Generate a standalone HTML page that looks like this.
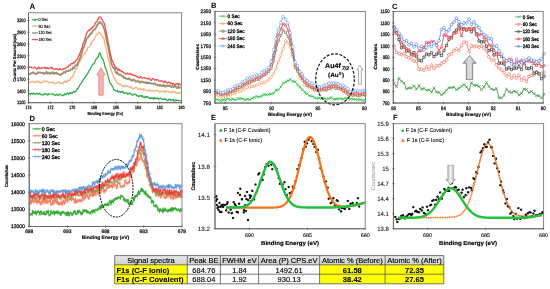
<!DOCTYPE html><html><head><meta charset="utf-8"><style>html,body{margin:0;padding:0;background:#fff;width:550px;height:289px;overflow:hidden}svg{display:block}text{font-family:"Liberation Sans", sans-serif;text-rendering:geometricPrecision}.wc{will-change:transform}</style></head><body><div style="position:relative;width:550px;height:289px;filter:blur(0.3px)"><svg class="wc" width="550" height="289" viewBox="0 0 550 289" style="position:absolute;left:0;top:0">
<defs><linearGradient id="ga" x1="0" x2="1"><stop offset="0" stop-color="#9a9a9a"/><stop offset="0.5" stop-color="#f4f4f4"/><stop offset="1" stop-color="#9a9a9a"/></linearGradient><linearGradient id="gc" x1="0" x2="1"><stop offset="0" stop-color="#b4b4b4"/><stop offset="0.5" stop-color="#dedede"/><stop offset="1" stop-color="#b0b0b0"/></linearGradient></defs>
<text x="29.4" y="8.7" font-size="7.90" text-anchor="start" font-weight="bold" fill="#000" >A</text>
<path d="M29.0 81.9 L29.7 82.1 L30.4 82.9 L31.1 82.1 L31.8 82.0 L32.5 82.2 L33.2 81.4 L33.9 81.9 L34.6 82.2 L35.3 82.6 L36.0 81.3 L36.7 81.5 L37.4 81.1 L38.1 82.4 L38.8 82.5 L39.5 81.2 L40.2 82.8 L40.9 83.1 L41.6 82.5 L42.3 82.3 L43.0 81.4 L43.7 80.9 L44.4 81.8 L45.1 81.1 L45.8 81.2 L46.5 81.4 L47.2 81.1 L47.9 81.9 L48.6 82.0 L49.3 82.9 L50.0 82.5 L50.7 82.6 L51.4 82.4 L52.1 82.8 L52.8 82.4 L53.5 82.1 L54.2 83.4 L54.9 83.8 L55.6 83.5 L56.3 83.3 L57.0 82.5 L57.7 82.2 L58.4 82.2 L59.1 81.9 L59.8 83.2 L60.5 82.8 L61.2 83.6 L61.9 82.9 L62.6 83.7 L63.3 83.4 L64.0 81.4 L64.7 81.2 L65.4 82.4 L66.1 81.5 L66.8 82.2 L67.5 80.9 L68.2 79.8 L68.9 80.5 L69.6 80.7 L70.3 79.2 L71.0 77.6 L71.7 77.0 L72.4 77.3 L73.1 76.1 L73.8 73.8 L74.5 72.8 L75.2 70.9 L75.9 69.2 L76.6 69.0 L77.3 66.5 L78.0 65.5 L78.7 63.8 L79.4 61.7 L80.1 61.2 L80.8 59.0 L81.5 58.7 L82.2 56.7 L82.9 56.0 L83.6 54.5 L84.3 53.4 L85.0 53.7 L85.7 52.5 L86.4 50.4 L87.1 50.2 L87.8 48.0 L88.5 47.1 L89.2 47.0 L89.9 45.7 L90.6 43.5 L91.3 44.0 L92.0 41.7 L92.7 40.6 L93.4 40.6 L94.1 38.9 L94.8 37.7 L95.5 36.2 L96.2 35.2 L96.9 35.2 L97.6 33.7 L98.3 33.3 L99.0 32.0 L99.7 32.3 L100.4 34.3 L101.1 34.6 L101.8 35.7 L102.5 37.3 L103.2 37.1 L103.9 38.2 L104.6 42.8 L105.3 46.0 L106.0 48.1 L106.7 50.9 L107.4 55.1 L108.1 58.8 L108.8 60.3 L109.5 64.1 L110.2 66.9 L110.9 69.0 L111.6 71.1 L112.3 73.0 L113.0 74.9 L113.7 77.8 L114.4 77.9 L115.1 79.7 L115.8 80.1 L116.5 82.2 L117.2 83.0 L117.9 83.5 L118.6 83.5 L119.3 84.8 L120.0 83.9 L120.7 84.3 L121.4 85.2 L122.1 86.2 L122.8 86.1 L123.5 85.6 L124.2 87.0 L124.9 86.0 L125.6 85.5 L126.3 86.0 L127.0 86.6 L127.7 86.0 L128.4 86.2 L129.1 86.8 L129.8 87.4 L130.5 86.7 L131.2 87.1 L131.9 88.3 L132.6 88.9 L133.3 88.4 L134.0 88.5 L134.7 88.4 L135.4 87.6 L136.1 87.3 L136.8 87.3 L137.5 89.2 L138.2 89.2 L138.9 89.8 L139.6 88.2 L140.3 89.2 L141.0 89.1 L141.7 89.6 L142.4 89.0 L143.1 90.3 L143.8 88.7 L144.5 89.4 L145.2 90.0 L145.9 90.5 L146.6 90.3 L147.3 90.3 L148.0 90.5 L148.7 90.8 L149.4 89.8 L150.1 90.4 L150.8 91.0 L151.5 91.1 L152.2 90.2 L152.9 90.9 L153.6 91.2 L154.3 90.7 L155.0 90.8 L155.7 90.4 L156.4 90.8 L157.1 91.0 L157.8 90.0 L158.5 91.0 L159.2 91.9 L159.9 92.0 L160.6 91.7 L161.3 91.0 L162.0 91.6 L162.7 91.5 L163.4 91.3 L164.1 92.1 L164.8 90.8 L165.5 91.9 L166.2 90.7 L166.9 91.7 L167.6 91.7 L168.3 91.2 L169.0 92.1 L169.7 92.0 L170.4 92.2 L171.1 92.9 L171.8 91.8 L172.5 91.2 L173.2 91.7 L173.9 92.6 L174.6 91.8 L175.3 91.7 L176.0 93.2 L176.7 93.0 L177.4 92.6 L178.1 93.5 L178.8 92.6 L179.5 93.2 L180.2 92.4 L180.9 92.7" fill="none" stroke="#f9b27a" stroke-width="1.30" stroke-linejoin="round"/>
<path d="M29.0 73.6 L29.7 74.0 L30.4 74.0 L31.1 73.0 L31.8 73.2 L32.5 72.7 L33.2 72.2 L33.9 72.8 L34.6 73.6 L35.3 73.8 L36.0 73.6 L36.7 74.0 L37.4 72.8 L38.1 72.3 L38.8 72.8 L39.5 72.5 L40.2 72.3 L40.9 72.7 L41.6 73.2 L42.3 73.0 L43.0 72.6 L43.7 73.6 L44.4 74.1 L45.1 73.1 L45.8 72.2 L46.5 72.0 L47.2 73.7 L47.9 72.4 L48.6 73.5 L49.3 73.4 L50.0 73.0 L50.7 73.8 L51.4 72.5 L52.1 72.5 L52.8 73.2 L53.5 72.5 L54.2 74.0 L54.9 73.1 L55.6 72.8 L56.3 72.6 L57.0 73.8 L57.7 73.6 L58.4 74.0 L59.1 74.2 L59.8 74.6 L60.5 75.0 L61.2 74.5 L61.9 73.5 L62.6 73.6 L63.3 72.7 L64.0 71.9 L64.7 72.4 L65.4 72.7 L66.1 71.4 L66.8 71.0 L67.5 70.8 L68.2 71.2 L68.9 70.7 L69.6 70.4 L70.3 70.4 L71.0 69.2 L71.7 69.4 L72.4 69.3 L73.1 67.3 L73.8 68.2 L74.5 67.6 L75.2 65.6 L75.9 65.3 L76.6 65.0 L77.3 64.9 L78.0 62.9 L78.7 61.1 L79.4 59.8 L80.1 57.8 L80.8 56.2 L81.5 53.3 L82.2 51.6 L82.9 48.7 L83.6 47.7 L84.3 46.1 L85.0 43.8 L85.7 42.0 L86.4 39.0 L87.1 38.3 L87.8 37.6 L88.5 36.9 L89.2 35.3 L89.9 34.9 L90.6 33.3 L91.3 33.6 L92.0 33.0 L92.7 31.3 L93.4 29.8 L94.1 29.6 L94.8 29.3 L95.5 28.7 L96.2 27.2 L96.9 25.1 L97.6 25.3 L98.3 23.0 L99.0 23.1 L99.7 21.6 L100.4 22.2 L101.1 23.7 L101.8 23.7 L102.5 24.7 L103.2 26.5 L103.9 28.3 L104.6 29.8 L105.3 33.1 L106.0 37.1 L106.7 39.8 L107.4 44.1 L108.1 46.1 L108.8 49.6 L109.5 53.8 L110.2 57.0 L110.9 61.3 L111.6 64.5 L112.3 65.5 L113.0 67.4 L113.7 68.2 L114.4 68.8 L115.1 70.1 L115.8 72.3 L116.5 73.3 L117.2 72.4 L117.9 73.9 L118.6 74.8 L119.3 74.5 L120.0 74.9 L120.7 74.6 L121.4 75.6 L122.1 76.1 L122.8 76.7 L123.5 76.1 L124.2 78.2 L124.9 78.1 L125.6 78.0 L126.3 78.9 L127.0 78.8 L127.7 78.8 L128.4 79.3 L129.1 78.3 L129.8 79.2 L130.5 79.3 L131.2 80.5 L131.9 80.9 L132.6 79.8 L133.3 80.1 L134.0 79.6 L134.7 80.3 L135.4 81.3 L136.1 81.9 L136.8 81.3 L137.5 81.0 L138.2 80.8 L138.9 81.8 L139.6 82.8 L140.3 81.5 L141.0 82.6 L141.7 81.4 L142.4 81.6 L143.1 81.8 L143.8 82.8 L144.5 82.4 L145.2 82.4 L145.9 83.1 L146.6 82.2 L147.3 83.4 L148.0 82.5 L148.7 83.2 L149.4 82.9 L150.1 82.8 L150.8 83.5 L151.5 83.6 L152.2 83.6 L152.9 83.7 L153.6 84.1 L154.3 83.5 L155.0 83.5 L155.7 84.5 L156.4 84.8 L157.1 84.7 L157.8 85.4 L158.5 85.1 L159.2 85.7 L159.9 84.6 L160.6 85.5 L161.3 85.9 L162.0 86.2 L162.7 85.1 L163.4 85.0 L164.1 86.3 L164.8 85.2 L165.5 86.6 L166.2 86.7 L166.9 85.3 L167.6 85.3 L168.3 86.3 L169.0 85.7 L169.7 85.3 L170.4 86.7 L171.1 86.3 L171.8 87.0 L172.5 85.9 L173.2 86.3 L173.9 87.0 L174.6 85.8 L175.3 86.0 L176.0 87.1 L176.7 87.9 L177.4 88.2 L178.1 86.6 L178.8 87.1 L179.5 87.8 L180.2 87.5 L180.9 87.9" fill="none" stroke="#a09070" stroke-width="1.80" stroke-linejoin="round"/>
<path d="M29.0 67.4 L29.7 67.0 L30.4 67.0 L31.1 66.9 L31.8 67.9 L32.5 68.0 L33.2 68.1 L33.9 67.3 L34.6 67.2 L35.3 67.3 L36.0 68.5 L36.7 69.1 L37.4 69.1 L38.1 67.4 L38.8 67.0 L39.5 68.7 L40.2 68.1 L40.9 68.5 L41.6 67.8 L42.3 67.9 L43.0 68.0 L43.7 67.9 L44.4 68.2 L45.1 67.1 L45.8 68.3 L46.5 68.8 L47.2 67.6 L47.9 68.0 L48.6 68.7 L49.3 68.2 L50.0 67.7 L50.7 67.5 L51.4 68.2 L52.1 67.4 L52.8 69.0 L53.5 69.2 L54.2 69.1 L54.9 69.4 L55.6 69.0 L56.3 68.6 L57.0 68.9 L57.7 68.8 L58.4 69.8 L59.1 69.6 L59.8 68.5 L60.5 69.7 L61.2 69.6 L61.9 69.7 L62.6 69.5 L63.3 68.4 L64.0 68.9 L64.7 68.7 L65.4 68.1 L66.1 67.9 L66.8 67.6 L67.5 66.5 L68.2 66.7 L68.9 65.2 L69.6 65.2 L70.3 65.1 L71.0 63.7 L71.7 63.7 L72.4 63.8 L73.1 63.4 L73.8 62.1 L74.5 62.8 L75.2 61.7 L75.9 60.2 L76.6 60.0 L77.3 59.1 L78.0 58.0 L78.7 55.7 L79.4 55.0 L80.1 52.6 L80.8 50.7 L81.5 48.9 L82.2 47.5 L82.9 43.8 L83.6 42.7 L84.3 41.2 L85.0 38.4 L85.7 36.6 L86.4 34.0 L87.1 32.2 L87.8 31.5 L88.5 30.3 L89.2 29.7 L89.9 30.3 L90.6 29.1 L91.3 28.1 L92.0 28.3 L92.7 26.9 L93.4 26.8 L94.1 25.5 L94.8 24.9 L95.5 22.5 L96.2 22.1 L96.9 21.5 L97.6 19.1 L98.3 19.4 L99.0 17.1 L99.7 17.0 L100.4 16.9 L101.1 18.0 L101.8 19.5 L102.5 19.6 L103.2 22.3 L103.9 22.7 L104.6 23.9 L105.3 27.7 L106.0 30.9 L106.7 34.3 L107.4 38.7 L108.1 42.3 L108.8 45.4 L109.5 49.9 L110.2 52.8 L110.9 55.8 L111.6 59.5 L112.3 60.4 L113.0 61.8 L113.7 64.2 L114.4 65.0 L115.1 67.2 L115.8 68.3 L116.5 67.5 L117.2 69.5 L117.9 70.1 L118.6 68.8 L119.3 70.5 L120.0 70.2 L120.7 70.6 L121.4 71.9 L122.1 71.1 L122.8 71.8 L123.5 73.0 L124.2 73.2 L124.9 73.0 L125.6 74.1 L126.3 74.2 L127.0 73.9 L127.7 73.0 L128.4 74.0 L129.1 74.0 L129.8 73.7 L130.5 73.4 L131.2 74.5 L131.9 74.1 L132.6 74.8 L133.3 75.5 L134.0 75.4 L134.7 75.1 L135.4 75.8 L136.1 75.8 L136.8 76.7 L137.5 76.5 L138.2 77.5 L138.9 77.8 L139.6 77.6 L140.3 76.7 L141.0 76.4 L141.7 78.0 L142.4 78.2 L143.1 78.0 L143.8 77.6 L144.5 77.4 L145.2 78.3 L145.9 78.4 L146.6 78.5 L147.3 78.8 L148.0 79.2 L148.7 78.2 L149.4 78.3 L150.1 79.9 L150.8 80.2 L151.5 80.3 L152.2 78.7 L152.9 78.6 L153.6 79.1 L154.3 79.6 L155.0 80.2 L155.7 79.4 L156.4 80.2 L157.1 79.6 L157.8 79.6 L158.5 80.9 L159.2 81.0 L159.9 81.3 L160.6 80.9 L161.3 81.2 L162.0 80.8 L162.7 81.1 L163.4 82.1 L164.1 82.5 L164.8 81.2 L165.5 81.1 L166.2 82.6 L166.9 82.6 L167.6 83.1 L168.3 82.1 L169.0 82.5 L169.7 82.3 L170.4 83.5 L171.1 83.0 L171.8 83.5 L172.5 84.4 L173.2 83.4 L173.9 83.7 L174.6 84.3 L175.3 84.9 L176.0 84.1 L176.7 83.9 L177.4 83.5 L178.1 85.0 L178.8 83.9 L179.5 83.7 L180.2 84.8 L180.9 84.9" fill="none" stroke="#f04a4a" stroke-width="1.25" stroke-linejoin="round"/>
<path d="M29.0 94.4 L29.7 93.7 L30.4 94.5 L31.1 93.2 L31.8 93.3 L32.5 94.2 L33.2 93.2 L33.9 93.4 L34.6 94.3 L35.3 94.5 L36.0 93.7 L36.7 93.2 L37.4 93.6 L38.1 94.4 L38.8 93.8 L39.5 93.2 L40.2 94.3 L40.9 94.2 L41.6 94.9 L42.3 95.1 L43.0 95.0 L43.7 94.1 L44.4 94.6 L45.1 93.7 L45.8 93.6 L46.5 93.8 L47.2 94.9 L47.9 95.1 L48.6 93.9 L49.3 93.9 L50.0 94.0 L50.7 94.0 L51.4 94.1 L52.1 94.1 L52.8 93.8 L53.5 94.5 L54.2 95.1 L54.9 94.8 L55.6 95.3 L56.3 94.9 L57.0 94.1 L57.7 95.1 L58.4 95.6 L59.1 94.6 L59.8 93.9 L60.5 94.7 L61.2 95.0 L61.9 95.1 L62.6 95.8 L63.3 95.2 L64.0 95.3 L64.7 93.7 L65.4 94.3 L66.1 94.7 L66.8 93.3 L67.5 92.9 L68.2 94.0 L68.9 94.5 L69.6 92.8 L70.3 93.5 L71.0 92.5 L71.7 93.4 L72.4 93.2 L73.1 92.0 L73.8 91.5 L74.5 92.2 L75.2 91.5 L75.9 91.6 L76.6 90.0 L77.3 88.6 L78.0 88.7 L78.7 87.2 L79.4 85.7 L80.1 84.6 L80.8 83.8 L81.5 82.7 L82.2 82.0 L82.9 80.0 L83.6 79.5 L84.3 78.2 L85.0 77.5 L85.7 76.3 L86.4 75.3 L87.1 74.3 L87.8 73.4 L88.5 71.7 L89.2 70.3 L89.9 69.5 L90.6 68.6 L91.3 66.8 L92.0 65.7 L92.7 64.1 L93.4 64.2 L94.1 63.9 L94.8 61.9 L95.5 60.2 L96.2 59.2 L96.9 58.6 L97.6 57.1 L98.3 56.9 L99.0 53.9 L99.7 52.7 L100.4 53.8 L101.1 56.3 L101.8 58.3 L102.5 58.7 L103.2 59.7 L103.9 62.1 L104.6 64.9 L105.3 68.0 L106.0 68.8 L106.7 71.1 L107.4 73.6 L108.1 76.1 L108.8 78.6 L109.5 81.8 L110.2 83.1 L110.9 83.6 L111.6 84.7 L112.3 86.2 L113.0 87.3 L113.7 89.8 L114.4 89.8 L115.1 90.3 L115.8 91.1 L116.5 90.7 L117.2 90.3 L117.9 91.7 L118.6 92.1 L119.3 91.2 L120.0 91.6 L120.7 92.6 L121.4 92.0 L122.1 91.5 L122.8 91.2 L123.5 93.1 L124.2 93.3 L124.9 92.6 L125.6 92.9 L126.3 93.1 L127.0 92.8 L127.7 94.3 L128.4 94.1 L129.1 93.3 L129.8 92.9 L130.5 93.8 L131.2 93.9 L131.9 94.9 L132.6 95.1 L133.3 95.0 L134.0 94.2 L134.7 94.1 L135.4 94.6 L136.1 94.6 L136.8 96.0 L137.5 95.7 L138.2 95.9 L138.9 96.8 L139.6 95.7 L140.3 96.1 L141.0 95.5 L141.7 96.7 L142.4 95.6 L143.1 97.1 L143.8 97.5 L144.5 97.7 L145.2 96.4 L145.9 96.5 L146.6 97.5 L147.3 96.6 L148.0 97.2 L148.7 97.4 L149.4 98.5 L150.1 98.0 L150.8 98.6 L151.5 97.6 L152.2 98.5 L152.9 98.0 L153.6 99.0 L154.3 97.6 L155.0 98.9 L155.7 97.9 L156.4 98.5 L157.1 98.7 L157.8 98.0 L158.5 99.3 L159.2 98.6 L159.9 98.6 L160.6 98.1 L161.3 98.5 L162.0 99.0 L162.7 99.7 L163.4 99.1 L164.1 99.7 L164.8 98.7 L165.5 99.2 L166.2 99.4 L166.9 100.6 L167.6 100.6 L168.3 100.3 L169.0 99.0 L169.7 99.5 L170.4 100.3 L171.1 99.6 L171.8 100.2 L172.5 100.1 L173.2 99.3 L173.9 101.1 L174.6 101.1 L175.3 100.0 L176.0 100.7 L176.7 100.2 L177.4 100.3 L178.1 100.7 L178.8 100.4 L179.5 100.5 L180.2 100.6 L180.9 101.3" fill="none" stroke="#22aa44" stroke-width="1.20" stroke-linejoin="round"/>
<path d="M101 67.8 L105.2 75 L103.2 75 L103.2 95.2 L98.8 95.2 L98.8 75 L96.8 75 Z" fill="#f8b4b4" stroke="#e47070" stroke-width="0.7"/>
<rect x="28.5" y="12.8" width="153.1" height="89.9" fill="none" stroke="#7a7a7a" stroke-width="0.90"/>
<path d="M28.5 12.8 V102.7 H181.6" fill="none" stroke="#666" stroke-width="0.90"/>
<path d="M27.2 20.5 h2.6" stroke="#555" stroke-width="0.6"/>
<text x="25.6" y="22.3" font-size="4.90" text-anchor="end" font-weight="normal" fill="#1a1a1a" stroke="#1a1a1a" stroke-width="0.30" textLength="8.6" lengthAdjust="spacingAndGlyphs" >3200</text>
<path d="M27.2 32.2 h2.6" stroke="#555" stroke-width="0.6"/>
<text x="25.6" y="34.0" font-size="4.90" text-anchor="end" font-weight="normal" fill="#1a1a1a" stroke="#1a1a1a" stroke-width="0.30" textLength="8.6" lengthAdjust="spacingAndGlyphs" >2900</text>
<path d="M27.2 44.0 h2.6" stroke="#555" stroke-width="0.6"/>
<text x="25.6" y="45.7" font-size="4.90" text-anchor="end" font-weight="normal" fill="#1a1a1a" stroke="#1a1a1a" stroke-width="0.30" textLength="8.6" lengthAdjust="spacingAndGlyphs" >2600</text>
<path d="M27.2 55.7 h2.6" stroke="#555" stroke-width="0.6"/>
<text x="25.6" y="57.5" font-size="4.90" text-anchor="end" font-weight="normal" fill="#1a1a1a" stroke="#1a1a1a" stroke-width="0.30" textLength="8.6" lengthAdjust="spacingAndGlyphs" >2300</text>
<path d="M27.2 67.4 h2.6" stroke="#555" stroke-width="0.6"/>
<text x="25.6" y="69.2" font-size="4.90" text-anchor="end" font-weight="normal" fill="#1a1a1a" stroke="#1a1a1a" stroke-width="0.30" textLength="8.6" lengthAdjust="spacingAndGlyphs" >2000</text>
<path d="M27.2 79.2 h2.6" stroke="#555" stroke-width="0.6"/>
<text x="25.6" y="80.9" font-size="4.90" text-anchor="end" font-weight="normal" fill="#1a1a1a" stroke="#1a1a1a" stroke-width="0.30" textLength="8.6" lengthAdjust="spacingAndGlyphs" >1700</text>
<path d="M27.2 90.9 h2.6" stroke="#555" stroke-width="0.6"/>
<text x="25.6" y="92.6" font-size="4.90" text-anchor="end" font-weight="normal" fill="#1a1a1a" stroke="#1a1a1a" stroke-width="0.30" textLength="8.6" lengthAdjust="spacingAndGlyphs" >1400</text>
<path d="M27.2 102.6 h2.6" stroke="#555" stroke-width="0.6"/>
<text x="25.6" y="104.4" font-size="4.90" text-anchor="end" font-weight="normal" fill="#1a1a1a" stroke="#1a1a1a" stroke-width="0.30" textLength="8.6" lengthAdjust="spacingAndGlyphs" >1100</text>
<path d="M28.5 101.4 v2.6" stroke="#555" stroke-width="0.6"/>
<text x="28.5" y="109.4" font-size="4.70" text-anchor="middle" font-weight="normal" fill="#1a1a1a" stroke="#1a1a1a" stroke-width="0.30" textLength="6.0" lengthAdjust="spacingAndGlyphs" >174</text>
<path d="M50.4 101.4 v2.6" stroke="#555" stroke-width="0.6"/>
<text x="50.4" y="109.4" font-size="4.70" text-anchor="middle" font-weight="normal" fill="#1a1a1a" stroke="#1a1a1a" stroke-width="0.30" textLength="6.0" lengthAdjust="spacingAndGlyphs" >172</text>
<path d="M72.2 101.4 v2.6" stroke="#555" stroke-width="0.6"/>
<text x="72.2" y="109.4" font-size="4.70" text-anchor="middle" font-weight="normal" fill="#1a1a1a" stroke="#1a1a1a" stroke-width="0.30" textLength="6.0" lengthAdjust="spacingAndGlyphs" >170</text>
<path d="M94.1 101.4 v2.6" stroke="#555" stroke-width="0.6"/>
<text x="94.1" y="109.4" font-size="4.70" text-anchor="middle" font-weight="normal" fill="#1a1a1a" stroke="#1a1a1a" stroke-width="0.30" textLength="6.0" lengthAdjust="spacingAndGlyphs" >168</text>
<path d="M116.0 101.4 v2.6" stroke="#555" stroke-width="0.6"/>
<text x="116.0" y="109.4" font-size="4.70" text-anchor="middle" font-weight="normal" fill="#1a1a1a" stroke="#1a1a1a" stroke-width="0.30" textLength="6.0" lengthAdjust="spacingAndGlyphs" >166</text>
<path d="M137.9 101.4 v2.6" stroke="#555" stroke-width="0.6"/>
<text x="137.9" y="109.4" font-size="4.70" text-anchor="middle" font-weight="normal" fill="#1a1a1a" stroke="#1a1a1a" stroke-width="0.30" textLength="6.0" lengthAdjust="spacingAndGlyphs" >164</text>
<path d="M159.7 101.4 v2.6" stroke="#555" stroke-width="0.6"/>
<text x="159.7" y="109.4" font-size="4.70" text-anchor="middle" font-weight="normal" fill="#1a1a1a" stroke="#1a1a1a" stroke-width="0.30" textLength="6.0" lengthAdjust="spacingAndGlyphs" >162</text>
<path d="M181.6 101.4 v2.6" stroke="#555" stroke-width="0.6"/>
<text x="181.6" y="109.4" font-size="4.70" text-anchor="middle" font-weight="normal" fill="#1a1a1a" stroke="#1a1a1a" stroke-width="0.30" textLength="6.0" lengthAdjust="spacingAndGlyphs" >160</text>
<text x="105.2" y="115.0" font-size="4.30" text-anchor="middle" font-weight="bold" fill="#000" stroke="#000" stroke-width="0.15" textLength="35.5" lengthAdjust="spacingAndGlyphs" >Binding Energy (Ev)</text>
<text x="0" y="0" font-size="4.20" font-weight="bold" fill="#000" stroke="#000" stroke-width="0.18" textLength="48.0" lengthAdjust="spacingAndGlyphs" text-anchor="middle" transform="translate(15.6 57.8) rotate(-90)">Counts Per Second (cps)</text>
<path d="M32 19.7 h6" stroke="#22aa44" stroke-width="1.1"/>
<path d="M34.3 19.0h1.44v1.44h-1.44z" fill="none" stroke="#22aa44" stroke-width="0.60"/>
<text x="38.4" y="21.2" font-size="4.40" text-anchor="start" font-weight="normal" fill="#000" stroke="#000" stroke-width="0.15" textLength="9.5" lengthAdjust="spacingAndGlyphs" >0 Sec</text>
<path d="M32 26.1 h6" stroke="#f9b27a" stroke-width="1.1"/>
<path d="M35.0 25.2l0.90 0.90l-0.90 0.90l-0.90 -0.90z" fill="none" stroke="#f9b27a" stroke-width="0.60"/>
<text x="38.4" y="27.6" font-size="4.40" text-anchor="start" font-weight="normal" fill="#000" stroke="#000" stroke-width="0.15" textLength="12.0" lengthAdjust="spacingAndGlyphs" >60 Sec</text>
<path d="M32 32.9 h6" stroke="#a09070" stroke-width="1.1"/>
<path d="M35.0 32.0l0.90 0.90l-0.90 0.90l-0.90 -0.90z" fill="none" stroke="#a09070" stroke-width="0.60"/>
<text x="38.4" y="34.4" font-size="4.40" text-anchor="start" font-weight="normal" fill="#000" stroke="#000" stroke-width="0.15" textLength="13.5" lengthAdjust="spacingAndGlyphs" >120 Sec</text>
<path d="M32 39.6 h6" stroke="#f04a4a" stroke-width="1.1"/>
<path d="M34.1 38.7l1.80 1.80M34.1 40.5l1.80 -1.80" fill="none" stroke="#f04a4a" stroke-width="0.60"/>
<text x="38.4" y="41.1" font-size="4.40" text-anchor="start" font-weight="normal" fill="#000" stroke="#000" stroke-width="0.15" textLength="13.5" lengthAdjust="spacingAndGlyphs" >180 Sec</text>
<text x="211.0" y="8.0" font-size="7.60" text-anchor="start" font-weight="bold" fill="#000" >B</text>
<path d="M216.0 99.4 L217.2 99.2 L218.4 100.1 L219.6 99.5 L220.8 100.5 L222.0 100.0 L223.2 100.2 L224.4 99.5 L225.6 100.2 L226.8 99.0 L228.0 98.8 L229.2 98.7 L230.4 99.7 L231.6 99.9 L232.8 99.0 L234.0 99.2 L235.2 100.0 L236.4 99.7 L237.6 98.7 L238.8 98.7 L240.0 98.6 L241.2 98.5 L242.4 98.9 L243.6 98.4 L244.8 99.8 L246.0 99.2 L247.2 99.2 L248.4 99.4 L249.6 99.6 L250.8 99.5 L252.0 98.4 L253.2 97.7 L254.4 97.4 L255.6 96.3 L256.8 96.4 L258.0 96.7 L259.2 96.9 L260.4 96.4 L261.6 96.0 L262.8 95.7 L264.0 94.5 L265.2 94.8 L266.4 94.7 L267.6 95.2 L268.8 94.2 L270.0 94.4 L271.2 93.9 L272.4 93.7 L273.6 93.0 L274.8 91.9 L276.0 90.2 L277.2 90.3 L278.4 89.9 L279.6 88.5 L280.8 86.7 L282.0 85.3 L283.2 83.1 L284.4 82.4 L285.6 82.1 L286.8 80.9 L288.0 80.7 L289.2 80.5 L290.4 79.3 L291.6 81.1 L292.8 81.5 L294.0 81.4 L295.2 81.7 L296.4 83.1 L297.6 84.8 L298.8 86.3 L300.0 86.8 L301.2 89.1 L302.4 89.7 L303.6 91.2 L304.8 92.0 L306.0 94.2 L307.2 93.6 L308.4 95.4 L309.6 95.7 L310.8 96.1 L312.0 96.4 L313.2 96.2 L314.4 97.6 L315.6 98.3 L316.8 98.4 L318.0 98.4 L319.2 97.8 L320.4 99.1 L321.6 98.3 L322.8 99.3 L324.0 98.3 L325.2 98.7 L326.4 99.2 L327.6 98.2 L328.8 98.6 L330.0 97.8 L331.2 97.6 L332.4 97.8 L333.6 99.3 L334.8 99.5 L336.0 99.1 L337.2 98.3 L338.4 98.9 L339.6 99.1 L340.8 98.5 L342.0 98.8 L343.2 99.3 L344.4 98.1 L345.6 98.2 L346.8 98.8 L348.0 98.3 L349.2 98.7 L350.4 99.2 L351.6 98.6 L352.8 99.2 L354.0 98.9 L355.2 99.4 L356.4 99.2 L357.6 99.7 L358.8 98.8 L360.0 99.8 L361.2 99.1 L362.4 100.5 L363.6 100.1 L364.8 99.9" fill="none" stroke="#2ec040" stroke-width="0.9"/>
<path d="M214.6 98.0l2.90 2.90M214.6 100.9l2.90 -2.90M217.0 98.7l2.90 2.90M217.0 101.6l2.90 -2.90M219.4 99.1l2.90 2.90M219.4 102.0l2.90 -2.90M221.8 98.7l2.90 2.90M221.8 101.6l2.90 -2.90M224.2 98.8l2.90 2.90M224.2 101.7l2.90 -2.90M226.6 97.4l2.90 2.90M226.6 100.3l2.90 -2.90M229.0 98.2l2.90 2.90M229.0 101.1l2.90 -2.90M231.4 97.5l2.90 2.90M231.4 100.4l2.90 -2.90M233.8 98.5l2.90 2.90M233.8 101.4l2.90 -2.90M236.2 97.3l2.90 2.90M236.2 100.2l2.90 -2.90M238.6 97.1l2.90 2.90M238.6 100.0l2.90 -2.90M241.0 97.5l2.90 2.90M241.0 100.4l2.90 -2.90M243.4 98.4l2.90 2.90M243.4 101.3l2.90 -2.90M245.8 97.7l2.90 2.90M245.8 100.6l2.90 -2.90M248.2 98.2l2.90 2.90M248.2 101.1l2.90 -2.90M250.6 96.9l2.90 2.90M250.6 99.8l2.90 -2.90M253.0 95.9l2.90 2.90M253.0 98.8l2.90 -2.90M255.4 95.0l2.90 2.90M255.4 97.9l2.90 -2.90M257.8 95.4l2.90 2.90M257.8 98.3l2.90 -2.90M260.2 94.5l2.90 2.90M260.2 97.4l2.90 -2.90M262.6 93.1l2.90 2.90M262.6 96.0l2.90 -2.90M264.9 93.3l2.90 2.90M264.9 96.2l2.90 -2.90M267.4 92.8l2.90 2.90M267.4 95.7l2.90 -2.90M269.8 92.5l2.90 2.90M269.8 95.4l2.90 -2.90M272.2 91.6l2.90 2.90M272.2 94.5l2.90 -2.90M274.6 88.7l2.90 2.90M274.6 91.6l2.90 -2.90M276.9 88.4l2.90 2.90M276.9 91.3l2.90 -2.90M279.4 85.3l2.90 2.90M279.4 88.2l2.90 -2.90M281.8 81.7l2.90 2.90M281.8 84.6l2.90 -2.90M284.2 80.6l2.90 2.90M284.2 83.5l2.90 -2.90M286.6 79.2l2.90 2.90M286.6 82.1l2.90 -2.90M288.9 77.9l2.90 2.90M288.9 80.8l2.90 -2.90M291.4 80.0l2.90 2.90M291.4 82.9l2.90 -2.90M293.8 80.3l2.90 2.90M293.8 83.2l2.90 -2.90M296.2 83.4l2.90 2.90M296.2 86.3l2.90 -2.90M298.6 85.3l2.90 2.90M298.6 88.2l2.90 -2.90M300.9 88.3l2.90 2.90M300.9 91.2l2.90 -2.90M303.4 90.5l2.90 2.90M303.4 93.4l2.90 -2.90M305.8 92.2l2.90 2.90M305.8 95.1l2.90 -2.90M308.2 94.2l2.90 2.90M308.2 97.1l2.90 -2.90M310.6 95.0l2.90 2.90M310.6 97.9l2.90 -2.90M312.9 96.2l2.90 2.90M312.9 99.1l2.90 -2.90M315.4 97.0l2.90 2.90M315.4 99.9l2.90 -2.90M317.8 96.3l2.90 2.90M317.8 99.2l2.90 -2.90M320.2 96.9l2.90 2.90M320.2 99.8l2.90 -2.90M322.6 96.8l2.90 2.90M322.6 99.7l2.90 -2.90M324.9 97.8l2.90 2.90M324.9 100.7l2.90 -2.90M327.4 97.1l2.90 2.90M327.4 100.0l2.90 -2.90M329.8 96.2l2.90 2.90M329.8 99.1l2.90 -2.90M332.2 97.9l2.90 2.90M332.2 100.8l2.90 -2.90M334.6 97.6l2.90 2.90M334.6 100.5l2.90 -2.90M336.9 97.4l2.90 2.90M336.9 100.3l2.90 -2.90M339.4 97.1l2.90 2.90M339.4 100.0l2.90 -2.90M341.8 97.9l2.90 2.90M341.8 100.8l2.90 -2.90M344.2 96.7l2.90 2.90M344.2 99.6l2.90 -2.90M346.6 96.9l2.90 2.90M346.6 99.8l2.90 -2.90M348.9 97.7l2.90 2.90M348.9 100.6l2.90 -2.90M351.3 97.7l2.90 2.90M351.3 100.6l2.90 -2.90M353.8 98.0l2.90 2.90M353.8 100.9l2.90 -2.90M356.2 98.3l2.90 2.90M356.2 101.2l2.90 -2.90M358.6 98.3l2.90 2.90M358.6 101.2l2.90 -2.90M360.9 99.0l2.90 2.90M360.9 101.9l2.90 -2.90M363.3 98.4l2.90 2.90M363.3 101.3l2.90 -2.90" fill="none" stroke="#2ec040" stroke-width="0.60"/>
<path d="M216.0 94.9 L217.2 95.5 L218.4 95.9 L219.6 96.3 L220.8 96.6 L222.0 96.4 L223.2 97.4 L224.4 97.3 L225.6 96.9 L226.8 95.7 L228.0 95.1 L229.2 94.9 L230.4 95.1 L231.6 94.1 L232.8 93.6 L234.0 93.0 L235.2 93.3 L236.4 92.0 L237.6 90.9 L238.8 91.6 L240.0 91.7 L241.2 91.0 L242.4 90.3 L243.6 90.1 L244.8 88.9 L246.0 88.8 L247.2 87.5 L248.4 87.1 L249.6 87.2 L250.8 87.1 L252.0 86.6 L253.2 85.6 L254.4 86.2 L255.6 85.7 L256.8 84.8 L258.0 84.5 L259.2 84.3 L260.4 83.5 L261.6 82.5 L262.8 83.3 L264.0 83.0 L265.2 81.8 L266.4 81.4 L267.6 80.0 L268.8 79.8 L270.0 78.2 L271.2 77.1 L272.4 75.1 L273.6 73.9 L274.8 70.7 L276.0 68.7 L277.2 64.5 L278.4 61.8 L279.6 59.5 L280.8 54.8 L282.0 51.9 L283.2 48.9 L284.4 45.1 L285.6 40.9 L286.8 40.9 L288.0 43.2 L289.2 44.5 L290.4 47.3 L291.6 52.5 L292.8 56.4 L294.0 61.0 L295.2 65.5 L296.4 67.8 L297.6 70.9 L298.8 74.8 L300.0 78.0 L301.2 79.0 L302.4 80.1 L303.6 81.9 L304.8 84.9 L306.0 86.1 L307.2 85.9 L308.4 87.8 L309.6 88.0 L310.8 88.5 L312.0 88.2 L313.2 89.5 L314.4 90.2 L315.6 89.0 L316.8 89.7 L318.0 89.2 L319.2 90.5 L320.4 89.3 L321.6 89.2 L322.8 90.2 L324.0 89.7 L325.2 90.6 L326.4 90.4 L327.6 89.8 L328.8 88.3 L330.0 88.7 L331.2 89.1 L332.4 88.1 L333.6 87.0 L334.8 86.9 L336.0 87.3 L337.2 88.4 L338.4 88.0 L339.6 88.2 L340.8 88.9 L342.0 90.4 L343.2 91.5 L344.4 91.5 L345.6 92.6 L346.8 93.8 L348.0 94.1 L349.2 94.1 L350.4 94.6 L351.6 95.7 L352.8 95.5 L354.0 94.8 L355.2 95.4 L356.4 94.5 L357.6 96.0 L358.8 95.3 L360.0 95.4 L361.2 95.4 L362.4 94.6 L363.6 95.5 L364.8 95.1" fill="none" stroke="#ff8a3d" stroke-width="0.9"/>
<path d="M216.0 93.3l1.55 1.55l-1.55 1.55l-1.55 -1.55zM218.4 94.3l1.55 1.55l-1.55 1.55l-1.55 -1.55zM220.8 95.0l1.55 1.55l-1.55 1.55l-1.55 -1.55zM223.2 95.9l1.55 1.55l-1.55 1.55l-1.55 -1.55zM225.6 95.4l1.55 1.55l-1.55 1.55l-1.55 -1.55zM228.0 93.6l1.55 1.55l-1.55 1.55l-1.55 -1.55zM230.4 93.6l1.55 1.55l-1.55 1.55l-1.55 -1.55zM232.8 92.0l1.55 1.55l-1.55 1.55l-1.55 -1.55zM235.2 91.8l1.55 1.55l-1.55 1.55l-1.55 -1.55zM237.6 89.4l1.55 1.55l-1.55 1.55l-1.55 -1.55zM240.0 90.1l1.55 1.55l-1.55 1.55l-1.55 -1.55zM242.4 88.8l1.55 1.55l-1.55 1.55l-1.55 -1.55zM244.8 87.4l1.55 1.55l-1.55 1.55l-1.55 -1.55zM247.2 86.0l1.55 1.55l-1.55 1.55l-1.55 -1.55zM249.6 85.7l1.55 1.55l-1.55 1.55l-1.55 -1.55zM252.0 85.0l1.55 1.55l-1.55 1.55l-1.55 -1.55zM254.4 84.7l1.55 1.55l-1.55 1.55l-1.55 -1.55zM256.8 83.3l1.55 1.55l-1.55 1.55l-1.55 -1.55zM259.2 82.7l1.55 1.55l-1.55 1.55l-1.55 -1.55zM261.6 81.0l1.55 1.55l-1.55 1.55l-1.55 -1.55zM264.0 81.4l1.55 1.55l-1.55 1.55l-1.55 -1.55zM266.4 79.9l1.55 1.55l-1.55 1.55l-1.55 -1.55zM268.8 78.3l1.55 1.55l-1.55 1.55l-1.55 -1.55zM271.2 75.6l1.55 1.55l-1.55 1.55l-1.55 -1.55zM273.6 72.3l1.55 1.55l-1.55 1.55l-1.55 -1.55zM276.0 67.2l1.55 1.55l-1.55 1.55l-1.55 -1.55zM278.4 60.3l1.55 1.55l-1.55 1.55l-1.55 -1.55zM280.8 53.3l1.55 1.55l-1.55 1.55l-1.55 -1.55zM283.2 47.3l1.55 1.55l-1.55 1.55l-1.55 -1.55zM285.6 39.3l1.55 1.55l-1.55 1.55l-1.55 -1.55zM288.0 41.6l1.55 1.55l-1.55 1.55l-1.55 -1.55zM290.4 45.8l1.55 1.55l-1.55 1.55l-1.55 -1.55zM292.8 54.9l1.55 1.55l-1.55 1.55l-1.55 -1.55zM295.2 64.0l1.55 1.55l-1.55 1.55l-1.55 -1.55zM297.6 69.4l1.55 1.55l-1.55 1.55l-1.55 -1.55zM300.0 76.5l1.55 1.55l-1.55 1.55l-1.55 -1.55zM302.4 78.6l1.55 1.55l-1.55 1.55l-1.55 -1.55zM304.8 83.3l1.55 1.55l-1.55 1.55l-1.55 -1.55zM307.2 84.3l1.55 1.55l-1.55 1.55l-1.55 -1.55zM309.6 86.5l1.55 1.55l-1.55 1.55l-1.55 -1.55zM312.0 86.6l1.55 1.55l-1.55 1.55l-1.55 -1.55zM314.4 88.6l1.55 1.55l-1.55 1.55l-1.55 -1.55zM316.8 88.1l1.55 1.55l-1.55 1.55l-1.55 -1.55zM319.2 88.9l1.55 1.55l-1.55 1.55l-1.55 -1.55zM321.6 87.6l1.55 1.55l-1.55 1.55l-1.55 -1.55zM324.0 88.2l1.55 1.55l-1.55 1.55l-1.55 -1.55zM326.4 88.8l1.55 1.55l-1.55 1.55l-1.55 -1.55zM328.8 86.8l1.55 1.55l-1.55 1.55l-1.55 -1.55zM331.2 87.5l1.55 1.55l-1.55 1.55l-1.55 -1.55zM333.6 85.5l1.55 1.55l-1.55 1.55l-1.55 -1.55zM336.0 85.8l1.55 1.55l-1.55 1.55l-1.55 -1.55zM338.4 86.5l1.55 1.55l-1.55 1.55l-1.55 -1.55zM340.8 87.3l1.55 1.55l-1.55 1.55l-1.55 -1.55zM343.2 89.9l1.55 1.55l-1.55 1.55l-1.55 -1.55zM345.6 91.1l1.55 1.55l-1.55 1.55l-1.55 -1.55zM348.0 92.6l1.55 1.55l-1.55 1.55l-1.55 -1.55zM350.4 93.0l1.55 1.55l-1.55 1.55l-1.55 -1.55zM352.8 94.0l1.55 1.55l-1.55 1.55l-1.55 -1.55zM355.2 93.8l1.55 1.55l-1.55 1.55l-1.55 -1.55zM357.6 94.4l1.55 1.55l-1.55 1.55l-1.55 -1.55zM360.0 93.8l1.55 1.55l-1.55 1.55l-1.55 -1.55zM362.4 93.1l1.55 1.55l-1.55 1.55l-1.55 -1.55zM364.8 93.6l1.55 1.55l-1.55 1.55l-1.55 -1.55z" fill="#fff" stroke="#ff8a3d" stroke-width="0.60"/>
<path d="M216.0 92.8 L217.2 93.9 L218.4 93.1 L219.6 93.5 L220.8 94.6 L222.0 94.2 L223.2 94.3 L224.4 94.8 L225.6 93.7 L226.8 94.4 L228.0 94.3 L229.2 92.1 L230.4 92.1 L231.6 92.2 L232.8 91.1 L234.0 91.5 L235.2 90.3 L236.4 89.1 L237.6 89.2 L238.8 88.8 L240.0 87.6 L241.2 87.3 L242.4 86.9 L243.6 85.8 L244.8 85.0 L246.0 84.8 L247.2 83.9 L248.4 83.0 L249.6 83.2 L250.8 81.5 L252.0 81.9 L253.2 80.5 L254.4 80.7 L255.6 79.7 L256.8 79.5 L258.0 79.7 L259.2 79.4 L260.4 78.9 L261.6 77.1 L262.8 76.5 L264.0 75.2 L265.2 75.0 L266.4 74.1 L267.6 72.4 L268.8 71.8 L270.0 70.4 L271.2 68.4 L272.4 66.3 L273.6 60.8 L274.8 55.9 L276.0 50.1 L277.2 45.4 L278.4 41.0 L279.6 38.3 L280.8 35.3 L282.0 33.6 L283.2 29.8 L284.4 31.4 L285.6 32.8 L286.8 34.4 L288.0 36.6 L289.2 39.6 L290.4 43.3 L291.6 48.7 L292.8 54.5 L294.0 61.2 L295.2 67.5 L296.4 69.6 L297.6 71.3 L298.8 73.9 L300.0 75.3 L301.2 78.1 L302.4 78.9 L303.6 80.5 L304.8 82.0 L306.0 84.0 L307.2 85.4 L308.4 86.4 L309.6 86.0 L310.8 87.1 L312.0 87.7 L313.2 88.0 L314.4 89.9 L315.6 88.9 L316.8 89.7 L318.0 90.5 L319.2 91.3 L320.4 90.0 L321.6 90.2 L322.8 90.6 L324.0 89.4 L325.2 89.3 L326.4 90.2 L327.6 88.7 L328.8 88.6 L330.0 88.1 L331.2 88.0 L332.4 87.1 L333.6 86.6 L334.8 88.4 L336.0 88.6 L337.2 88.8 L338.4 88.2 L339.6 88.4 L340.8 89.4 L342.0 89.5 L343.2 90.4 L344.4 91.9 L345.6 91.8 L346.8 92.4 L348.0 94.4 L349.2 94.8 L350.4 94.2 L351.6 94.7 L352.8 95.2 L354.0 94.2 L355.2 94.6 L356.4 95.3 L357.6 95.7 L358.8 95.3 L360.0 95.8 L361.2 95.1 L362.4 94.8 L363.6 95.6 L364.8 94.9" fill="none" stroke="#7d6b4b" stroke-width="0.9"/>
<path d="M215.0 91.8h1.92v1.92h-1.92zM217.4 92.1h1.92v1.92h-1.92zM219.8 93.7h1.92v1.92h-1.92zM222.2 93.4h1.92v1.92h-1.92zM224.6 92.8h1.92v1.92h-1.92zM227.0 93.3h1.92v1.92h-1.92zM229.4 91.1h1.92v1.92h-1.92zM231.8 90.1h1.92v1.92h-1.92zM234.2 89.4h1.92v1.92h-1.92zM236.6 88.2h1.92v1.92h-1.92zM239.0 86.6h1.92v1.92h-1.92zM241.4 86.0h1.92v1.92h-1.92zM243.8 84.0h1.92v1.92h-1.92zM246.2 83.0h1.92v1.92h-1.92zM248.6 82.3h1.92v1.92h-1.92zM251.0 81.0h1.92v1.92h-1.92zM253.4 79.7h1.92v1.92h-1.92zM255.8 78.5h1.92v1.92h-1.92zM258.2 78.4h1.92v1.92h-1.92zM260.6 76.1h1.92v1.92h-1.92zM263.0 74.3h1.92v1.92h-1.92zM265.4 73.1h1.92v1.92h-1.92zM267.8 70.8h1.92v1.92h-1.92zM270.2 67.4h1.92v1.92h-1.92zM272.6 59.8h1.92v1.92h-1.92zM275.0 49.2h1.92v1.92h-1.92zM277.4 40.0h1.92v1.92h-1.92zM279.8 34.4h1.92v1.92h-1.92zM282.2 28.8h1.92v1.92h-1.92zM284.6 31.8h1.92v1.92h-1.92zM287.0 35.6h1.92v1.92h-1.92zM289.4 42.3h1.92v1.92h-1.92zM291.8 53.6h1.92v1.92h-1.92zM294.2 66.5h1.92v1.92h-1.92zM296.6 70.3h1.92v1.92h-1.92zM299.0 74.3h1.92v1.92h-1.92zM301.4 77.9h1.92v1.92h-1.92zM303.8 81.0h1.92v1.92h-1.92zM306.2 84.4h1.92v1.92h-1.92zM308.6 85.1h1.92v1.92h-1.92zM311.0 86.7h1.92v1.92h-1.92zM313.4 89.0h1.92v1.92h-1.92zM315.8 88.7h1.92v1.92h-1.92zM318.2 90.3h1.92v1.92h-1.92zM320.6 89.2h1.92v1.92h-1.92zM323.0 88.4h1.92v1.92h-1.92zM325.4 89.2h1.92v1.92h-1.92zM327.8 87.6h1.92v1.92h-1.92zM330.2 87.0h1.92v1.92h-1.92zM332.6 85.6h1.92v1.92h-1.92zM335.0 87.7h1.92v1.92h-1.92zM337.4 87.3h1.92v1.92h-1.92zM339.8 88.4h1.92v1.92h-1.92zM342.2 89.5h1.92v1.92h-1.92zM344.6 90.9h1.92v1.92h-1.92zM347.0 93.4h1.92v1.92h-1.92zM349.4 93.3h1.92v1.92h-1.92zM351.8 94.2h1.92v1.92h-1.92zM354.2 93.6h1.92v1.92h-1.92zM356.6 94.7h1.92v1.92h-1.92zM359.0 94.8h1.92v1.92h-1.92zM361.4 93.9h1.92v1.92h-1.92zM363.8 93.9h1.92v1.92h-1.92z" fill="#fff" stroke="#7d6b4b" stroke-width="0.60"/>
<path d="M216.0 92.7 L217.2 92.1 L218.4 92.4 L219.6 92.4 L220.8 93.2 L222.0 92.9 L223.2 93.2 L224.4 93.2 L225.6 93.1 L226.8 92.3 L228.0 92.0 L229.2 92.4 L230.4 91.5 L231.6 91.2 L232.8 89.5 L234.0 89.1 L235.2 88.0 L236.4 88.4 L237.6 87.5 L238.8 86.6 L240.0 85.3 L241.2 84.8 L242.4 84.2 L243.6 83.8 L244.8 84.1 L246.0 83.1 L247.2 81.6 L248.4 80.9 L249.6 80.1 L250.8 80.9 L252.0 79.6 L253.2 79.7 L254.4 79.3 L255.6 79.1 L256.8 77.1 L258.0 76.9 L259.2 76.5 L260.4 75.4 L261.6 75.9 L262.8 74.4 L264.0 74.2 L265.2 73.0 L266.4 71.3 L267.6 70.9 L268.8 69.1 L270.0 66.6 L271.2 64.6 L272.4 62.0 L273.6 55.2 L274.8 49.9 L276.0 44.8 L277.2 39.6 L278.4 34.4 L279.6 32.4 L280.8 28.8 L282.0 26.6 L283.2 23.7 L284.4 23.2 L285.6 25.2 L286.8 27.4 L288.0 30.3 L289.2 34.3 L290.4 38.6 L291.6 45.1 L292.8 51.2 L294.0 58.2 L295.2 64.5 L296.4 66.4 L297.6 68.2 L298.8 70.3 L300.0 73.5 L301.2 75.4 L302.4 77.7 L303.6 79.9 L304.8 80.5 L306.0 82.1 L307.2 83.6 L308.4 83.4 L309.6 85.0 L310.8 85.8 L312.0 86.9 L313.2 87.4 L314.4 86.9 L315.6 87.9 L316.8 87.3 L318.0 88.1 L319.2 88.5 L320.4 88.1 L321.6 88.3 L322.8 88.1 L324.0 88.1 L325.2 87.5 L326.4 86.7 L327.6 86.6 L328.8 86.4 L330.0 85.4 L331.2 85.9 L332.4 85.0 L333.6 84.3 L334.8 84.8 L336.0 85.4 L337.2 85.4 L338.4 86.5 L339.6 87.2 L340.8 87.6 L342.0 88.6 L343.2 88.1 L344.4 89.3 L345.6 90.1 L346.8 90.4 L348.0 91.8 L349.2 92.1 L350.4 93.3 L351.6 93.6 L352.8 93.5 L354.0 93.2 L355.2 93.0 L356.4 92.5 L357.6 93.0 L358.8 94.1 L360.0 93.7 L361.2 93.0 L362.4 93.5 L363.6 92.6 L364.8 92.9" fill="none" stroke="#ee3a3a" stroke-width="0.9"/>
<path d="M216.0 91.4l1.30 2.21h-2.60zM218.4 91.1l1.30 2.21h-2.60zM220.8 91.9l1.30 2.21h-2.60zM223.2 91.9l1.30 2.21h-2.60zM225.6 91.8l1.30 2.21h-2.60zM228.0 90.7l1.30 2.21h-2.60zM230.4 90.2l1.30 2.21h-2.60zM232.8 88.2l1.30 2.21h-2.60zM235.2 86.7l1.30 2.21h-2.60zM237.6 86.2l1.30 2.21h-2.60zM240.0 84.0l1.30 2.21h-2.60zM242.4 82.9l1.30 2.21h-2.60zM244.8 82.8l1.30 2.21h-2.60zM247.2 80.3l1.30 2.21h-2.60zM249.6 78.8l1.30 2.21h-2.60zM252.0 78.3l1.30 2.21h-2.60zM254.4 78.0l1.30 2.21h-2.60zM256.8 75.8l1.30 2.21h-2.60zM259.2 75.2l1.30 2.21h-2.60zM261.6 74.6l1.30 2.21h-2.60zM264.0 72.9l1.30 2.21h-2.60zM266.4 70.0l1.30 2.21h-2.60zM268.8 67.8l1.30 2.21h-2.60zM271.2 63.3l1.30 2.21h-2.60zM273.6 53.9l1.30 2.21h-2.60zM276.0 43.5l1.30 2.21h-2.60zM278.4 33.1l1.30 2.21h-2.60zM280.8 27.5l1.30 2.21h-2.60zM283.2 22.4l1.30 2.21h-2.60zM285.6 23.9l1.30 2.21h-2.60zM288.0 29.0l1.30 2.21h-2.60zM290.4 37.3l1.30 2.21h-2.60zM292.8 49.9l1.30 2.21h-2.60zM295.2 63.2l1.30 2.21h-2.60zM297.6 66.9l1.30 2.21h-2.60zM300.0 72.2l1.30 2.21h-2.60zM302.4 76.4l1.30 2.21h-2.60zM304.8 79.2l1.30 2.21h-2.60zM307.2 82.3l1.30 2.21h-2.60zM309.6 83.7l1.30 2.21h-2.60zM312.0 85.6l1.30 2.21h-2.60zM314.4 85.6l1.30 2.21h-2.60zM316.8 86.0l1.30 2.21h-2.60zM319.2 87.2l1.30 2.21h-2.60zM321.6 87.0l1.30 2.21h-2.60zM324.0 86.8l1.30 2.21h-2.60zM326.4 85.4l1.30 2.21h-2.60zM328.8 85.1l1.30 2.21h-2.60zM331.2 84.6l1.30 2.21h-2.60zM333.6 83.0l1.30 2.21h-2.60zM336.0 84.1l1.30 2.21h-2.60zM338.4 85.2l1.30 2.21h-2.60zM340.8 86.3l1.30 2.21h-2.60zM343.2 86.8l1.30 2.21h-2.60zM345.6 88.8l1.30 2.21h-2.60zM348.0 90.5l1.30 2.21h-2.60zM350.4 92.0l1.30 2.21h-2.60zM352.8 92.2l1.30 2.21h-2.60zM355.2 91.7l1.30 2.21h-2.60zM357.6 91.7l1.30 2.21h-2.60zM360.0 92.4l1.30 2.21h-2.60zM362.4 92.2l1.30 2.21h-2.60zM364.8 91.6l1.30 2.21h-2.60z" fill="#fff" stroke="#ee3a3a" stroke-width="0.60"/>
<path d="M216.0 90.5 L217.2 91.4 L218.4 90.8 L219.6 91.3 L220.8 92.3 L222.0 92.4 L223.2 92.5 L224.4 92.4 L225.6 91.4 L226.8 90.7 L228.0 89.8 L229.2 90.2 L230.4 89.8 L231.6 88.4 L232.8 88.6 L234.0 86.5 L235.2 85.8 L236.4 85.9 L237.6 85.0 L238.8 84.3 L240.0 84.7 L241.2 82.6 L242.4 81.6 L243.6 80.9 L244.8 80.9 L246.0 79.5 L247.2 78.1 L248.4 78.3 L249.6 77.7 L250.8 77.0 L252.0 76.9 L253.2 76.8 L254.4 76.2 L255.6 75.8 L256.8 75.2 L258.0 75.2 L259.2 75.1 L260.4 73.4 L261.6 72.3 L262.8 72.4 L264.0 70.7 L265.2 70.4 L266.4 69.6 L267.6 68.7 L268.8 67.4 L270.0 65.0 L271.2 61.5 L272.4 57.8 L273.6 49.6 L274.8 44.3 L276.0 38.7 L277.2 33.1 L278.4 29.4 L279.6 26.2 L280.8 22.6 L282.0 19.5 L283.2 16.7 L284.4 16.9 L285.6 19.6 L286.8 21.2 L288.0 23.1 L289.2 27.8 L290.4 32.7 L291.6 40.0 L292.8 46.8 L294.0 54.8 L295.2 62.2 L296.4 64.1 L297.6 65.8 L298.8 69.2 L300.0 71.8 L301.2 72.2 L302.4 74.1 L303.6 76.4 L304.8 78.8 L306.0 79.3 L307.2 80.6 L308.4 80.8 L309.6 82.4 L310.8 82.6 L312.0 83.2 L313.2 84.6 L314.4 85.6 L315.6 86.1 L316.8 86.0 L318.0 86.0 L319.2 86.7 L320.4 86.8 L321.6 86.8 L322.8 86.5 L324.0 84.9 L325.2 84.8 L326.4 84.9 L327.6 83.8 L328.8 83.1 L330.0 82.3 L331.2 82.9 L332.4 83.3 L333.6 83.1 L334.8 81.8 L336.0 83.0 L337.2 83.1 L338.4 83.9 L339.6 84.0 L340.8 85.5 L342.0 86.5 L343.2 85.5 L344.4 87.0 L345.6 86.9 L346.8 87.6 L348.0 88.9 L349.2 90.7 L350.4 91.9 L351.6 90.5 L352.8 90.6 L354.0 90.1 L355.2 90.9 L356.4 90.9 L357.6 90.8 L358.8 90.6 L360.0 91.5 L361.2 91.6 L362.4 90.5 L363.6 90.3 L364.8 90.6" fill="none" stroke="#5b9be0" stroke-width="0.9"/>
<path d="M216.0 89.1a1.35 1.35 0 1 0 0.01 0zM218.4 89.4a1.35 1.35 0 1 0 0.01 0zM220.8 91.0a1.35 1.35 0 1 0 0.01 0zM223.2 91.1a1.35 1.35 0 1 0 0.01 0zM225.6 90.0a1.35 1.35 0 1 0 0.01 0zM228.0 88.5a1.35 1.35 0 1 0 0.01 0zM230.4 88.5a1.35 1.35 0 1 0 0.01 0zM232.8 87.2a1.35 1.35 0 1 0 0.01 0zM235.2 84.5a1.35 1.35 0 1 0 0.01 0zM237.6 83.7a1.35 1.35 0 1 0 0.01 0zM240.0 83.3a1.35 1.35 0 1 0 0.01 0zM242.4 80.3a1.35 1.35 0 1 0 0.01 0zM244.8 79.6a1.35 1.35 0 1 0 0.01 0zM247.2 76.8a1.35 1.35 0 1 0 0.01 0zM249.6 76.4a1.35 1.35 0 1 0 0.01 0zM252.0 75.5a1.35 1.35 0 1 0 0.01 0zM254.4 74.8a1.35 1.35 0 1 0 0.01 0zM256.8 73.9a1.35 1.35 0 1 0 0.01 0zM259.2 73.7a1.35 1.35 0 1 0 0.01 0zM261.6 71.0a1.35 1.35 0 1 0 0.01 0zM264.0 69.3a1.35 1.35 0 1 0 0.01 0zM266.4 68.2a1.35 1.35 0 1 0 0.01 0zM268.8 66.1a1.35 1.35 0 1 0 0.01 0zM271.2 60.2a1.35 1.35 0 1 0 0.01 0zM273.6 48.2a1.35 1.35 0 1 0 0.01 0zM276.0 37.3a1.35 1.35 0 1 0 0.01 0zM278.4 28.0a1.35 1.35 0 1 0 0.01 0zM280.8 21.3a1.35 1.35 0 1 0 0.01 0zM283.2 15.3a1.35 1.35 0 1 0 0.01 0zM285.6 18.2a1.35 1.35 0 1 0 0.01 0zM288.0 21.7a1.35 1.35 0 1 0 0.01 0zM290.4 31.3a1.35 1.35 0 1 0 0.01 0zM292.8 45.4a1.35 1.35 0 1 0 0.01 0zM295.2 60.9a1.35 1.35 0 1 0 0.01 0zM297.6 64.4a1.35 1.35 0 1 0 0.01 0zM300.0 70.4a1.35 1.35 0 1 0 0.01 0zM302.4 72.7a1.35 1.35 0 1 0 0.01 0zM304.8 77.5a1.35 1.35 0 1 0 0.01 0zM307.2 79.3a1.35 1.35 0 1 0 0.01 0zM309.6 81.1a1.35 1.35 0 1 0 0.01 0zM312.0 81.8a1.35 1.35 0 1 0 0.01 0zM314.4 84.2a1.35 1.35 0 1 0 0.01 0zM316.8 84.6a1.35 1.35 0 1 0 0.01 0zM319.2 85.4a1.35 1.35 0 1 0 0.01 0zM321.6 85.5a1.35 1.35 0 1 0 0.01 0zM324.0 83.6a1.35 1.35 0 1 0 0.01 0zM326.4 83.6a1.35 1.35 0 1 0 0.01 0zM328.8 81.8a1.35 1.35 0 1 0 0.01 0zM331.2 81.5a1.35 1.35 0 1 0 0.01 0zM333.6 81.8a1.35 1.35 0 1 0 0.01 0zM336.0 81.7a1.35 1.35 0 1 0 0.01 0zM338.4 82.6a1.35 1.35 0 1 0 0.01 0zM340.8 84.1a1.35 1.35 0 1 0 0.01 0zM343.2 84.1a1.35 1.35 0 1 0 0.01 0zM345.6 85.6a1.35 1.35 0 1 0 0.01 0zM348.0 87.5a1.35 1.35 0 1 0 0.01 0zM350.4 90.6a1.35 1.35 0 1 0 0.01 0zM352.8 89.2a1.35 1.35 0 1 0 0.01 0zM355.2 89.5a1.35 1.35 0 1 0 0.01 0zM357.6 89.4a1.35 1.35 0 1 0 0.01 0zM360.0 90.1a1.35 1.35 0 1 0 0.01 0zM362.4 89.1a1.35 1.35 0 1 0 0.01 0zM364.8 89.2a1.35 1.35 0 1 0 0.01 0z" fill="#fff" stroke="#5b9be0" stroke-width="0.60"/>
<ellipse cx="335" cy="79.3" rx="19.3" ry="25.5" fill="none" stroke="#111" stroke-width="1.2" stroke-dasharray="2.8 1.6"/>
<text x="325" y="68.2" font-size="6.9" font-weight="bold" stroke="#000" stroke-width="0.15" textLength="15.8" lengthAdjust="spacingAndGlyphs">Au4f</text>
<text x="342" y="70.2" font-size="5.3" font-weight="bold" font-style="italic" stroke="#000" stroke-width="0.15" textLength="7" lengthAdjust="spacingAndGlyphs">7/2</text>
<text x="328" y="77.0" font-size="6.2" font-weight="bold" stroke="#000" stroke-width="0.12" textLength="10.8" lengthAdjust="spacingAndGlyphs">(Au</text>
<text x="339.1" y="74.6" font-size="4.4" font-weight="bold" stroke="#000" stroke-width="0.08">0</text>
<text x="342" y="77.0" font-size="6.2" font-weight="bold" stroke="#000" stroke-width="0.12">)</text>
<path d="M359.9 65.2 L362.9 69.6 L361.3 69.6 L361.3 84.3 L358.5 84.3 L358.5 69.6 L356.9 69.6 Z" fill="#fff" stroke="#777" stroke-width="0.6"/>
<rect x="215.0" y="11.4" width="150.4" height="91.6" fill="none" stroke="#7a7a7a" stroke-width="0.90"/>
<path d="M215.0 11.4 V103.0 H365.4" fill="none" stroke="#666" stroke-width="0.90"/>
<path d="M213.7 11.3 h2.6" stroke="#555" stroke-width="0.6"/>
<text x="211.0" y="13.1" font-size="5.00" text-anchor="end" font-weight="normal" fill="#1a1a1a" stroke="#1a1a1a" stroke-width="0.30" textLength="10.4" lengthAdjust="spacingAndGlyphs" >2350</text>
<path d="M213.7 22.8 h2.6" stroke="#555" stroke-width="0.6"/>
<text x="211.0" y="24.6" font-size="5.00" text-anchor="end" font-weight="normal" fill="#1a1a1a" stroke="#1a1a1a" stroke-width="0.30" textLength="10.4" lengthAdjust="spacingAndGlyphs" >2150</text>
<path d="M213.7 34.2 h2.6" stroke="#555" stroke-width="0.6"/>
<text x="211.0" y="36.0" font-size="5.00" text-anchor="end" font-weight="normal" fill="#1a1a1a" stroke="#1a1a1a" stroke-width="0.30" textLength="10.4" lengthAdjust="spacingAndGlyphs" >1950</text>
<path d="M213.7 45.7 h2.6" stroke="#555" stroke-width="0.6"/>
<text x="211.0" y="47.5" font-size="5.00" text-anchor="end" font-weight="normal" fill="#1a1a1a" stroke="#1a1a1a" stroke-width="0.30" textLength="10.4" lengthAdjust="spacingAndGlyphs" >1750</text>
<path d="M213.7 57.1 h2.6" stroke="#555" stroke-width="0.6"/>
<text x="211.0" y="58.9" font-size="5.00" text-anchor="end" font-weight="normal" fill="#1a1a1a" stroke="#1a1a1a" stroke-width="0.30" textLength="10.4" lengthAdjust="spacingAndGlyphs" >1550</text>
<path d="M213.7 68.6 h2.6" stroke="#555" stroke-width="0.6"/>
<text x="211.0" y="70.4" font-size="5.00" text-anchor="end" font-weight="normal" fill="#1a1a1a" stroke="#1a1a1a" stroke-width="0.30" textLength="10.4" lengthAdjust="spacingAndGlyphs" >1350</text>
<path d="M213.7 80.1 h2.6" stroke="#555" stroke-width="0.6"/>
<text x="211.0" y="81.9" font-size="5.00" text-anchor="end" font-weight="normal" fill="#1a1a1a" stroke="#1a1a1a" stroke-width="0.30" textLength="10.4" lengthAdjust="spacingAndGlyphs" >1150</text>
<path d="M213.7 91.5 h2.6" stroke="#555" stroke-width="0.6"/>
<text x="211.0" y="93.3" font-size="5.00" text-anchor="end" font-weight="normal" fill="#1a1a1a" stroke="#1a1a1a" stroke-width="0.30" textLength="7.8" lengthAdjust="spacingAndGlyphs" >950</text>
<path d="M213.7 103.0 h2.6" stroke="#555" stroke-width="0.6"/>
<text x="211.0" y="104.8" font-size="5.00" text-anchor="end" font-weight="normal" fill="#1a1a1a" stroke="#1a1a1a" stroke-width="0.30" textLength="7.8" lengthAdjust="spacingAndGlyphs" >750</text>
<path d="M225.2 101.7 v2.6" stroke="#555" stroke-width="0.6"/>
<text x="225.2" y="110.4" font-size="5.00" text-anchor="middle" font-weight="normal" fill="#1a1a1a" stroke="#1a1a1a" stroke-width="0.30" textLength="4.8" lengthAdjust="spacingAndGlyphs" >95</text>
<path d="M271.6 101.7 v2.6" stroke="#555" stroke-width="0.6"/>
<text x="271.6" y="110.4" font-size="5.00" text-anchor="middle" font-weight="normal" fill="#1a1a1a" stroke="#1a1a1a" stroke-width="0.30" textLength="4.8" lengthAdjust="spacingAndGlyphs" >90</text>
<path d="M318.0 101.7 v2.6" stroke="#555" stroke-width="0.6"/>
<text x="318.0" y="110.4" font-size="5.00" text-anchor="middle" font-weight="normal" fill="#1a1a1a" stroke="#1a1a1a" stroke-width="0.30" textLength="4.8" lengthAdjust="spacingAndGlyphs" >85</text>
<path d="M364.4 101.7 v2.6" stroke="#555" stroke-width="0.6"/>
<text x="364.4" y="110.4" font-size="5.00" text-anchor="middle" font-weight="normal" fill="#1a1a1a" stroke="#1a1a1a" stroke-width="0.30" textLength="4.8" lengthAdjust="spacingAndGlyphs" >80</text>
<text x="290.0" y="116.1" font-size="4.60" text-anchor="middle" font-weight="bold" fill="#000" stroke="#000" stroke-width="0.15" textLength="44.0" lengthAdjust="spacingAndGlyphs" >Binding Energy (eV)</text>
<text x="0" y="0" font-size="4.60" font-weight="bold" fill="#000" stroke="#000" stroke-width="0.18" textLength="25.9" lengthAdjust="spacingAndGlyphs" text-anchor="middle" transform="translate(199.0 56.9) rotate(-90)">Counts/sec</text>
<path d="M218.9 16.2 h8.3" stroke="#2ec040" stroke-width="0.7"/>
<path d="M221.7 14.9l2.60 2.60M221.7 17.5l2.60 -2.60" fill="none" stroke="#2ec040" stroke-width="0.60"/>
<text x="227.5" y="17.9" font-size="5.00" text-anchor="start" font-weight="normal" fill="#000" stroke="#000" stroke-width="0.30" textLength="12.2" lengthAdjust="spacingAndGlyphs" >0 Sec</text>
<path d="M218.9 23.6 h8.3" stroke="#ff8a3d" stroke-width="0.7"/>
<path d="M223.0 22.3l1.30 1.30l-1.30 1.30l-1.30 -1.30z" fill="none" stroke="#ff8a3d" stroke-width="0.60"/>
<text x="227.5" y="25.4" font-size="5.00" text-anchor="start" font-weight="normal" fill="#000" stroke="#000" stroke-width="0.30" textLength="15.0" lengthAdjust="spacingAndGlyphs" >60 Sec</text>
<path d="M218.9 31.1 h8.3" stroke="#7d6b4b" stroke-width="0.7"/>
<path d="M222.0 30.1h2.08v2.08h-2.08z" fill="none" stroke="#7d6b4b" stroke-width="0.60"/>
<text x="227.5" y="32.9" font-size="5.00" text-anchor="start" font-weight="normal" fill="#000" stroke="#000" stroke-width="0.30" textLength="17.0" lengthAdjust="spacingAndGlyphs" >120 Sec</text>
<path d="M218.9 38.5 h8.3" stroke="#ee3a3a" stroke-width="0.7"/>
<path d="M223.0 37.2l1.30 2.21h-2.60z" fill="none" stroke="#ee3a3a" stroke-width="0.60"/>
<text x="227.5" y="40.3" font-size="5.00" text-anchor="start" font-weight="normal" fill="#000" stroke="#000" stroke-width="0.30" textLength="17.0" lengthAdjust="spacingAndGlyphs" >180 Sec</text>
<path d="M218.9 46.0 h8.3" stroke="#5b9be0" stroke-width="0.7"/>
<path d="M223.0 44.7l1.30 1.30l-1.30 1.30l-1.30 -1.30z" fill="none" stroke="#5b9be0" stroke-width="0.60"/>
<text x="227.5" y="47.8" font-size="5.00" text-anchor="start" font-weight="normal" fill="#000" stroke="#000" stroke-width="0.30" textLength="17.0" lengthAdjust="spacingAndGlyphs" >240 Sec</text>
<text x="392.1" y="8.5" font-size="7.60" text-anchor="start" font-weight="bold" fill="#000" >C</text>
<path d="M394.0 83.2 L396.5 86.7 L399.0 78.4 L401.5 81.3 L404.0 83.0 L406.5 88.8 L409.0 88.0 L411.5 88.1 L414.0 85.8 L416.5 89.2 L419.0 85.6 L421.5 89.4 L424.0 88.4 L426.5 90.3 L429.0 89.8 L431.5 92.2 L434.0 88.0 L436.5 92.0 L439.0 92.4 L441.5 94.8 L444.0 93.2 L446.5 90.1 L449.0 87.7 L451.5 87.7 L454.0 87.2 L456.5 89.6 L459.0 88.2 L461.5 86.3 L464.0 84.6 L466.5 87.0 L469.0 90.2 L471.5 82.6 L474.0 85.3 L476.5 85.3 L479.0 86.5 L481.5 89.8 L484.0 87.1 L486.5 82.5 L489.0 86.5 L491.5 89.2 L494.0 89.8 L496.5 88.4 L499.0 97.7 L501.5 98.0 L504.0 95.4 L506.5 89.0 L509.0 91.8 L511.5 92.7 L514.0 91.2 L516.5 91.9 L519.0 95.1 L521.5 93.4 L524.0 89.0 L526.5 89.5 L529.0 92.8 L531.5 91.4 L534.0 93.6 L536.5 95.7 L539.0 95.8 L541.5 98.0 L544.0 94.3" fill="none" stroke="#6a6a6a" stroke-width="0.75"/>
<path d="M392.6 81.8l2.80 2.80M392.6 84.6l2.80 -2.80M395.1 85.3l2.80 2.80M395.1 88.1l2.80 -2.80M397.6 77.0l2.80 2.80M397.6 79.8l2.80 -2.80M400.1 79.9l2.80 2.80M400.1 82.7l2.80 -2.80M402.6 81.6l2.80 2.80M402.6 84.4l2.80 -2.80M405.1 87.4l2.80 2.80M405.1 90.2l2.80 -2.80M407.6 86.6l2.80 2.80M407.6 89.4l2.80 -2.80M410.1 86.7l2.80 2.80M410.1 89.5l2.80 -2.80M412.6 84.4l2.80 2.80M412.6 87.2l2.80 -2.80M415.1 87.8l2.80 2.80M415.1 90.6l2.80 -2.80M417.6 84.2l2.80 2.80M417.6 87.0l2.80 -2.80M420.1 88.0l2.80 2.80M420.1 90.8l2.80 -2.80M422.6 87.0l2.80 2.80M422.6 89.8l2.80 -2.80M425.1 88.9l2.80 2.80M425.1 91.7l2.80 -2.80M427.6 88.4l2.80 2.80M427.6 91.2l2.80 -2.80M430.1 90.8l2.80 2.80M430.1 93.6l2.80 -2.80M432.6 86.6l2.80 2.80M432.6 89.4l2.80 -2.80M435.1 90.6l2.80 2.80M435.1 93.4l2.80 -2.80M437.6 91.0l2.80 2.80M437.6 93.8l2.80 -2.80M440.1 93.4l2.80 2.80M440.1 96.2l2.80 -2.80M442.6 91.8l2.80 2.80M442.6 94.6l2.80 -2.80M445.1 88.7l2.80 2.80M445.1 91.5l2.80 -2.80M447.6 86.3l2.80 2.80M447.6 89.1l2.80 -2.80M450.1 86.3l2.80 2.80M450.1 89.1l2.80 -2.80M452.6 85.8l2.80 2.80M452.6 88.6l2.80 -2.80M455.1 88.2l2.80 2.80M455.1 91.0l2.80 -2.80M457.6 86.8l2.80 2.80M457.6 89.6l2.80 -2.80M460.1 84.9l2.80 2.80M460.1 87.7l2.80 -2.80M462.6 83.2l2.80 2.80M462.6 86.0l2.80 -2.80M465.1 85.6l2.80 2.80M465.1 88.4l2.80 -2.80M467.6 88.8l2.80 2.80M467.6 91.6l2.80 -2.80M470.1 81.2l2.80 2.80M470.1 84.0l2.80 -2.80M472.6 83.9l2.80 2.80M472.6 86.7l2.80 -2.80M475.1 83.9l2.80 2.80M475.1 86.7l2.80 -2.80M477.6 85.1l2.80 2.80M477.6 87.9l2.80 -2.80M480.1 88.4l2.80 2.80M480.1 91.2l2.80 -2.80M482.6 85.7l2.80 2.80M482.6 88.5l2.80 -2.80M485.1 81.1l2.80 2.80M485.1 83.9l2.80 -2.80M487.6 85.1l2.80 2.80M487.6 87.9l2.80 -2.80M490.1 87.8l2.80 2.80M490.1 90.6l2.80 -2.80M492.6 88.4l2.80 2.80M492.6 91.2l2.80 -2.80M495.1 87.0l2.80 2.80M495.1 89.8l2.80 -2.80M497.6 96.3l2.80 2.80M497.6 99.1l2.80 -2.80M500.1 96.6l2.80 2.80M500.1 99.4l2.80 -2.80M502.6 94.0l2.80 2.80M502.6 96.8l2.80 -2.80M505.1 87.6l2.80 2.80M505.1 90.4l2.80 -2.80M507.6 90.4l2.80 2.80M507.6 93.2l2.80 -2.80M510.1 91.3l2.80 2.80M510.1 94.1l2.80 -2.80M512.6 89.8l2.80 2.80M512.6 92.6l2.80 -2.80M515.1 90.5l2.80 2.80M515.1 93.3l2.80 -2.80M517.6 93.7l2.80 2.80M517.6 96.5l2.80 -2.80M520.1 92.0l2.80 2.80M520.1 94.8l2.80 -2.80M522.6 87.6l2.80 2.80M522.6 90.4l2.80 -2.80M525.1 88.1l2.80 2.80M525.1 90.9l2.80 -2.80M527.6 91.4l2.80 2.80M527.6 94.2l2.80 -2.80M530.1 90.0l2.80 2.80M530.1 92.8l2.80 -2.80M532.6 92.2l2.80 2.80M532.6 95.0l2.80 -2.80M535.1 94.3l2.80 2.80M535.1 97.1l2.80 -2.80M537.6 94.4l2.80 2.80M537.6 97.2l2.80 -2.80M540.1 96.6l2.80 2.80M540.1 99.4l2.80 -2.80M542.6 92.9l2.80 2.80M542.6 95.7l2.80 -2.80" fill="none" stroke="#33aa33" stroke-width="0.70"/>
<path d="M394.0 46.4 L396.5 52.4 L399.0 53.6 L401.5 54.6 L404.0 53.7 L406.5 56.7 L409.0 57.8 L411.5 58.9 L414.0 61.3 L416.5 61.2 L419.0 69.4 L421.5 69.2 L424.0 70.2 L426.5 66.6 L429.0 69.4 L431.5 65.2 L434.0 68.5 L436.5 65.8 L439.0 65.8 L441.5 63.5 L444.0 62.0 L446.5 59.9 L449.0 54.9 L451.5 53.7 L454.0 50.7 L456.5 49.0 L459.0 50.6 L461.5 45.4 L464.0 42.1 L466.5 42.6 L469.0 51.8 L471.5 45.7 L474.0 46.7 L476.5 46.0 L479.0 47.1 L481.5 46.0 L484.0 48.1 L486.5 51.1 L489.0 56.9 L491.5 60.2 L494.0 59.5 L496.5 64.9 L499.0 68.0 L501.5 70.0 L504.0 72.6 L506.5 76.3 L509.0 74.0 L511.5 78.3 L514.0 75.7 L516.5 78.2 L519.0 75.1 L521.5 80.2 L524.0 78.0 L526.5 81.6 L529.0 76.3 L531.5 75.3 L534.0 74.9 L536.5 72.0 L539.0 73.5 L541.5 73.5 L544.0 72.3" fill="none" stroke="#f26a5a" stroke-width="0.75"/>
<path d="M394.0 45.0a1.40 1.40 0 1 0 0.01 0zM396.5 51.0a1.40 1.40 0 1 0 0.01 0zM399.0 52.2a1.40 1.40 0 1 0 0.01 0zM401.5 53.2a1.40 1.40 0 1 0 0.01 0zM404.0 52.3a1.40 1.40 0 1 0 0.01 0zM406.5 55.3a1.40 1.40 0 1 0 0.01 0zM409.0 56.4a1.40 1.40 0 1 0 0.01 0zM411.5 57.5a1.40 1.40 0 1 0 0.01 0zM414.0 59.9a1.40 1.40 0 1 0 0.01 0zM416.5 59.8a1.40 1.40 0 1 0 0.01 0zM419.0 68.0a1.40 1.40 0 1 0 0.01 0zM421.5 67.8a1.40 1.40 0 1 0 0.01 0zM424.0 68.8a1.40 1.40 0 1 0 0.01 0zM426.5 65.2a1.40 1.40 0 1 0 0.01 0zM429.0 68.0a1.40 1.40 0 1 0 0.01 0zM431.5 63.8a1.40 1.40 0 1 0 0.01 0zM434.0 67.1a1.40 1.40 0 1 0 0.01 0zM436.5 64.4a1.40 1.40 0 1 0 0.01 0zM439.0 64.4a1.40 1.40 0 1 0 0.01 0zM441.5 62.1a1.40 1.40 0 1 0 0.01 0zM444.0 60.6a1.40 1.40 0 1 0 0.01 0zM446.5 58.5a1.40 1.40 0 1 0 0.01 0zM449.0 53.5a1.40 1.40 0 1 0 0.01 0zM451.5 52.3a1.40 1.40 0 1 0 0.01 0zM454.0 49.3a1.40 1.40 0 1 0 0.01 0zM456.5 47.6a1.40 1.40 0 1 0 0.01 0zM459.0 49.2a1.40 1.40 0 1 0 0.01 0zM461.5 44.0a1.40 1.40 0 1 0 0.01 0zM464.0 40.7a1.40 1.40 0 1 0 0.01 0zM466.5 41.2a1.40 1.40 0 1 0 0.01 0zM469.0 50.4a1.40 1.40 0 1 0 0.01 0zM471.5 44.3a1.40 1.40 0 1 0 0.01 0zM474.0 45.3a1.40 1.40 0 1 0 0.01 0zM476.5 44.6a1.40 1.40 0 1 0 0.01 0zM479.0 45.7a1.40 1.40 0 1 0 0.01 0zM481.5 44.6a1.40 1.40 0 1 0 0.01 0zM484.0 46.7a1.40 1.40 0 1 0 0.01 0zM486.5 49.7a1.40 1.40 0 1 0 0.01 0zM489.0 55.5a1.40 1.40 0 1 0 0.01 0zM491.5 58.8a1.40 1.40 0 1 0 0.01 0zM494.0 58.1a1.40 1.40 0 1 0 0.01 0zM496.5 63.5a1.40 1.40 0 1 0 0.01 0zM499.0 66.6a1.40 1.40 0 1 0 0.01 0zM501.5 68.6a1.40 1.40 0 1 0 0.01 0zM504.0 71.2a1.40 1.40 0 1 0 0.01 0zM506.5 74.9a1.40 1.40 0 1 0 0.01 0zM509.0 72.6a1.40 1.40 0 1 0 0.01 0zM511.5 76.9a1.40 1.40 0 1 0 0.01 0zM514.0 74.3a1.40 1.40 0 1 0 0.01 0zM516.5 76.8a1.40 1.40 0 1 0 0.01 0zM519.0 73.7a1.40 1.40 0 1 0 0.01 0zM521.5 78.8a1.40 1.40 0 1 0 0.01 0zM524.0 76.6a1.40 1.40 0 1 0 0.01 0zM526.5 80.2a1.40 1.40 0 1 0 0.01 0zM529.0 74.9a1.40 1.40 0 1 0 0.01 0zM531.5 73.9a1.40 1.40 0 1 0 0.01 0zM534.0 73.5a1.40 1.40 0 1 0 0.01 0zM536.5 70.6a1.40 1.40 0 1 0 0.01 0zM539.0 72.1a1.40 1.40 0 1 0 0.01 0zM541.5 72.1a1.40 1.40 0 1 0 0.01 0zM544.0 70.9a1.40 1.40 0 1 0 0.01 0z" fill="#fff" stroke="#f26a5a" stroke-width="0.70"/>
<path d="M394.0 27.0 L396.5 32.8 L399.0 39.6 L401.5 47.8 L404.0 46.0 L406.5 51.0 L409.0 51.0 L411.5 54.3 L414.0 52.6 L416.5 56.7 L419.0 60.2 L421.5 60.8 L424.0 57.1 L426.5 54.1 L429.0 54.9 L431.5 52.8 L434.0 56.7 L436.5 54.1 L439.0 53.0 L441.5 55.5 L444.0 50.4 L446.5 45.5 L449.0 39.2 L451.5 37.2 L454.0 32.9 L456.5 29.9 L459.0 25.0 L461.5 29.0 L464.0 28.6 L466.5 30.1 L469.0 28.8 L471.5 31.8 L474.0 28.5 L476.5 33.7 L479.0 40.9 L481.5 41.9 L484.0 41.1 L486.5 46.4 L489.0 50.7 L491.5 49.3 L494.0 55.1 L496.5 53.4 L499.0 63.3 L501.5 63.0 L504.0 63.9 L506.5 69.1 L509.0 67.8 L511.5 69.5 L514.0 68.2 L516.5 68.1 L519.0 66.7 L521.5 69.5 L524.0 62.2 L526.5 68.2 L529.0 68.7 L531.5 67.4 L534.0 73.3 L536.5 72.3 L539.0 73.9 L541.5 78.7 L544.0 76.2" fill="none" stroke="#444" stroke-width="0.75"/>
<path d="M392.9 25.9h2.24v2.24h-2.24zM395.4 31.7h2.24v2.24h-2.24zM397.9 38.5h2.24v2.24h-2.24zM400.4 46.7h2.24v2.24h-2.24zM402.9 44.9h2.24v2.24h-2.24zM405.4 49.9h2.24v2.24h-2.24zM407.9 49.9h2.24v2.24h-2.24zM410.4 53.1h2.24v2.24h-2.24zM412.9 51.5h2.24v2.24h-2.24zM415.4 55.6h2.24v2.24h-2.24zM417.9 59.0h2.24v2.24h-2.24zM420.4 59.7h2.24v2.24h-2.24zM422.9 56.0h2.24v2.24h-2.24zM425.4 52.9h2.24v2.24h-2.24zM427.9 53.7h2.24v2.24h-2.24zM430.4 51.7h2.24v2.24h-2.24zM432.9 55.5h2.24v2.24h-2.24zM435.4 53.0h2.24v2.24h-2.24zM437.9 51.9h2.24v2.24h-2.24zM440.4 54.4h2.24v2.24h-2.24zM442.9 49.3h2.24v2.24h-2.24zM445.4 44.4h2.24v2.24h-2.24zM447.9 38.1h2.24v2.24h-2.24zM450.4 36.1h2.24v2.24h-2.24zM452.9 31.7h2.24v2.24h-2.24zM455.4 28.8h2.24v2.24h-2.24zM457.9 23.9h2.24v2.24h-2.24zM460.4 27.9h2.24v2.24h-2.24zM462.9 27.5h2.24v2.24h-2.24zM465.4 29.0h2.24v2.24h-2.24zM467.9 27.6h2.24v2.24h-2.24zM470.4 30.6h2.24v2.24h-2.24zM472.9 27.4h2.24v2.24h-2.24zM475.4 32.6h2.24v2.24h-2.24zM477.9 39.8h2.24v2.24h-2.24zM480.4 40.8h2.24v2.24h-2.24zM482.9 40.0h2.24v2.24h-2.24zM485.4 45.2h2.24v2.24h-2.24zM487.9 49.6h2.24v2.24h-2.24zM490.4 48.2h2.24v2.24h-2.24zM492.9 53.9h2.24v2.24h-2.24zM495.4 52.3h2.24v2.24h-2.24zM497.9 62.1h2.24v2.24h-2.24zM500.4 61.9h2.24v2.24h-2.24zM502.9 62.8h2.24v2.24h-2.24zM505.4 68.0h2.24v2.24h-2.24zM507.9 66.7h2.24v2.24h-2.24zM510.4 68.4h2.24v2.24h-2.24zM512.9 67.1h2.24v2.24h-2.24zM515.4 67.0h2.24v2.24h-2.24zM517.9 65.6h2.24v2.24h-2.24zM520.4 68.4h2.24v2.24h-2.24zM522.9 61.0h2.24v2.24h-2.24zM525.4 67.1h2.24v2.24h-2.24zM527.9 67.6h2.24v2.24h-2.24zM530.4 66.3h2.24v2.24h-2.24zM532.9 72.1h2.24v2.24h-2.24zM535.4 71.2h2.24v2.24h-2.24zM537.9 72.8h2.24v2.24h-2.24zM540.4 77.6h2.24v2.24h-2.24zM542.9 75.1h2.24v2.24h-2.24z" fill="#fff" stroke="#333" stroke-width="0.70"/>
<path d="M394.0 31.4 L396.5 32.7 L399.0 34.2 L401.5 42.5 L404.0 47.4 L406.5 48.4 L409.0 49.7 L411.5 54.7 L414.0 55.5 L416.5 54.8 L419.0 50.8 L421.5 50.5 L424.0 47.2 L426.5 42.2 L429.0 42.7 L431.5 41.2 L434.0 41.6 L436.5 44.8 L439.0 50.7 L441.5 46.9 L444.0 34.6 L446.5 35.4 L449.0 37.1 L451.5 38.2 L454.0 33.2 L456.5 32.5 L459.0 28.5 L461.5 35.7 L464.0 28.9 L466.5 29.0 L469.0 29.1 L471.5 28.4 L474.0 28.9 L476.5 34.8 L479.0 34.8 L481.5 33.7 L484.0 37.4 L486.5 39.7 L489.0 44.9 L491.5 45.4 L494.0 50.1 L496.5 54.0 L499.0 54.5 L501.5 56.5 L504.0 61.6 L506.5 61.0 L509.0 59.1 L511.5 59.3 L514.0 64.9 L516.5 63.0 L519.0 61.7 L521.5 60.0 L524.0 63.8 L526.5 60.5 L529.0 61.1 L531.5 61.3 L534.0 63.5 L536.5 65.2 L539.0 63.5 L541.5 66.6 L544.0 65.3" fill="none" stroke="#ee3333" stroke-width="0.75"/>
<path d="M394.0 30.0l1.40 2.38h-2.80zM396.5 31.3l1.40 2.38h-2.80zM399.0 32.8l1.40 2.38h-2.80zM401.5 41.1l1.40 2.38h-2.80zM404.0 46.0l1.40 2.38h-2.80zM406.5 47.0l1.40 2.38h-2.80zM409.0 48.3l1.40 2.38h-2.80zM411.5 53.3l1.40 2.38h-2.80zM414.0 54.1l1.40 2.38h-2.80zM416.5 53.4l1.40 2.38h-2.80zM419.0 49.4l1.40 2.38h-2.80zM421.5 49.1l1.40 2.38h-2.80zM424.0 45.8l1.40 2.38h-2.80zM426.5 40.8l1.40 2.38h-2.80zM429.0 41.3l1.40 2.38h-2.80zM431.5 39.8l1.40 2.38h-2.80zM434.0 40.2l1.40 2.38h-2.80zM436.5 43.4l1.40 2.38h-2.80zM439.0 49.3l1.40 2.38h-2.80zM441.5 45.5l1.40 2.38h-2.80zM444.0 33.2l1.40 2.38h-2.80zM446.5 34.0l1.40 2.38h-2.80zM449.0 35.7l1.40 2.38h-2.80zM451.5 36.8l1.40 2.38h-2.80zM454.0 31.8l1.40 2.38h-2.80zM456.5 31.1l1.40 2.38h-2.80zM459.0 27.1l1.40 2.38h-2.80zM461.5 34.3l1.40 2.38h-2.80zM464.0 27.5l1.40 2.38h-2.80zM466.5 27.6l1.40 2.38h-2.80zM469.0 27.7l1.40 2.38h-2.80zM471.5 27.0l1.40 2.38h-2.80zM474.0 27.5l1.40 2.38h-2.80zM476.5 33.4l1.40 2.38h-2.80zM479.0 33.4l1.40 2.38h-2.80zM481.5 32.3l1.40 2.38h-2.80zM484.0 36.0l1.40 2.38h-2.80zM486.5 38.3l1.40 2.38h-2.80zM489.0 43.5l1.40 2.38h-2.80zM491.5 44.0l1.40 2.38h-2.80zM494.0 48.7l1.40 2.38h-2.80zM496.5 52.6l1.40 2.38h-2.80zM499.0 53.1l1.40 2.38h-2.80zM501.5 55.1l1.40 2.38h-2.80zM504.0 60.2l1.40 2.38h-2.80zM506.5 59.6l1.40 2.38h-2.80zM509.0 57.7l1.40 2.38h-2.80zM511.5 57.9l1.40 2.38h-2.80zM514.0 63.5l1.40 2.38h-2.80zM516.5 61.6l1.40 2.38h-2.80zM519.0 60.3l1.40 2.38h-2.80zM521.5 58.6l1.40 2.38h-2.80zM524.0 62.4l1.40 2.38h-2.80zM526.5 59.1l1.40 2.38h-2.80zM529.0 59.7l1.40 2.38h-2.80zM531.5 59.9l1.40 2.38h-2.80zM534.0 62.1l1.40 2.38h-2.80zM536.5 63.8l1.40 2.38h-2.80zM539.0 62.1l1.40 2.38h-2.80zM541.5 65.2l1.40 2.38h-2.80zM544.0 63.9l1.40 2.38h-2.80z" fill="#fff" stroke="#ee3333" stroke-width="0.70"/>
<path d="M394.0 27.4 L396.5 29.8 L399.0 33.3 L401.5 36.5 L404.0 41.6 L406.5 40.7 L409.0 44.9 L411.5 43.4 L414.0 46.8 L416.5 44.4 L419.0 48.2 L421.5 46.2 L424.0 49.9 L426.5 47.3 L429.0 44.6 L431.5 46.4 L434.0 42.7 L436.5 45.4 L439.0 40.7 L441.5 29.4 L444.0 27.6 L446.5 32.1 L449.0 29.9 L451.5 24.6 L454.0 22.0 L456.5 18.1 L459.0 21.8 L461.5 24.9 L464.0 23.0 L466.5 22.8 L469.0 19.2 L471.5 24.4 L474.0 21.9 L476.5 25.6 L479.0 27.5 L481.5 32.4 L484.0 34.9 L486.5 36.0 L489.0 38.5 L491.5 38.9 L494.0 47.0 L496.5 45.8 L499.0 50.9 L501.5 54.1 L504.0 58.9 L506.5 60.7 L509.0 60.2 L511.5 63.9 L514.0 64.6 L516.5 59.3 L519.0 63.3 L521.5 62.7 L524.0 60.8 L526.5 59.8 L529.0 58.0 L531.5 60.4 L534.0 60.3 L536.5 61.9 L539.0 60.8 L541.5 58.9 L544.0 53.8" fill="none" stroke="#4a7fdc" stroke-width="0.75"/>
<path d="M394.0 26.0a1.40 1.40 0 1 0 0.01 0zM396.5 28.4a1.40 1.40 0 1 0 0.01 0zM399.0 31.9a1.40 1.40 0 1 0 0.01 0zM401.5 35.1a1.40 1.40 0 1 0 0.01 0zM404.0 40.2a1.40 1.40 0 1 0 0.01 0zM406.5 39.3a1.40 1.40 0 1 0 0.01 0zM409.0 43.5a1.40 1.40 0 1 0 0.01 0zM411.5 42.0a1.40 1.40 0 1 0 0.01 0zM414.0 45.4a1.40 1.40 0 1 0 0.01 0zM416.5 43.0a1.40 1.40 0 1 0 0.01 0zM419.0 46.8a1.40 1.40 0 1 0 0.01 0zM421.5 44.8a1.40 1.40 0 1 0 0.01 0zM424.0 48.5a1.40 1.40 0 1 0 0.01 0zM426.5 45.9a1.40 1.40 0 1 0 0.01 0zM429.0 43.2a1.40 1.40 0 1 0 0.01 0zM431.5 45.0a1.40 1.40 0 1 0 0.01 0zM434.0 41.3a1.40 1.40 0 1 0 0.01 0zM436.5 44.0a1.40 1.40 0 1 0 0.01 0zM439.0 39.3a1.40 1.40 0 1 0 0.01 0zM441.5 28.0a1.40 1.40 0 1 0 0.01 0zM444.0 26.2a1.40 1.40 0 1 0 0.01 0zM446.5 30.7a1.40 1.40 0 1 0 0.01 0zM449.0 28.5a1.40 1.40 0 1 0 0.01 0zM451.5 23.2a1.40 1.40 0 1 0 0.01 0zM454.0 20.6a1.40 1.40 0 1 0 0.01 0zM456.5 16.7a1.40 1.40 0 1 0 0.01 0zM459.0 20.4a1.40 1.40 0 1 0 0.01 0zM461.5 23.5a1.40 1.40 0 1 0 0.01 0zM464.0 21.6a1.40 1.40 0 1 0 0.01 0zM466.5 21.4a1.40 1.40 0 1 0 0.01 0zM469.0 17.8a1.40 1.40 0 1 0 0.01 0zM471.5 23.0a1.40 1.40 0 1 0 0.01 0zM474.0 20.5a1.40 1.40 0 1 0 0.01 0zM476.5 24.2a1.40 1.40 0 1 0 0.01 0zM479.0 26.1a1.40 1.40 0 1 0 0.01 0zM481.5 31.0a1.40 1.40 0 1 0 0.01 0zM484.0 33.5a1.40 1.40 0 1 0 0.01 0zM486.5 34.6a1.40 1.40 0 1 0 0.01 0zM489.0 37.1a1.40 1.40 0 1 0 0.01 0zM491.5 37.5a1.40 1.40 0 1 0 0.01 0zM494.0 45.6a1.40 1.40 0 1 0 0.01 0zM496.5 44.4a1.40 1.40 0 1 0 0.01 0zM499.0 49.5a1.40 1.40 0 1 0 0.01 0zM501.5 52.7a1.40 1.40 0 1 0 0.01 0zM504.0 57.5a1.40 1.40 0 1 0 0.01 0zM506.5 59.3a1.40 1.40 0 1 0 0.01 0zM509.0 58.8a1.40 1.40 0 1 0 0.01 0zM511.5 62.5a1.40 1.40 0 1 0 0.01 0zM514.0 63.2a1.40 1.40 0 1 0 0.01 0zM516.5 57.9a1.40 1.40 0 1 0 0.01 0zM519.0 61.9a1.40 1.40 0 1 0 0.01 0zM521.5 61.3a1.40 1.40 0 1 0 0.01 0zM524.0 59.4a1.40 1.40 0 1 0 0.01 0zM526.5 58.4a1.40 1.40 0 1 0 0.01 0zM529.0 56.6a1.40 1.40 0 1 0 0.01 0zM531.5 59.0a1.40 1.40 0 1 0 0.01 0zM534.0 58.9a1.40 1.40 0 1 0 0.01 0zM536.5 60.5a1.40 1.40 0 1 0 0.01 0zM539.0 59.4a1.40 1.40 0 1 0 0.01 0zM541.5 57.5a1.40 1.40 0 1 0 0.01 0zM544.0 52.4a1.40 1.40 0 1 0 0.01 0z" fill="#fff" stroke="#4a7fdc" stroke-width="0.70"/>
<path d="M469.6 55.5 L476.1 63.2 L472.7 63.2 L472.7 79.7 L466.3 79.7 L466.3 63.2 L463.1 63.2 Z" fill="url(#gc)" stroke="#6a6a6a" stroke-width="0.75"/>
<rect x="393.3" y="11.5" width="149.9" height="91.5" fill="none" stroke="#7a7a7a" stroke-width="0.90"/>
<path d="M393.3 11.5 V103.0 H543.2" fill="none" stroke="#666" stroke-width="0.90"/>
<path d="M392.0 11.5 h2.6" stroke="#555" stroke-width="0.6"/>
<text x="389.6" y="13.3" font-size="5.00" text-anchor="end" font-weight="normal" fill="#1a1a1a" stroke="#1a1a1a" stroke-width="0.30" textLength="9.2" lengthAdjust="spacingAndGlyphs" >1150</text>
<path d="M392.0 22.9 h2.6" stroke="#555" stroke-width="0.6"/>
<text x="389.6" y="24.7" font-size="5.00" text-anchor="end" font-weight="normal" fill="#1a1a1a" stroke="#1a1a1a" stroke-width="0.30" textLength="9.2" lengthAdjust="spacingAndGlyphs" >1100</text>
<path d="M392.0 34.4 h2.6" stroke="#555" stroke-width="0.6"/>
<text x="389.6" y="36.2" font-size="5.00" text-anchor="end" font-weight="normal" fill="#1a1a1a" stroke="#1a1a1a" stroke-width="0.30" textLength="9.2" lengthAdjust="spacingAndGlyphs" >1050</text>
<path d="M392.0 45.8 h2.6" stroke="#555" stroke-width="0.6"/>
<text x="389.6" y="47.6" font-size="5.00" text-anchor="end" font-weight="normal" fill="#1a1a1a" stroke="#1a1a1a" stroke-width="0.30" textLength="9.2" lengthAdjust="spacingAndGlyphs" >1000</text>
<path d="M392.0 57.3 h2.6" stroke="#555" stroke-width="0.6"/>
<text x="389.6" y="59.1" font-size="5.00" text-anchor="end" font-weight="normal" fill="#1a1a1a" stroke="#1a1a1a" stroke-width="0.30" textLength="6.9" lengthAdjust="spacingAndGlyphs" >950</text>
<path d="M392.0 68.7 h2.6" stroke="#555" stroke-width="0.6"/>
<text x="389.6" y="70.5" font-size="5.00" text-anchor="end" font-weight="normal" fill="#1a1a1a" stroke="#1a1a1a" stroke-width="0.30" textLength="6.9" lengthAdjust="spacingAndGlyphs" >900</text>
<path d="M392.0 80.1 h2.6" stroke="#555" stroke-width="0.6"/>
<text x="389.6" y="81.9" font-size="5.00" text-anchor="end" font-weight="normal" fill="#1a1a1a" stroke="#1a1a1a" stroke-width="0.30" textLength="6.9" lengthAdjust="spacingAndGlyphs" >850</text>
<path d="M392.0 91.6 h2.6" stroke="#555" stroke-width="0.6"/>
<text x="389.6" y="93.4" font-size="5.00" text-anchor="end" font-weight="normal" fill="#1a1a1a" stroke="#1a1a1a" stroke-width="0.30" textLength="6.9" lengthAdjust="spacingAndGlyphs" >800</text>
<path d="M392.0 103.0 h2.6" stroke="#555" stroke-width="0.6"/>
<text x="389.6" y="104.8" font-size="5.00" text-anchor="end" font-weight="normal" fill="#1a1a1a" stroke="#1a1a1a" stroke-width="0.30" textLength="6.9" lengthAdjust="spacingAndGlyphs" >750</text>
<path d="M393.6 101.7 v2.6" stroke="#555" stroke-width="0.6"/>
<text x="393.6" y="110.4" font-size="5.00" text-anchor="middle" font-weight="normal" fill="#1a1a1a" stroke="#1a1a1a" stroke-width="0.30" textLength="4.8" lengthAdjust="spacingAndGlyphs" >86</text>
<path d="M418.5 101.7 v2.6" stroke="#555" stroke-width="0.6"/>
<text x="418.5" y="110.4" font-size="5.00" text-anchor="middle" font-weight="normal" fill="#1a1a1a" stroke="#1a1a1a" stroke-width="0.30" textLength="4.8" lengthAdjust="spacingAndGlyphs" >85</text>
<path d="M443.5 101.7 v2.6" stroke="#555" stroke-width="0.6"/>
<text x="443.5" y="110.4" font-size="5.00" text-anchor="middle" font-weight="normal" fill="#1a1a1a" stroke="#1a1a1a" stroke-width="0.30" textLength="4.8" lengthAdjust="spacingAndGlyphs" >84</text>
<path d="M468.4 101.7 v2.6" stroke="#555" stroke-width="0.6"/>
<text x="468.4" y="110.4" font-size="5.00" text-anchor="middle" font-weight="normal" fill="#1a1a1a" stroke="#1a1a1a" stroke-width="0.30" textLength="4.8" lengthAdjust="spacingAndGlyphs" >83</text>
<path d="M493.3 101.7 v2.6" stroke="#555" stroke-width="0.6"/>
<text x="493.3" y="110.4" font-size="5.00" text-anchor="middle" font-weight="normal" fill="#1a1a1a" stroke="#1a1a1a" stroke-width="0.30" textLength="4.8" lengthAdjust="spacingAndGlyphs" >82</text>
<path d="M518.2 101.7 v2.6" stroke="#555" stroke-width="0.6"/>
<text x="518.2" y="110.4" font-size="5.00" text-anchor="middle" font-weight="normal" fill="#1a1a1a" stroke="#1a1a1a" stroke-width="0.30" textLength="4.8" lengthAdjust="spacingAndGlyphs" >81</text>
<path d="M543.2 101.7 v2.6" stroke="#555" stroke-width="0.6"/>
<text x="543.2" y="110.4" font-size="5.00" text-anchor="middle" font-weight="normal" fill="#1a1a1a" stroke="#1a1a1a" stroke-width="0.30" textLength="4.8" lengthAdjust="spacingAndGlyphs" >80</text>
<text x="468.5" y="116.2" font-size="4.60" text-anchor="middle" font-weight="bold" fill="#000" stroke="#000" stroke-width="0.15" textLength="45.0" lengthAdjust="spacingAndGlyphs" >Binding Energy (eV)</text>
<text x="0" y="0" font-size="4.60" font-weight="bold" fill="#000" stroke="#000" stroke-width="0.18" textLength="25.9" lengthAdjust="spacingAndGlyphs" text-anchor="middle" transform="translate(377.0 56.5) rotate(-90)">Counts/sec</text>
<path d="M514.7 16.9 h7.6" stroke="#33aa33" stroke-width="0.7"/>
<path d="M517.3 15.7l2.40 2.40M517.3 18.1l2.40 -2.40" fill="none" stroke="#33aa33" stroke-width="0.60"/>
<text x="522.7" y="18.6" font-size="5.00" text-anchor="start" font-weight="normal" fill="#000" stroke="#000" stroke-width="0.30" textLength="11.6" lengthAdjust="spacingAndGlyphs" >0 Sec</text>
<path d="M514.7 24.2 h7.6" stroke="#f26a5a" stroke-width="0.7"/>
<path d="M518.5 23.1a1.20 1.20 0 1 0 0.01 0z" fill="none" stroke="#f26a5a" stroke-width="0.60"/>
<text x="522.7" y="26.0" font-size="5.00" text-anchor="start" font-weight="normal" fill="#000" stroke="#000" stroke-width="0.30" textLength="14.2" lengthAdjust="spacingAndGlyphs" >60 Sec</text>
<path d="M514.7 31.6 h7.6" stroke="#333" stroke-width="0.7"/>
<path d="M518.5 30.4a1.20 1.20 0 1 0 0.01 0z" fill="none" stroke="#333" stroke-width="0.60"/>
<text x="522.7" y="33.3" font-size="5.00" text-anchor="start" font-weight="normal" fill="#000" stroke="#000" stroke-width="0.30" textLength="16.2" lengthAdjust="spacingAndGlyphs" >120 Sec</text>
<path d="M514.7 38.9 h7.6" stroke="#ee3333" stroke-width="0.7"/>
<path d="M518.5 37.7l1.20 2.04h-2.40z" fill="none" stroke="#ee3333" stroke-width="0.60"/>
<text x="522.7" y="40.7" font-size="5.00" text-anchor="start" font-weight="normal" fill="#000" stroke="#000" stroke-width="0.30" textLength="16.2" lengthAdjust="spacingAndGlyphs" >180 Sec</text>
<path d="M514.7 46.3 h7.6" stroke="#4a7fdc" stroke-width="0.7"/>
<path d="M518.5 45.1a1.20 1.20 0 1 0 0.01 0z" fill="none" stroke="#4a7fdc" stroke-width="0.60"/>
<text x="522.7" y="48.0" font-size="5.00" text-anchor="start" font-weight="normal" fill="#000" stroke="#000" stroke-width="0.30" textLength="16.2" lengthAdjust="spacingAndGlyphs" >240 Sec</text>
<text x="29.6" y="120.8" font-size="7.60" text-anchor="start" font-weight="bold" fill="#000" >D</text>
<path d="M30.0 214.5 L30.7 213.7 L31.4 213.9 L32.1 215.2 L32.8 211.1 L33.5 212.9 L34.2 212.6 L34.9 213.7 L35.6 211.8 L36.3 215.2 L37.0 211.8 L37.7 212.5 L38.4 211.5 L39.1 212.6 L39.8 214.2 L40.5 211.3 L41.2 211.6 L41.9 213.8 L42.6 213.7 L43.3 214.2 L44.0 212.1 L44.7 214.5 L45.4 214.2 L46.1 214.4 L46.8 211.5 L47.5 213.0 L48.2 211.1 L48.9 214.8 L49.6 215.2 L50.3 214.9 L51.0 211.1 L51.7 212.6 L52.4 213.4 L53.1 213.4 L53.8 211.5 L54.5 214.5 L55.2 212.4 L55.9 213.3 L56.6 211.6 L57.3 213.6 L58.0 211.7 L58.7 211.5 L59.4 213.3 L60.1 212.4 L60.8 214.5 L61.5 212.1 L62.2 212.9 L62.9 211.3 L63.6 212.0 L64.3 213.0 L65.0 213.4 L65.7 213.0 L66.4 214.7 L67.1 211.4 L67.8 214.6 L68.5 211.6 L69.2 215.1 L69.9 213.2 L70.6 212.6 L71.3 213.5 L72.0 214.6 L72.7 215.0 L73.4 212.6 L74.1 210.8 L74.8 211.4 L75.5 214.3 L76.2 213.9 L76.9 213.8 L77.6 211.3 L78.3 213.0 L79.0 210.8 L79.7 211.1 L80.4 211.9 L81.1 214.7 L81.8 213.2 L82.5 214.0 L83.2 210.4 L83.9 211.9 L84.6 210.3 L85.3 211.0 L86.0 210.3 L86.7 213.7 L87.4 211.1 L88.1 211.7 L88.8 212.3 L89.5 213.2 L90.2 213.4 L90.9 211.6 L91.6 211.3 L92.3 212.9 L93.0 210.6 L93.7 210.1 L94.4 211.9 L95.1 209.7 L95.8 209.9 L96.5 209.8 L97.2 209.7 L97.9 208.8 L98.6 208.8 L99.3 208.6 L100.0 206.5 L100.7 209.6 L101.4 205.8 L102.1 207.5 L102.8 207.2 L103.5 206.1 L104.2 205.0 L104.9 204.0 L105.6 204.9 L106.3 204.2 L107.0 204.6 L107.7 203.1 L108.4 205.0 L109.1 203.4 L109.8 200.9 L110.5 202.2 L111.2 204.2 L111.9 199.5 L112.6 201.6 L113.3 202.7 L114.0 199.6 L114.7 200.1 L115.4 198.6 L116.1 197.8 L116.8 198.6 L117.5 198.4 L118.2 197.1 L118.9 197.8 L119.6 197.9 L120.3 198.8 L121.0 195.7 L121.7 195.8 L122.4 196.5 L123.1 196.6 L123.8 199.5 L124.5 198.5 L125.2 201.1 L125.9 199.7 L126.6 199.8 L127.3 202.2 L128.0 200.2 L128.7 204.3 L129.4 203.8 L130.1 201.8 L130.8 201.9 L131.5 204.3 L132.2 203.9 L132.9 202.1 L133.6 198.4 L134.3 200.3 L135.0 196.0 L135.7 197.4 L136.4 195.9 L137.1 196.4 L137.8 193.9 L138.5 190.4 L139.2 193.8 L139.9 192.4 L140.6 191.0 L141.3 187.8 L142.0 190.4 L142.7 189.0 L143.4 190.9 L144.1 193.0 L144.8 193.4 L145.5 190.5 L146.2 194.4 L146.9 193.6 L147.6 196.0 L148.3 195.4 L149.0 196.8 L149.7 197.8 L150.4 197.4 L151.1 199.4 L151.8 202.2 L152.5 200.4 L153.2 201.6 L153.9 205.8 L154.6 206.1 L155.3 206.5 L156.0 205.2 L156.7 205.9 L157.4 207.3 L158.1 210.8 L158.8 209.7 L159.5 211.9 L160.2 209.2 L160.9 210.1 L161.6 210.6 L162.3 211.9 L163.0 208.7 L163.7 212.0 L164.4 210.2 L165.1 208.2 L165.8 209.9 L166.5 209.7 L167.2 210.9 L167.9 212.0 L168.6 210.1 L169.3 210.9 L170.0 209.6 L170.7 211.2 L171.4 208.2 L172.1 211.0 L172.8 208.5 L173.5 210.3 L174.2 208.5 L174.9 209.1 L175.6 208.3 L176.3 209.1 L177.0 210.1 L177.7 209.8 L178.4 209.2 L179.1 210.0 L179.8 211.1 L180.5 208.9 L181.2 209.9 L181.9 209.4" fill="none" stroke="#33a833" stroke-width="1.04"/>
<path d="M30.0 213.4l1.10 1.87h-2.20zM31.4 212.8l1.10 1.87h-2.20zM32.8 210.0l1.10 1.87h-2.20zM34.2 211.5l1.10 1.87h-2.20zM35.6 210.7l1.10 1.87h-2.20zM37.0 210.7l1.10 1.87h-2.20zM38.4 210.4l1.10 1.87h-2.20zM39.8 213.1l1.10 1.87h-2.20zM41.2 210.5l1.10 1.87h-2.20zM42.6 212.6l1.10 1.87h-2.20zM44.0 211.0l1.10 1.87h-2.20zM45.4 213.1l1.10 1.87h-2.20zM46.8 210.4l1.10 1.87h-2.20zM48.2 210.0l1.10 1.87h-2.20zM49.6 214.1l1.10 1.87h-2.20zM51.0 210.0l1.10 1.87h-2.20zM52.4 212.3l1.10 1.87h-2.20zM53.8 210.4l1.10 1.87h-2.20zM55.2 211.3l1.10 1.87h-2.20zM56.6 210.5l1.10 1.87h-2.20zM58.0 210.6l1.10 1.87h-2.20zM59.4 212.2l1.10 1.87h-2.20zM60.8 213.4l1.10 1.87h-2.20zM62.2 211.8l1.10 1.87h-2.20zM63.6 210.9l1.10 1.87h-2.20zM65.0 212.3l1.10 1.87h-2.20zM66.4 213.6l1.10 1.87h-2.20zM67.8 213.5l1.10 1.87h-2.20zM69.2 214.0l1.10 1.87h-2.20zM70.6 211.5l1.10 1.87h-2.20zM72.0 213.5l1.10 1.87h-2.20zM73.4 211.5l1.10 1.87h-2.20zM74.8 210.3l1.10 1.87h-2.20zM76.2 212.8l1.10 1.87h-2.20zM77.6 210.2l1.10 1.87h-2.20zM79.0 209.7l1.10 1.87h-2.20zM80.4 210.8l1.10 1.87h-2.20zM81.8 212.1l1.10 1.87h-2.20zM83.2 209.3l1.10 1.87h-2.20zM84.6 209.2l1.10 1.87h-2.20zM86.0 209.2l1.10 1.87h-2.20zM87.4 210.0l1.10 1.87h-2.20zM88.8 211.2l1.10 1.87h-2.20zM90.2 212.3l1.10 1.87h-2.20zM91.6 210.2l1.10 1.87h-2.20zM93.0 209.5l1.10 1.87h-2.20zM94.4 210.8l1.10 1.87h-2.20zM95.8 208.8l1.10 1.87h-2.20zM97.2 208.6l1.10 1.87h-2.20zM98.6 207.7l1.10 1.87h-2.20zM100.0 205.4l1.10 1.87h-2.20zM101.4 204.7l1.10 1.87h-2.20zM102.8 206.1l1.10 1.87h-2.20zM104.2 203.9l1.10 1.87h-2.20zM105.6 203.8l1.10 1.87h-2.20zM107.0 203.5l1.10 1.87h-2.20zM108.4 203.9l1.10 1.87h-2.20zM109.8 199.8l1.10 1.87h-2.20zM111.2 203.1l1.10 1.87h-2.20zM112.6 200.5l1.10 1.87h-2.20zM114.0 198.5l1.10 1.87h-2.20zM115.4 197.5l1.10 1.87h-2.20zM116.8 197.5l1.10 1.87h-2.20zM118.2 196.0l1.10 1.87h-2.20zM119.6 196.8l1.10 1.87h-2.20zM121.0 194.6l1.10 1.87h-2.20zM122.4 195.4l1.10 1.87h-2.20zM123.8 198.4l1.10 1.87h-2.20zM125.2 200.0l1.10 1.87h-2.20zM126.6 198.7l1.10 1.87h-2.20zM128.0 199.1l1.10 1.87h-2.20zM129.4 202.7l1.10 1.87h-2.20zM130.8 200.8l1.10 1.87h-2.20zM132.2 202.8l1.10 1.87h-2.20zM133.6 197.3l1.10 1.87h-2.20zM135.0 194.9l1.10 1.87h-2.20zM136.4 194.8l1.10 1.87h-2.20zM137.8 192.8l1.10 1.87h-2.20zM139.2 192.7l1.10 1.87h-2.20zM140.6 189.9l1.10 1.87h-2.20zM142.0 189.3l1.10 1.87h-2.20zM143.4 189.8l1.10 1.87h-2.20zM144.8 192.3l1.10 1.87h-2.20zM146.2 193.3l1.10 1.87h-2.20zM147.6 194.9l1.10 1.87h-2.20zM149.0 195.7l1.10 1.87h-2.20zM150.4 196.3l1.10 1.87h-2.20zM151.8 201.1l1.10 1.87h-2.20zM153.2 200.5l1.10 1.87h-2.20zM154.6 205.0l1.10 1.87h-2.20zM156.0 204.1l1.10 1.87h-2.20zM157.4 206.2l1.10 1.87h-2.20zM158.8 208.6l1.10 1.87h-2.20zM160.2 208.1l1.10 1.87h-2.20zM161.6 209.5l1.10 1.87h-2.20zM163.0 207.6l1.10 1.87h-2.20zM164.4 209.1l1.10 1.87h-2.20zM165.8 208.8l1.10 1.87h-2.20zM167.2 209.8l1.10 1.87h-2.20zM168.6 209.0l1.10 1.87h-2.20zM170.0 208.5l1.10 1.87h-2.20zM171.4 207.1l1.10 1.87h-2.20zM172.8 207.4l1.10 1.87h-2.20zM174.2 207.4l1.10 1.87h-2.20zM175.6 207.2l1.10 1.87h-2.20zM177.0 209.0l1.10 1.87h-2.20zM178.4 208.1l1.10 1.87h-2.20zM179.8 210.0l1.10 1.87h-2.20zM181.2 208.8l1.10 1.87h-2.20z" fill="none" stroke="#33a833" stroke-width="0.60"/>
<path d="M30.0 204.1 L30.7 199.9 L31.4 202.3 L32.1 199.4 L32.8 199.6 L33.5 202.6 L34.2 201.6 L34.9 199.6 L35.6 198.4 L36.3 203.3 L37.0 200.5 L37.7 202.7 L38.4 200.9 L39.1 202.1 L39.8 201.7 L40.5 204.4 L41.2 204.0 L41.9 201.1 L42.6 201.3 L43.3 199.7 L44.0 203.1 L44.7 199.0 L45.4 200.3 L46.1 203.8 L46.8 198.6 L47.5 202.9 L48.2 202.0 L48.9 202.0 L49.6 200.6 L50.3 199.5 L51.0 204.6 L51.7 203.4 L52.4 203.7 L53.1 199.2 L53.8 203.6 L54.5 200.0 L55.2 199.9 L55.9 202.1 L56.6 202.6 L57.3 199.5 L58.0 203.6 L58.7 202.5 L59.4 204.5 L60.1 204.7 L60.8 203.1 L61.5 200.9 L62.2 204.6 L62.9 203.0 L63.6 200.2 L64.3 203.8 L65.0 202.8 L65.7 199.8 L66.4 199.6 L67.1 198.0 L67.8 201.3 L68.5 199.4 L69.2 199.5 L69.9 199.2 L70.6 198.3 L71.3 200.5 L72.0 199.0 L72.7 199.0 L73.4 198.9 L74.1 200.3 L74.8 202.5 L75.5 197.9 L76.2 202.3 L76.9 202.2 L77.6 200.5 L78.3 200.0 L79.0 201.1 L79.7 199.8 L80.4 200.3 L81.1 201.7 L81.8 200.5 L82.5 196.9 L83.2 195.2 L83.9 200.6 L84.6 196.6 L85.3 199.0 L86.0 195.2 L86.7 196.3 L87.4 195.4 L88.1 197.4 L88.8 198.5 L89.5 195.4 L90.2 195.4 L90.9 193.7 L91.6 192.7 L92.3 197.0 L93.0 191.3 L93.7 196.3 L94.4 194.2 L95.1 190.1 L95.8 195.1 L96.5 189.7 L97.2 192.4 L97.9 189.2 L98.6 194.4 L99.3 189.8 L100.0 193.1 L100.7 187.6 L101.4 191.2 L102.1 187.1 L102.8 186.5 L103.5 189.7 L104.2 192.1 L104.9 189.9 L105.6 190.7 L106.3 190.0 L107.0 188.0 L107.7 184.8 L108.4 187.4 L109.1 185.0 L109.8 186.9 L110.5 185.5 L111.2 186.1 L111.9 183.9 L112.6 187.0 L113.3 185.0 L114.0 185.3 L114.7 182.5 L115.4 185.0 L116.1 185.3 L116.8 187.8 L117.5 185.1 L118.2 182.2 L118.9 183.1 L119.6 183.2 L120.3 185.4 L121.0 186.8 L121.7 186.8 L122.4 186.5 L123.1 186.2 L123.8 185.7 L124.5 186.0 L125.2 180.0 L125.9 182.9 L126.6 183.4 L127.3 183.8 L128.0 183.2 L128.7 181.6 L129.4 182.0 L130.1 174.9 L130.8 176.0 L131.5 177.2 L132.2 169.6 L132.9 168.5 L133.6 171.7 L134.3 170.6 L135.0 163.0 L135.7 161.6 L136.4 165.4 L137.1 163.1 L137.8 160.6 L138.5 159.7 L139.2 159.4 L139.9 158.4 L140.6 153.4 L141.3 154.2 L142.0 159.3 L142.7 160.9 L143.4 161.8 L144.1 162.1 L144.8 164.6 L145.5 167.6 L146.2 168.5 L146.9 176.3 L147.6 175.2 L148.3 179.2 L149.0 180.8 L149.7 181.6 L150.4 185.8 L151.1 186.3 L151.8 186.9 L152.5 193.0 L153.2 190.0 L153.9 190.3 L154.6 191.3 L155.3 193.2 L156.0 195.5 L156.7 193.0 L157.4 192.8 L158.1 195.9 L158.8 193.8 L159.5 195.9 L160.2 194.4 L160.9 198.4 L161.6 194.0 L162.3 194.3 L163.0 194.7 L163.7 194.9 L164.4 197.4 L165.1 197.1 L165.8 197.9 L166.5 196.3 L167.2 193.3 L167.9 197.7 L168.6 194.4 L169.3 194.2 L170.0 195.5 L170.7 199.1 L171.4 195.2 L172.1 195.1 L172.8 198.6 L173.5 199.1 L174.2 195.3 L174.9 193.7 L175.6 197.9 L176.3 197.8 L177.0 195.0 L177.7 197.9 L178.4 195.2 L179.1 194.6 L179.8 196.6 L180.5 197.5 L181.2 195.8 L181.9 198.0" fill="none" stroke="#f67a5e" stroke-width="1.12"/>
<path d="M30.0 203.0a1.10 1.10 0 1 0 0.01 0zM31.4 201.2a1.10 1.10 0 1 0 0.01 0zM32.8 198.5a1.10 1.10 0 1 0 0.01 0zM34.2 200.5a1.10 1.10 0 1 0 0.01 0zM35.6 197.3a1.10 1.10 0 1 0 0.01 0zM37.0 199.4a1.10 1.10 0 1 0 0.01 0zM38.4 199.8a1.10 1.10 0 1 0 0.01 0zM39.8 200.6a1.10 1.10 0 1 0 0.01 0zM41.2 202.9a1.10 1.10 0 1 0 0.01 0zM42.6 200.2a1.10 1.10 0 1 0 0.01 0zM44.0 202.0a1.10 1.10 0 1 0 0.01 0zM45.4 199.2a1.10 1.10 0 1 0 0.01 0zM46.8 197.5a1.10 1.10 0 1 0 0.01 0zM48.2 200.9a1.10 1.10 0 1 0 0.01 0zM49.6 199.5a1.10 1.10 0 1 0 0.01 0zM51.0 203.5a1.10 1.10 0 1 0 0.01 0zM52.4 202.6a1.10 1.10 0 1 0 0.01 0zM53.8 202.5a1.10 1.10 0 1 0 0.01 0zM55.2 198.8a1.10 1.10 0 1 0 0.01 0zM56.6 201.5a1.10 1.10 0 1 0 0.01 0zM58.0 202.5a1.10 1.10 0 1 0 0.01 0zM59.4 203.4a1.10 1.10 0 1 0 0.01 0zM60.8 202.0a1.10 1.10 0 1 0 0.01 0zM62.2 203.5a1.10 1.10 0 1 0 0.01 0zM63.6 199.1a1.10 1.10 0 1 0 0.01 0zM65.0 201.7a1.10 1.10 0 1 0 0.01 0zM66.4 198.5a1.10 1.10 0 1 0 0.01 0zM67.8 200.2a1.10 1.10 0 1 0 0.01 0zM69.2 198.4a1.10 1.10 0 1 0 0.01 0zM70.6 197.2a1.10 1.10 0 1 0 0.01 0zM72.0 197.9a1.10 1.10 0 1 0 0.01 0zM73.4 197.8a1.10 1.10 0 1 0 0.01 0zM74.8 201.4a1.10 1.10 0 1 0 0.01 0zM76.2 201.2a1.10 1.10 0 1 0 0.01 0zM77.6 199.4a1.10 1.10 0 1 0 0.01 0zM79.0 200.0a1.10 1.10 0 1 0 0.01 0zM80.4 199.2a1.10 1.10 0 1 0 0.01 0zM81.8 199.4a1.10 1.10 0 1 0 0.01 0zM83.2 194.1a1.10 1.10 0 1 0 0.01 0zM84.6 195.5a1.10 1.10 0 1 0 0.01 0zM86.0 194.1a1.10 1.10 0 1 0 0.01 0zM87.4 194.3a1.10 1.10 0 1 0 0.01 0zM88.8 197.4a1.10 1.10 0 1 0 0.01 0zM90.2 194.3a1.10 1.10 0 1 0 0.01 0zM91.6 191.6a1.10 1.10 0 1 0 0.01 0zM93.0 190.2a1.10 1.10 0 1 0 0.01 0zM94.4 193.1a1.10 1.10 0 1 0 0.01 0zM95.8 194.0a1.10 1.10 0 1 0 0.01 0zM97.2 191.3a1.10 1.10 0 1 0 0.01 0zM98.6 193.3a1.10 1.10 0 1 0 0.01 0zM100.0 192.0a1.10 1.10 0 1 0 0.01 0zM101.4 190.1a1.10 1.10 0 1 0 0.01 0zM102.8 185.4a1.10 1.10 0 1 0 0.01 0zM104.2 191.0a1.10 1.10 0 1 0 0.01 0zM105.6 189.6a1.10 1.10 0 1 0 0.01 0zM107.0 186.9a1.10 1.10 0 1 0 0.01 0zM108.4 186.3a1.10 1.10 0 1 0 0.01 0zM109.8 185.8a1.10 1.10 0 1 0 0.01 0zM111.2 185.0a1.10 1.10 0 1 0 0.01 0zM112.6 185.9a1.10 1.10 0 1 0 0.01 0zM114.0 184.2a1.10 1.10 0 1 0 0.01 0zM115.4 183.9a1.10 1.10 0 1 0 0.01 0zM116.8 186.7a1.10 1.10 0 1 0 0.01 0zM118.2 181.1a1.10 1.10 0 1 0 0.01 0zM119.6 182.1a1.10 1.10 0 1 0 0.01 0zM121.0 185.7a1.10 1.10 0 1 0 0.01 0zM122.4 185.4a1.10 1.10 0 1 0 0.01 0zM123.8 184.6a1.10 1.10 0 1 0 0.01 0zM125.2 178.9a1.10 1.10 0 1 0 0.01 0zM126.6 182.3a1.10 1.10 0 1 0 0.01 0zM128.0 182.1a1.10 1.10 0 1 0 0.01 0zM129.4 180.9a1.10 1.10 0 1 0 0.01 0zM130.8 174.9a1.10 1.10 0 1 0 0.01 0zM132.2 168.5a1.10 1.10 0 1 0 0.01 0zM133.6 170.6a1.10 1.10 0 1 0 0.01 0zM135.0 161.9a1.10 1.10 0 1 0 0.01 0zM136.4 164.3a1.10 1.10 0 1 0 0.01 0zM137.8 159.5a1.10 1.10 0 1 0 0.01 0zM139.2 158.3a1.10 1.10 0 1 0 0.01 0zM140.6 152.3a1.10 1.10 0 1 0 0.01 0zM142.0 158.2a1.10 1.10 0 1 0 0.01 0zM143.4 160.7a1.10 1.10 0 1 0 0.01 0zM144.8 163.5a1.10 1.10 0 1 0 0.01 0zM146.2 167.4a1.10 1.10 0 1 0 0.01 0zM147.6 174.1a1.10 1.10 0 1 0 0.01 0zM149.0 179.7a1.10 1.10 0 1 0 0.01 0zM150.4 184.7a1.10 1.10 0 1 0 0.01 0zM151.8 185.8a1.10 1.10 0 1 0 0.01 0zM153.2 188.9a1.10 1.10 0 1 0 0.01 0zM154.6 190.2a1.10 1.10 0 1 0 0.01 0zM156.0 194.4a1.10 1.10 0 1 0 0.01 0zM157.4 191.7a1.10 1.10 0 1 0 0.01 0zM158.8 192.7a1.10 1.10 0 1 0 0.01 0zM160.2 193.3a1.10 1.10 0 1 0 0.01 0zM161.6 192.9a1.10 1.10 0 1 0 0.01 0zM163.0 193.6a1.10 1.10 0 1 0 0.01 0zM164.4 196.3a1.10 1.10 0 1 0 0.01 0zM165.8 196.8a1.10 1.10 0 1 0 0.01 0zM167.2 192.2a1.10 1.10 0 1 0 0.01 0zM168.6 193.3a1.10 1.10 0 1 0 0.01 0zM170.0 194.4a1.10 1.10 0 1 0 0.01 0zM171.4 194.1a1.10 1.10 0 1 0 0.01 0zM172.8 197.5a1.10 1.10 0 1 0 0.01 0zM174.2 194.2a1.10 1.10 0 1 0 0.01 0zM175.6 196.8a1.10 1.10 0 1 0 0.01 0zM177.0 193.9a1.10 1.10 0 1 0 0.01 0zM178.4 194.1a1.10 1.10 0 1 0 0.01 0zM179.8 195.5a1.10 1.10 0 1 0 0.01 0zM181.2 194.7a1.10 1.10 0 1 0 0.01 0z" fill="none" stroke="#f67a5e" stroke-width="0.60"/>
<path d="M30.0 195.5 L30.7 197.0 L31.4 196.6 L32.1 195.7 L32.8 198.4 L33.5 195.9 L34.2 196.1 L34.9 198.3 L35.6 198.6 L36.3 198.5 L37.0 196.6 L37.7 198.5 L38.4 196.0 L39.1 197.8 L39.8 198.6 L40.5 196.2 L41.2 196.0 L41.9 197.8 L42.6 198.4 L43.3 198.0 L44.0 198.7 L44.7 197.1 L45.4 196.9 L46.1 196.1 L46.8 196.6 L47.5 198.7 L48.2 195.9 L48.9 196.3 L49.6 196.8 L50.3 195.9 L51.0 196.7 L51.7 196.3 L52.4 196.2 L53.1 197.5 L53.8 197.5 L54.5 197.6 L55.2 198.3 L55.9 197.5 L56.6 198.9 L57.3 196.1 L58.0 196.6 L58.7 196.1 L59.4 196.9 L60.1 198.3 L60.8 198.8 L61.5 197.3 L62.2 196.1 L62.9 196.6 L63.6 197.3 L64.3 196.3 L65.0 197.8 L65.7 198.3 L66.4 196.6 L67.1 196.9 L67.8 197.6 L68.5 196.3 L69.2 195.4 L69.9 197.7 L70.6 197.7 L71.3 194.6 L72.0 196.8 L72.7 195.6 L73.4 194.4 L74.1 194.7 L74.8 194.6 L75.5 196.3 L76.2 194.6 L76.9 193.9 L77.6 194.4 L78.3 196.2 L79.0 195.1 L79.7 195.5 L80.4 194.7 L81.1 193.6 L81.8 192.8 L82.5 193.5 L83.2 192.4 L83.9 192.9 L84.6 193.8 L85.3 192.7 L86.0 192.8 L86.7 193.1 L87.4 191.8 L88.1 191.7 L88.8 193.1 L89.5 191.9 L90.2 191.2 L90.9 191.3 L91.6 190.8 L92.3 190.2 L93.0 191.8 L93.7 189.4 L94.4 191.4 L95.1 190.8 L95.8 190.7 L96.5 188.1 L97.2 189.0 L97.9 190.3 L98.6 187.8 L99.3 187.2 L100.0 188.7 L100.7 186.8 L101.4 187.6 L102.1 185.9 L102.8 188.1 L103.5 185.7 L104.2 184.8 L104.9 186.4 L105.6 184.9 L106.3 185.3 L107.0 184.8 L107.7 185.8 L108.4 184.2 L109.1 183.4 L109.8 181.9 L110.5 183.2 L111.2 182.1 L111.9 182.8 L112.6 182.6 L113.3 181.7 L114.0 180.2 L114.7 181.1 L115.4 180.7 L116.1 180.9 L116.8 181.5 L117.5 179.0 L118.2 179.1 L118.9 177.6 L119.6 179.6 L120.3 177.4 L121.0 178.9 L121.7 178.5 L122.4 176.4 L123.1 178.1 L123.8 176.5 L124.5 175.9 L125.2 175.9 L125.9 176.8 L126.6 175.0 L127.3 174.6 L128.0 173.6 L128.7 174.4 L129.4 172.2 L130.1 170.7 L130.8 169.2 L131.5 168.2 L132.2 169.2 L132.9 168.1 L133.6 167.6 L134.3 166.4 L135.0 164.6 L135.7 163.0 L136.4 160.8 L137.1 159.1 L137.8 157.1 L138.5 153.2 L139.2 153.2 L139.9 149.7 L140.6 149.6 L141.3 152.2 L142.0 149.8 L142.7 151.8 L143.4 153.3 L144.1 157.9 L144.8 160.5 L145.5 164.6 L146.2 167.8 L146.9 170.0 L147.6 170.9 L148.3 175.5 L149.0 176.4 L149.7 181.8 L150.4 184.1 L151.1 185.0 L151.8 187.2 L152.5 190.0 L153.2 190.6 L153.9 191.8 L154.6 191.1 L155.3 190.0 L156.0 192.4 L156.7 190.7 L157.4 193.8 L158.1 193.9 L158.8 194.0 L159.5 194.3 L160.2 193.4 L160.9 194.6 L161.6 193.7 L162.3 193.2 L163.0 192.9 L163.7 192.9 L164.4 191.9 L165.1 192.4 L165.8 194.4 L166.5 192.7 L167.2 194.1 L167.9 194.5 L168.6 194.3 L169.3 193.8 L170.0 193.2 L170.7 193.1 L171.4 192.8 L172.1 194.4 L172.8 194.5 L173.5 195.4 L174.2 193.5 L174.9 195.4 L175.6 195.4 L176.3 193.5 L177.0 195.6 L177.7 194.6 L178.4 195.8 L179.1 195.2 L179.8 193.8 L180.5 193.7 L181.2 194.5 L181.9 194.5" fill="none" stroke="#8c9a40" stroke-width="0.80"/>
<path d="M30.0 194.4l1.10 1.87h-2.20zM31.4 195.5l1.10 1.87h-2.20zM32.8 197.3l1.10 1.87h-2.20zM34.2 195.0l1.10 1.87h-2.20zM35.6 197.5l1.10 1.87h-2.20zM37.0 195.5l1.10 1.87h-2.20zM38.4 194.9l1.10 1.87h-2.20zM39.8 197.5l1.10 1.87h-2.20zM41.2 194.9l1.10 1.87h-2.20zM42.6 197.3l1.10 1.87h-2.20zM44.0 197.6l1.10 1.87h-2.20zM45.4 195.8l1.10 1.87h-2.20zM46.8 195.5l1.10 1.87h-2.20zM48.2 194.8l1.10 1.87h-2.20zM49.6 195.7l1.10 1.87h-2.20zM51.0 195.6l1.10 1.87h-2.20zM52.4 195.1l1.10 1.87h-2.20zM53.8 196.4l1.10 1.87h-2.20zM55.2 197.2l1.10 1.87h-2.20zM56.6 197.8l1.10 1.87h-2.20zM58.0 195.5l1.10 1.87h-2.20zM59.4 195.8l1.10 1.87h-2.20zM60.8 197.7l1.10 1.87h-2.20zM62.2 195.0l1.10 1.87h-2.20zM63.6 196.2l1.10 1.87h-2.20zM65.0 196.7l1.10 1.87h-2.20zM66.4 195.5l1.10 1.87h-2.20zM67.8 196.5l1.10 1.87h-2.20zM69.2 194.3l1.10 1.87h-2.20zM70.6 196.6l1.10 1.87h-2.20zM72.0 195.7l1.10 1.87h-2.20zM73.4 193.3l1.10 1.87h-2.20zM74.8 193.5l1.10 1.87h-2.20zM76.2 193.5l1.10 1.87h-2.20zM77.6 193.3l1.10 1.87h-2.20zM79.0 194.0l1.10 1.87h-2.20zM80.4 193.6l1.10 1.87h-2.20zM81.8 191.7l1.10 1.87h-2.20zM83.2 191.3l1.10 1.87h-2.20zM84.6 192.7l1.10 1.87h-2.20zM86.0 191.7l1.10 1.87h-2.20zM87.4 190.7l1.10 1.87h-2.20zM88.8 192.0l1.10 1.87h-2.20zM90.2 190.1l1.10 1.87h-2.20zM91.6 189.7l1.10 1.87h-2.20zM93.0 190.7l1.10 1.87h-2.20zM94.4 190.3l1.10 1.87h-2.20zM95.8 189.6l1.10 1.87h-2.20zM97.2 187.9l1.10 1.87h-2.20zM98.6 186.7l1.10 1.87h-2.20zM100.0 187.6l1.10 1.87h-2.20zM101.4 186.5l1.10 1.87h-2.20zM102.8 187.0l1.10 1.87h-2.20zM104.2 183.7l1.10 1.87h-2.20zM105.6 183.8l1.10 1.87h-2.20zM107.0 183.7l1.10 1.87h-2.20zM108.4 183.1l1.10 1.87h-2.20zM109.8 180.8l1.10 1.87h-2.20zM111.2 181.0l1.10 1.87h-2.20zM112.6 181.5l1.10 1.87h-2.20zM114.0 179.1l1.10 1.87h-2.20zM115.4 179.6l1.10 1.87h-2.20zM116.8 180.4l1.10 1.87h-2.20zM118.2 178.0l1.10 1.87h-2.20zM119.6 178.5l1.10 1.87h-2.20zM121.0 177.8l1.10 1.87h-2.20zM122.4 175.3l1.10 1.87h-2.20zM123.8 175.4l1.10 1.87h-2.20zM125.2 174.8l1.10 1.87h-2.20zM126.6 173.9l1.10 1.87h-2.20zM128.0 172.5l1.10 1.87h-2.20zM129.4 171.1l1.10 1.87h-2.20zM130.8 168.1l1.10 1.87h-2.20zM132.2 168.1l1.10 1.87h-2.20zM133.6 166.5l1.10 1.87h-2.20zM135.0 163.5l1.10 1.87h-2.20zM136.4 159.7l1.10 1.87h-2.20zM137.8 156.0l1.10 1.87h-2.20zM139.2 152.1l1.10 1.87h-2.20zM140.6 148.5l1.10 1.87h-2.20zM142.0 148.7l1.10 1.87h-2.20zM143.4 152.2l1.10 1.87h-2.20zM144.8 159.4l1.10 1.87h-2.20zM146.2 166.7l1.10 1.87h-2.20zM147.6 169.8l1.10 1.87h-2.20zM149.0 175.3l1.10 1.87h-2.20zM150.4 183.0l1.10 1.87h-2.20zM151.8 186.1l1.10 1.87h-2.20zM153.2 189.5l1.10 1.87h-2.20zM154.6 190.0l1.10 1.87h-2.20zM156.0 191.3l1.10 1.87h-2.20zM157.4 192.7l1.10 1.87h-2.20zM158.8 192.9l1.10 1.87h-2.20zM160.2 192.3l1.10 1.87h-2.20zM161.6 192.6l1.10 1.87h-2.20zM163.0 191.8l1.10 1.87h-2.20zM164.4 190.8l1.10 1.87h-2.20zM165.8 193.3l1.10 1.87h-2.20zM167.2 193.0l1.10 1.87h-2.20zM168.6 193.2l1.10 1.87h-2.20zM170.0 192.1l1.10 1.87h-2.20zM171.4 191.7l1.10 1.87h-2.20zM172.8 193.4l1.10 1.87h-2.20zM174.2 192.4l1.10 1.87h-2.20zM175.6 194.3l1.10 1.87h-2.20zM177.0 194.5l1.10 1.87h-2.20zM178.4 194.7l1.10 1.87h-2.20zM179.8 192.7l1.10 1.87h-2.20zM181.2 193.4l1.10 1.87h-2.20z" fill="none" stroke="#8c9a40" stroke-width="0.60"/>
<path d="M30.0 193.4 L30.7 198.0 L31.4 196.2 L32.1 195.8 L32.8 197.3 L33.5 194.5 L34.2 194.3 L34.9 196.4 L35.6 194.5 L36.3 194.9 L37.0 193.5 L37.7 193.4 L38.4 195.1 L39.1 196.0 L39.8 198.4 L40.5 196.6 L41.2 195.4 L41.9 195.3 L42.6 194.3 L43.3 195.7 L44.0 198.4 L44.7 193.7 L45.4 195.4 L46.1 196.8 L46.8 197.2 L47.5 196.1 L48.2 196.5 L48.9 198.2 L49.6 198.0 L50.3 194.3 L51.0 195.9 L51.7 198.5 L52.4 195.9 L53.1 194.0 L53.8 197.2 L54.5 193.2 L55.2 193.7 L55.9 195.9 L56.6 194.4 L57.3 196.9 L58.0 196.9 L58.7 194.6 L59.4 197.1 L60.1 196.4 L60.8 196.6 L61.5 195.2 L62.2 194.9 L62.9 193.0 L63.6 195.0 L64.3 197.6 L65.0 197.1 L65.7 192.4 L66.4 192.4 L67.1 193.4 L67.8 195.7 L68.5 194.1 L69.2 192.3 L69.9 193.9 L70.6 194.6 L71.3 195.5 L72.0 193.5 L72.7 194.8 L73.4 194.9 L74.1 194.4 L74.8 191.1 L75.5 194.8 L76.2 191.4 L76.9 190.9 L77.6 193.2 L78.3 190.5 L79.0 190.7 L79.7 192.4 L80.4 192.7 L81.1 190.4 L81.8 194.9 L82.5 194.1 L83.2 191.8 L83.9 192.1 L84.6 190.3 L85.3 193.8 L86.0 188.7 L86.7 189.5 L87.4 188.8 L88.1 192.1 L88.8 189.9 L89.5 189.1 L90.2 188.8 L90.9 191.2 L91.6 187.5 L92.3 190.2 L93.0 189.5 L93.7 187.8 L94.4 187.1 L95.1 187.2 L95.8 187.0 L96.5 186.0 L97.2 187.5 L97.9 186.1 L98.6 185.2 L99.3 187.6 L100.0 185.5 L100.7 185.2 L101.4 187.0 L102.1 184.1 L102.8 183.2 L103.5 185.6 L104.2 185.6 L104.9 184.1 L105.6 181.4 L106.3 182.5 L107.0 182.4 L107.7 179.4 L108.4 181.3 L109.1 182.1 L109.8 180.0 L110.5 179.6 L111.2 177.8 L111.9 178.5 L112.6 175.9 L113.3 178.8 L114.0 177.4 L114.7 179.7 L115.4 176.0 L116.1 177.9 L116.8 173.9 L117.5 176.0 L118.2 177.8 L118.9 174.8 L119.6 176.7 L120.3 174.3 L121.0 175.2 L121.7 178.4 L122.4 173.8 L123.1 177.6 L123.8 172.7 L124.5 175.5 L125.2 176.7 L125.9 176.6 L126.6 174.0 L127.3 175.0 L128.0 175.5 L128.7 174.6 L129.4 173.4 L130.1 171.3 L130.8 168.3 L131.5 169.7 L132.2 167.7 L132.9 166.5 L133.6 167.8 L134.3 161.9 L135.0 164.4 L135.7 159.3 L136.4 159.0 L137.1 157.7 L137.8 151.4 L138.5 150.5 L139.2 147.8 L139.9 145.0 L140.6 143.1 L141.3 146.0 L142.0 147.8 L142.7 146.8 L143.4 146.7 L144.1 152.9 L144.8 154.1 L145.5 155.9 L146.2 161.8 L146.9 164.3 L147.6 167.8 L148.3 173.5 L149.0 174.2 L149.7 179.4 L150.4 179.1 L151.1 184.5 L151.8 183.7 L152.5 186.3 L153.2 189.0 L153.9 189.5 L154.6 190.8 L155.3 188.8 L156.0 188.7 L156.7 189.7 L157.4 191.3 L158.1 188.8 L158.8 190.8 L159.5 192.4 L160.2 189.6 L160.9 190.6 L161.6 193.7 L162.3 194.1 L163.0 190.3 L163.7 189.9 L164.4 189.6 L165.1 189.5 L165.8 193.5 L166.5 193.2 L167.2 190.6 L167.9 191.9 L168.6 193.0 L169.3 189.3 L170.0 193.8 L170.7 194.0 L171.4 190.4 L172.1 193.2 L172.8 193.2 L173.5 191.2 L174.2 194.3 L174.9 190.6 L175.6 192.1 L176.3 191.2 L177.0 192.0 L177.7 194.1 L178.4 192.7 L179.1 193.0 L179.8 195.1 L180.5 190.9 L181.2 190.9 L181.9 193.2" fill="none" stroke="#f03c3c" stroke-width="1.12"/>
<path d="M30.0 192.3a1.10 1.10 0 1 0 0.01 0zM31.4 195.1a1.10 1.10 0 1 0 0.01 0zM32.8 196.2a1.10 1.10 0 1 0 0.01 0zM34.2 193.2a1.10 1.10 0 1 0 0.01 0zM35.6 193.4a1.10 1.10 0 1 0 0.01 0zM37.0 192.4a1.10 1.10 0 1 0 0.01 0zM38.4 194.0a1.10 1.10 0 1 0 0.01 0zM39.8 197.3a1.10 1.10 0 1 0 0.01 0zM41.2 194.3a1.10 1.10 0 1 0 0.01 0zM42.6 193.2a1.10 1.10 0 1 0 0.01 0zM44.0 197.3a1.10 1.10 0 1 0 0.01 0zM45.4 194.3a1.10 1.10 0 1 0 0.01 0zM46.8 196.1a1.10 1.10 0 1 0 0.01 0zM48.2 195.4a1.10 1.10 0 1 0 0.01 0zM49.6 196.9a1.10 1.10 0 1 0 0.01 0zM51.0 194.8a1.10 1.10 0 1 0 0.01 0zM52.4 194.8a1.10 1.10 0 1 0 0.01 0zM53.8 196.1a1.10 1.10 0 1 0 0.01 0zM55.2 192.6a1.10 1.10 0 1 0 0.01 0zM56.6 193.3a1.10 1.10 0 1 0 0.01 0zM58.0 195.8a1.10 1.10 0 1 0 0.01 0zM59.4 196.0a1.10 1.10 0 1 0 0.01 0zM60.8 195.5a1.10 1.10 0 1 0 0.01 0zM62.2 193.8a1.10 1.10 0 1 0 0.01 0zM63.6 193.9a1.10 1.10 0 1 0 0.01 0zM65.0 196.0a1.10 1.10 0 1 0 0.01 0zM66.4 191.3a1.10 1.10 0 1 0 0.01 0zM67.8 194.6a1.10 1.10 0 1 0 0.01 0zM69.2 191.2a1.10 1.10 0 1 0 0.01 0zM70.6 193.5a1.10 1.10 0 1 0 0.01 0zM72.0 192.4a1.10 1.10 0 1 0 0.01 0zM73.4 193.8a1.10 1.10 0 1 0 0.01 0zM74.8 190.0a1.10 1.10 0 1 0 0.01 0zM76.2 190.3a1.10 1.10 0 1 0 0.01 0zM77.6 192.1a1.10 1.10 0 1 0 0.01 0zM79.0 189.6a1.10 1.10 0 1 0 0.01 0zM80.4 191.6a1.10 1.10 0 1 0 0.01 0zM81.8 193.8a1.10 1.10 0 1 0 0.01 0zM83.2 190.7a1.10 1.10 0 1 0 0.01 0zM84.6 189.2a1.10 1.10 0 1 0 0.01 0zM86.0 187.6a1.10 1.10 0 1 0 0.01 0zM87.4 187.7a1.10 1.10 0 1 0 0.01 0zM88.8 188.8a1.10 1.10 0 1 0 0.01 0zM90.2 187.7a1.10 1.10 0 1 0 0.01 0zM91.6 186.4a1.10 1.10 0 1 0 0.01 0zM93.0 188.4a1.10 1.10 0 1 0 0.01 0zM94.4 186.0a1.10 1.10 0 1 0 0.01 0zM95.8 185.9a1.10 1.10 0 1 0 0.01 0zM97.2 186.4a1.10 1.10 0 1 0 0.01 0zM98.6 184.1a1.10 1.10 0 1 0 0.01 0zM100.0 184.4a1.10 1.10 0 1 0 0.01 0zM101.4 185.9a1.10 1.10 0 1 0 0.01 0zM102.8 182.1a1.10 1.10 0 1 0 0.01 0zM104.2 184.5a1.10 1.10 0 1 0 0.01 0zM105.6 180.3a1.10 1.10 0 1 0 0.01 0zM107.0 181.3a1.10 1.10 0 1 0 0.01 0zM108.4 180.2a1.10 1.10 0 1 0 0.01 0zM109.8 178.9a1.10 1.10 0 1 0 0.01 0zM111.2 176.7a1.10 1.10 0 1 0 0.01 0zM112.6 174.8a1.10 1.10 0 1 0 0.01 0zM114.0 176.3a1.10 1.10 0 1 0 0.01 0zM115.4 174.9a1.10 1.10 0 1 0 0.01 0zM116.8 172.8a1.10 1.10 0 1 0 0.01 0zM118.2 176.7a1.10 1.10 0 1 0 0.01 0zM119.6 175.6a1.10 1.10 0 1 0 0.01 0zM121.0 174.1a1.10 1.10 0 1 0 0.01 0zM122.4 172.7a1.10 1.10 0 1 0 0.01 0zM123.8 171.6a1.10 1.10 0 1 0 0.01 0zM125.2 175.6a1.10 1.10 0 1 0 0.01 0zM126.6 172.9a1.10 1.10 0 1 0 0.01 0zM128.0 174.4a1.10 1.10 0 1 0 0.01 0zM129.4 172.3a1.10 1.10 0 1 0 0.01 0zM130.8 167.2a1.10 1.10 0 1 0 0.01 0zM132.2 166.6a1.10 1.10 0 1 0 0.01 0zM133.6 166.7a1.10 1.10 0 1 0 0.01 0zM135.0 163.3a1.10 1.10 0 1 0 0.01 0zM136.4 157.9a1.10 1.10 0 1 0 0.01 0zM137.8 150.3a1.10 1.10 0 1 0 0.01 0zM139.2 146.7a1.10 1.10 0 1 0 0.01 0zM140.6 142.0a1.10 1.10 0 1 0 0.01 0zM142.0 146.7a1.10 1.10 0 1 0 0.01 0zM143.4 145.6a1.10 1.10 0 1 0 0.01 0zM144.8 153.0a1.10 1.10 0 1 0 0.01 0zM146.2 160.7a1.10 1.10 0 1 0 0.01 0zM147.6 166.7a1.10 1.10 0 1 0 0.01 0zM149.0 173.1a1.10 1.10 0 1 0 0.01 0zM150.4 178.0a1.10 1.10 0 1 0 0.01 0zM151.8 182.6a1.10 1.10 0 1 0 0.01 0zM153.2 187.9a1.10 1.10 0 1 0 0.01 0zM154.6 189.7a1.10 1.10 0 1 0 0.01 0zM156.0 187.6a1.10 1.10 0 1 0 0.01 0zM157.4 190.2a1.10 1.10 0 1 0 0.01 0zM158.8 189.7a1.10 1.10 0 1 0 0.01 0zM160.2 188.5a1.10 1.10 0 1 0 0.01 0zM161.6 192.6a1.10 1.10 0 1 0 0.01 0zM163.0 189.2a1.10 1.10 0 1 0 0.01 0zM164.4 188.5a1.10 1.10 0 1 0 0.01 0zM165.8 192.4a1.10 1.10 0 1 0 0.01 0zM167.2 189.5a1.10 1.10 0 1 0 0.01 0zM168.6 191.9a1.10 1.10 0 1 0 0.01 0zM170.0 192.7a1.10 1.10 0 1 0 0.01 0zM171.4 189.3a1.10 1.10 0 1 0 0.01 0zM172.8 192.1a1.10 1.10 0 1 0 0.01 0zM174.2 193.2a1.10 1.10 0 1 0 0.01 0zM175.6 191.0a1.10 1.10 0 1 0 0.01 0zM177.0 190.9a1.10 1.10 0 1 0 0.01 0zM178.4 191.6a1.10 1.10 0 1 0 0.01 0zM179.8 194.0a1.10 1.10 0 1 0 0.01 0zM181.2 189.8a1.10 1.10 0 1 0 0.01 0z" fill="none" stroke="#f03c3c" stroke-width="0.60"/>
<path d="M30.0 190.3 L30.7 193.2 L31.4 191.0 L32.1 191.4 L32.8 191.3 L33.5 192.8 L34.2 193.1 L34.9 192.3 L35.6 190.5 L36.3 191.2 L37.0 192.4 L37.7 190.7 L38.4 193.1 L39.1 193.1 L39.8 190.8 L40.5 191.3 L41.2 190.8 L41.9 192.6 L42.6 190.2 L43.3 192.6 L44.0 190.3 L44.7 193.1 L45.4 192.1 L46.1 192.2 L46.8 190.5 L47.5 190.3 L48.2 191.5 L48.9 193.8 L49.6 192.4 L50.3 193.3 L51.0 190.5 L51.7 190.6 L52.4 190.4 L53.1 192.8 L53.8 191.0 L54.5 191.3 L55.2 192.8 L55.9 192.9 L56.6 191.6 L57.3 192.1 L58.0 191.5 L58.7 192.5 L59.4 191.8 L60.1 191.8 L60.8 191.3 L61.5 191.3 L62.2 191.1 L62.9 190.1 L63.6 191.0 L64.3 191.9 L65.0 190.6 L65.7 190.0 L66.4 192.5 L67.1 191.0 L67.8 191.1 L68.5 190.2 L69.2 192.2 L69.9 191.6 L70.6 191.0 L71.3 191.0 L72.0 191.0 L72.7 190.2 L73.4 189.8 L74.1 189.6 L74.8 189.9 L75.5 189.6 L76.2 189.7 L76.9 189.6 L77.6 190.4 L78.3 190.7 L79.0 188.2 L79.7 187.3 L80.4 188.2 L81.1 187.0 L81.8 189.5 L82.5 188.6 L83.2 187.2 L83.9 186.6 L84.6 188.9 L85.3 188.5 L86.0 187.7 L86.7 187.5 L87.4 187.5 L88.1 186.2 L88.8 185.8 L89.5 186.2 L90.2 187.0 L90.9 187.0 L91.6 186.2 L92.3 185.5 L93.0 182.3 L93.7 182.4 L94.4 184.6 L95.1 182.6 L95.8 182.0 L96.5 180.8 L97.2 182.4 L97.9 180.6 L98.6 181.9 L99.3 178.1 L100.0 181.0 L100.7 176.9 L101.4 176.8 L102.1 177.1 L102.8 177.4 L103.5 174.9 L104.2 176.0 L104.9 176.8 L105.6 174.4 L106.3 175.0 L107.0 173.8 L107.7 173.2 L108.4 171.1 L109.1 171.6 L109.8 172.6 L110.5 171.2 L111.2 168.9 L111.9 169.2 L112.6 169.3 L113.3 168.5 L114.0 169.2 L114.7 169.2 L115.4 166.9 L116.1 167.5 L116.8 168.9 L117.5 167.2 L118.2 166.5 L118.9 168.9 L119.6 167.2 L120.3 169.3 L121.0 167.7 L121.7 165.9 L122.4 167.7 L123.1 166.2 L123.8 168.0 L124.5 167.6 L125.2 167.5 L125.9 164.9 L126.6 164.6 L127.3 167.2 L128.0 164.7 L128.7 163.6 L129.4 161.6 L130.1 160.7 L130.8 160.4 L131.5 160.8 L132.2 157.1 L132.9 155.5 L133.6 155.4 L134.3 150.8 L135.0 150.1 L135.7 147.7 L136.4 146.5 L137.1 141.1 L137.8 141.1 L138.5 138.5 L139.2 138.2 L139.9 134.3 L140.6 136.3 L141.3 135.1 L142.0 136.9 L142.7 139.4 L143.4 139.5 L144.1 143.8 L144.8 150.3 L145.5 153.6 L146.2 155.5 L146.9 159.7 L147.6 163.6 L148.3 167.5 L149.0 173.2 L149.7 175.5 L150.4 179.2 L151.1 180.9 L151.8 183.5 L152.5 183.6 L153.2 185.1 L153.9 184.5 L154.6 183.3 L155.3 185.1 L156.0 185.0 L156.7 185.8 L157.4 184.3 L158.1 184.5 L158.8 188.3 L159.5 186.3 L160.2 186.4 L160.9 185.7 L161.6 187.3 L162.3 188.5 L163.0 185.8 L163.7 187.0 L164.4 187.0 L165.1 188.0 L165.8 187.2 L166.5 186.1 L167.2 185.9 L167.9 187.8 L168.6 185.5 L169.3 188.3 L170.0 185.3 L170.7 185.9 L171.4 186.9 L172.1 188.2 L172.8 187.4 L173.5 187.9 L174.2 187.9 L174.9 187.8 L175.6 185.4 L176.3 188.2 L177.0 185.7 L177.7 185.8 L178.4 185.3 L179.1 185.3 L179.8 188.4 L180.5 186.6 L181.2 185.5 L181.9 185.4" fill="none" stroke="#5a9ad8" stroke-width="1.04"/>
<path d="M30.0 189.2a1.10 1.10 0 1 0 0.01 0zM31.4 189.9a1.10 1.10 0 1 0 0.01 0zM32.8 190.2a1.10 1.10 0 1 0 0.01 0zM34.2 192.0a1.10 1.10 0 1 0 0.01 0zM35.6 189.4a1.10 1.10 0 1 0 0.01 0zM37.0 191.3a1.10 1.10 0 1 0 0.01 0zM38.4 192.0a1.10 1.10 0 1 0 0.01 0zM39.8 189.7a1.10 1.10 0 1 0 0.01 0zM41.2 189.7a1.10 1.10 0 1 0 0.01 0zM42.6 189.1a1.10 1.10 0 1 0 0.01 0zM44.0 189.2a1.10 1.10 0 1 0 0.01 0zM45.4 191.0a1.10 1.10 0 1 0 0.01 0zM46.8 189.4a1.10 1.10 0 1 0 0.01 0zM48.2 190.4a1.10 1.10 0 1 0 0.01 0zM49.6 191.3a1.10 1.10 0 1 0 0.01 0zM51.0 189.4a1.10 1.10 0 1 0 0.01 0zM52.4 189.3a1.10 1.10 0 1 0 0.01 0zM53.8 189.9a1.10 1.10 0 1 0 0.01 0zM55.2 191.7a1.10 1.10 0 1 0 0.01 0zM56.6 190.5a1.10 1.10 0 1 0 0.01 0zM58.0 190.4a1.10 1.10 0 1 0 0.01 0zM59.4 190.7a1.10 1.10 0 1 0 0.01 0zM60.8 190.2a1.10 1.10 0 1 0 0.01 0zM62.2 190.0a1.10 1.10 0 1 0 0.01 0zM63.6 189.9a1.10 1.10 0 1 0 0.01 0zM65.0 189.5a1.10 1.10 0 1 0 0.01 0zM66.4 191.4a1.10 1.10 0 1 0 0.01 0zM67.8 190.0a1.10 1.10 0 1 0 0.01 0zM69.2 191.1a1.10 1.10 0 1 0 0.01 0zM70.6 189.9a1.10 1.10 0 1 0 0.01 0zM72.0 189.9a1.10 1.10 0 1 0 0.01 0zM73.4 188.7a1.10 1.10 0 1 0 0.01 0zM74.8 188.8a1.10 1.10 0 1 0 0.01 0zM76.2 188.6a1.10 1.10 0 1 0 0.01 0zM77.6 189.3a1.10 1.10 0 1 0 0.01 0zM79.0 187.1a1.10 1.10 0 1 0 0.01 0zM80.4 187.1a1.10 1.10 0 1 0 0.01 0zM81.8 188.4a1.10 1.10 0 1 0 0.01 0zM83.2 186.1a1.10 1.10 0 1 0 0.01 0zM84.6 187.8a1.10 1.10 0 1 0 0.01 0zM86.0 186.6a1.10 1.10 0 1 0 0.01 0zM87.4 186.4a1.10 1.10 0 1 0 0.01 0zM88.8 184.7a1.10 1.10 0 1 0 0.01 0zM90.2 185.9a1.10 1.10 0 1 0 0.01 0zM91.6 185.1a1.10 1.10 0 1 0 0.01 0zM93.0 181.2a1.10 1.10 0 1 0 0.01 0zM94.4 183.5a1.10 1.10 0 1 0 0.01 0zM95.8 180.9a1.10 1.10 0 1 0 0.01 0zM97.2 181.3a1.10 1.10 0 1 0 0.01 0zM98.6 180.8a1.10 1.10 0 1 0 0.01 0zM100.0 179.9a1.10 1.10 0 1 0 0.01 0zM101.4 175.7a1.10 1.10 0 1 0 0.01 0zM102.8 176.3a1.10 1.10 0 1 0 0.01 0zM104.2 174.9a1.10 1.10 0 1 0 0.01 0zM105.6 173.3a1.10 1.10 0 1 0 0.01 0zM107.0 172.7a1.10 1.10 0 1 0 0.01 0zM108.4 170.0a1.10 1.10 0 1 0 0.01 0zM109.8 171.5a1.10 1.10 0 1 0 0.01 0zM111.2 167.8a1.10 1.10 0 1 0 0.01 0zM112.6 168.2a1.10 1.10 0 1 0 0.01 0zM114.0 168.1a1.10 1.10 0 1 0 0.01 0zM115.4 165.8a1.10 1.10 0 1 0 0.01 0zM116.8 167.8a1.10 1.10 0 1 0 0.01 0zM118.2 165.4a1.10 1.10 0 1 0 0.01 0zM119.6 166.1a1.10 1.10 0 1 0 0.01 0zM121.0 166.6a1.10 1.10 0 1 0 0.01 0zM122.4 166.6a1.10 1.10 0 1 0 0.01 0zM123.8 166.9a1.10 1.10 0 1 0 0.01 0zM125.2 166.4a1.10 1.10 0 1 0 0.01 0zM126.6 163.5a1.10 1.10 0 1 0 0.01 0zM128.0 163.6a1.10 1.10 0 1 0 0.01 0zM129.4 160.5a1.10 1.10 0 1 0 0.01 0zM130.8 159.3a1.10 1.10 0 1 0 0.01 0zM132.2 156.0a1.10 1.10 0 1 0 0.01 0zM133.6 154.3a1.10 1.10 0 1 0 0.01 0zM135.0 149.0a1.10 1.10 0 1 0 0.01 0zM136.4 145.4a1.10 1.10 0 1 0 0.01 0zM137.8 140.0a1.10 1.10 0 1 0 0.01 0zM139.2 137.1a1.10 1.10 0 1 0 0.01 0zM140.6 135.2a1.10 1.10 0 1 0 0.01 0zM142.0 135.8a1.10 1.10 0 1 0 0.01 0zM143.4 138.4a1.10 1.10 0 1 0 0.01 0zM144.8 149.2a1.10 1.10 0 1 0 0.01 0zM146.2 154.4a1.10 1.10 0 1 0 0.01 0zM147.6 162.5a1.10 1.10 0 1 0 0.01 0zM149.0 172.1a1.10 1.10 0 1 0 0.01 0zM150.4 178.1a1.10 1.10 0 1 0 0.01 0zM151.8 182.4a1.10 1.10 0 1 0 0.01 0zM153.2 184.0a1.10 1.10 0 1 0 0.01 0zM154.6 182.2a1.10 1.10 0 1 0 0.01 0zM156.0 183.9a1.10 1.10 0 1 0 0.01 0zM157.4 183.2a1.10 1.10 0 1 0 0.01 0zM158.8 187.2a1.10 1.10 0 1 0 0.01 0zM160.2 185.3a1.10 1.10 0 1 0 0.01 0zM161.6 186.2a1.10 1.10 0 1 0 0.01 0zM163.0 184.7a1.10 1.10 0 1 0 0.01 0zM164.4 185.9a1.10 1.10 0 1 0 0.01 0zM165.8 186.1a1.10 1.10 0 1 0 0.01 0zM167.2 184.8a1.10 1.10 0 1 0 0.01 0zM168.6 184.4a1.10 1.10 0 1 0 0.01 0zM170.0 184.2a1.10 1.10 0 1 0 0.01 0zM171.4 185.8a1.10 1.10 0 1 0 0.01 0zM172.8 186.3a1.10 1.10 0 1 0 0.01 0zM174.2 186.8a1.10 1.10 0 1 0 0.01 0zM175.6 184.3a1.10 1.10 0 1 0 0.01 0zM177.0 184.6a1.10 1.10 0 1 0 0.01 0zM178.4 184.2a1.10 1.10 0 1 0 0.01 0zM179.8 187.3a1.10 1.10 0 1 0 0.01 0zM181.2 184.4a1.10 1.10 0 1 0 0.01 0z" fill="none" stroke="#5a9ad8" stroke-width="0.60"/>
<ellipse cx="116.2" cy="188.3" rx="16.8" ry="28.8" fill="none" stroke="#000" stroke-width="1.0" stroke-dasharray="1.9 1.0"/>
<rect x="29.2" y="123.7" width="152.8" height="102.8" fill="none" stroke="#7a7a7a" stroke-width="0.90"/>
<path d="M29.2 123.7 V226.5 H182.0" fill="none" stroke="#666" stroke-width="0.90"/>
<path d="M27.9 123.7 h2.6" stroke="#555" stroke-width="0.6"/>
<text x="24.9" y="125.6" font-size="5.30" text-anchor="end" font-weight="normal" fill="#1a1a1a" stroke="#1a1a1a" stroke-width="0.30" textLength="14.0" lengthAdjust="spacingAndGlyphs" >16000</text>
<path d="M27.9 140.8 h2.6" stroke="#555" stroke-width="0.6"/>
<text x="24.9" y="142.7" font-size="5.30" text-anchor="end" font-weight="normal" fill="#1a1a1a" stroke="#1a1a1a" stroke-width="0.30" textLength="14.0" lengthAdjust="spacingAndGlyphs" >15500</text>
<path d="M27.9 158.0 h2.6" stroke="#555" stroke-width="0.6"/>
<text x="24.9" y="159.9" font-size="5.30" text-anchor="end" font-weight="normal" fill="#1a1a1a" stroke="#1a1a1a" stroke-width="0.30" textLength="14.0" lengthAdjust="spacingAndGlyphs" >15000</text>
<path d="M27.9 175.1 h2.6" stroke="#555" stroke-width="0.6"/>
<text x="24.9" y="177.0" font-size="5.30" text-anchor="end" font-weight="normal" fill="#1a1a1a" stroke="#1a1a1a" stroke-width="0.30" textLength="14.0" lengthAdjust="spacingAndGlyphs" >14500</text>
<path d="M27.9 192.2 h2.6" stroke="#555" stroke-width="0.6"/>
<text x="24.9" y="194.1" font-size="5.30" text-anchor="end" font-weight="normal" fill="#1a1a1a" stroke="#1a1a1a" stroke-width="0.30" textLength="14.0" lengthAdjust="spacingAndGlyphs" >14000</text>
<path d="M27.9 209.3 h2.6" stroke="#555" stroke-width="0.6"/>
<text x="24.9" y="211.3" font-size="5.30" text-anchor="end" font-weight="normal" fill="#1a1a1a" stroke="#1a1a1a" stroke-width="0.30" textLength="14.0" lengthAdjust="spacingAndGlyphs" >13500</text>
<path d="M27.9 226.5 h2.6" stroke="#555" stroke-width="0.6"/>
<text x="24.9" y="228.4" font-size="5.30" text-anchor="end" font-weight="normal" fill="#1a1a1a" stroke="#1a1a1a" stroke-width="0.30" textLength="14.0" lengthAdjust="spacingAndGlyphs" >13000</text>
<path d="M29.2 225.2 v2.6" stroke="#555" stroke-width="0.6"/>
<text x="29.2" y="233.1" font-size="5.00" text-anchor="middle" font-weight="normal" fill="#1a1a1a" stroke="#1a1a1a" stroke-width="0.30" textLength="8.1" lengthAdjust="spacingAndGlyphs" >698</text>
<path d="M67.3 225.2 v2.6" stroke="#555" stroke-width="0.6"/>
<text x="67.3" y="233.1" font-size="5.00" text-anchor="middle" font-weight="normal" fill="#1a1a1a" stroke="#1a1a1a" stroke-width="0.30" textLength="8.1" lengthAdjust="spacingAndGlyphs" >693</text>
<path d="M105.5 225.2 v2.6" stroke="#555" stroke-width="0.6"/>
<text x="105.5" y="233.1" font-size="5.00" text-anchor="middle" font-weight="normal" fill="#1a1a1a" stroke="#1a1a1a" stroke-width="0.30" textLength="8.1" lengthAdjust="spacingAndGlyphs" >688</text>
<path d="M143.6 225.2 v2.6" stroke="#555" stroke-width="0.6"/>
<text x="143.6" y="233.1" font-size="5.00" text-anchor="middle" font-weight="normal" fill="#1a1a1a" stroke="#1a1a1a" stroke-width="0.30" textLength="8.1" lengthAdjust="spacingAndGlyphs" >683</text>
<path d="M181.8 225.2 v2.6" stroke="#555" stroke-width="0.6"/>
<text x="181.8" y="233.1" font-size="5.00" text-anchor="middle" font-weight="normal" fill="#1a1a1a" stroke="#1a1a1a" stroke-width="0.30" textLength="8.1" lengthAdjust="spacingAndGlyphs" >678</text>
<text x="105.5" y="239.4" font-size="4.90" text-anchor="middle" font-weight="bold" fill="#000" stroke="#000" stroke-width="0.15" textLength="47.5" lengthAdjust="spacingAndGlyphs" >Binding Energy (eV)</text>
<text x="0" y="0" font-size="4.50" font-weight="bold" fill="#000" stroke="#000" stroke-width="0.18" textLength="22.6" lengthAdjust="spacingAndGlyphs" text-anchor="middle" transform="translate(8.0 176.0) rotate(-90)">Counts/sec</text>
<path d="M32.2 128.8 h9.4" stroke="#33a833" stroke-width="0.8"/>
<path d="M35.5 127.9l0.90 1.53h-1.80zM38.5 127.9l0.90 1.53h-1.80z" fill="none" stroke="#33a833" stroke-width="0.50"/>
<text x="41.8" y="130.7" font-size="5.30" text-anchor="start" font-weight="normal" fill="#000" stroke="#000" stroke-width="0.30" textLength="13.0" lengthAdjust="spacingAndGlyphs" >0 Sec</text>
<path d="M32.2 135.8 h9.4" stroke="#f67a5e" stroke-width="0.8"/>
<path d="M35.5 134.8a0.90 0.90 0 1 0 0.01 0zM38.5 134.8a0.90 0.90 0 1 0 0.01 0z" fill="none" stroke="#f67a5e" stroke-width="0.50"/>
<text x="41.8" y="137.6" font-size="5.30" text-anchor="start" font-weight="normal" fill="#000" stroke="#000" stroke-width="0.30" textLength="15.8" lengthAdjust="spacingAndGlyphs" >60 Sec</text>
<path d="M32.2 142.7 h9.4" stroke="#8c9a40" stroke-width="0.8"/>
<path d="M35.5 141.8l0.90 1.53h-1.80zM38.5 141.8l0.90 1.53h-1.80z" fill="none" stroke="#8c9a40" stroke-width="0.50"/>
<text x="41.8" y="144.6" font-size="5.30" text-anchor="start" font-weight="normal" fill="#000" stroke="#000" stroke-width="0.30" textLength="18.3" lengthAdjust="spacingAndGlyphs" >120 Sec</text>
<path d="M32.2 149.7 h9.4" stroke="#f03c3c" stroke-width="0.8"/>
<path d="M35.5 148.8a0.90 0.90 0 1 0 0.01 0zM38.5 148.8a0.90 0.90 0 1 0 0.01 0z" fill="none" stroke="#f03c3c" stroke-width="0.50"/>
<text x="41.8" y="151.5" font-size="5.30" text-anchor="start" font-weight="normal" fill="#000" stroke="#000" stroke-width="0.30" textLength="18.3" lengthAdjust="spacingAndGlyphs" >180 Sec</text>
<path d="M32.2 156.6 h9.4" stroke="#5a9ad8" stroke-width="0.8"/>
<path d="M35.5 155.7a0.90 0.90 0 1 0 0.01 0zM38.5 155.7a0.90 0.90 0 1 0 0.01 0z" fill="none" stroke="#5a9ad8" stroke-width="0.50"/>
<text x="41.8" y="158.5" font-size="5.30" text-anchor="start" font-weight="normal" fill="#000" stroke="#000" stroke-width="0.30" textLength="18.3" lengthAdjust="spacingAndGlyphs" >240 Sec</text>
<text x="210.9" y="120.4" font-size="7.60" text-anchor="start" font-weight="bold" fill="#000" >E</text>
<path d="M216.3 194.9a1.2 1.2 0 1 0 0.01 0zM217.1 197.9a1.2 1.2 0 1 0 0.01 0zM218.6 205.5a1.2 1.2 0 1 0 0.01 0zM220.0 210.6a1.2 1.2 0 1 0 0.01 0zM221.6 204.0a1.2 1.2 0 1 0 0.01 0zM223.0 203.5a1.2 1.2 0 1 0 0.01 0zM224.7 203.9a1.2 1.2 0 1 0 0.01 0zM226.2 209.1a1.2 1.2 0 1 0 0.01 0zM227.6 200.9a1.2 1.2 0 1 0 0.01 0zM228.7 211.3a1.2 1.2 0 1 0 0.01 0zM230.6 208.5a1.2 1.2 0 1 0 0.01 0zM231.6 212.0a1.2 1.2 0 1 0 0.01 0zM233.7 200.9a1.2 1.2 0 1 0 0.01 0zM234.9 203.1a1.2 1.2 0 1 0 0.01 0zM236.7 210.7a1.2 1.2 0 1 0 0.01 0zM237.9 211.1a1.2 1.2 0 1 0 0.01 0zM239.1 202.5a1.2 1.2 0 1 0 0.01 0zM240.3 187.5a1.2 1.2 0 1 0 0.01 0zM241.9 198.1a1.2 1.2 0 1 0 0.01 0zM243.8 211.1a1.2 1.2 0 1 0 0.01 0zM245.2 203.9a1.2 1.2 0 1 0 0.01 0zM246.4 197.8a1.2 1.2 0 1 0 0.01 0zM248.2 198.9a1.2 1.2 0 1 0 0.01 0zM249.7 194.1a1.2 1.2 0 1 0 0.01 0zM251.0 200.1a1.2 1.2 0 1 0 0.01 0zM252.3 189.6a1.2 1.2 0 1 0 0.01 0zM254.1 198.1a1.2 1.2 0 1 0 0.01 0zM255.5 183.3a1.2 1.2 0 1 0 0.01 0zM257.0 189.9a1.2 1.2 0 1 0 0.01 0zM258.4 173.1a1.2 1.2 0 1 0 0.01 0zM259.2 172.0a1.2 1.2 0 1 0 0.01 0zM260.7 179.6a1.2 1.2 0 1 0 0.01 0zM262.6 178.6a1.2 1.2 0 1 0 0.01 0zM263.7 173.1a1.2 1.2 0 1 0 0.01 0zM265.2 165.7a1.2 1.2 0 1 0 0.01 0zM266.7 162.9a1.2 1.2 0 1 0 0.01 0zM268.5 164.5a1.2 1.2 0 1 0 0.01 0zM269.5 160.8a1.2 1.2 0 1 0 0.01 0zM271.3 163.4a1.2 1.2 0 1 0 0.01 0zM272.3 167.9a1.2 1.2 0 1 0 0.01 0zM274.0 163.6a1.2 1.2 0 1 0 0.01 0zM275.1 165.7a1.2 1.2 0 1 0 0.01 0zM276.5 167.4a1.2 1.2 0 1 0 0.01 0zM278.7 176.9a1.2 1.2 0 1 0 0.01 0zM279.9 182.6a1.2 1.2 0 1 0 0.01 0zM281.0 182.7a1.2 1.2 0 1 0 0.01 0zM282.7 183.2a1.2 1.2 0 1 0 0.01 0zM284.5 181.0a1.2 1.2 0 1 0 0.01 0zM285.5 187.9a1.2 1.2 0 1 0 0.01 0zM286.9 193.8a1.2 1.2 0 1 0 0.01 0zM288.7 185.8a1.2 1.2 0 1 0 0.01 0zM289.7 191.9a1.2 1.2 0 1 0 0.01 0zM291.6 190.8a1.2 1.2 0 1 0 0.01 0zM292.9 185.5a1.2 1.2 0 1 0 0.01 0zM294.0 186.9a1.2 1.2 0 1 0 0.01 0zM295.5 179.9a1.2 1.2 0 1 0 0.01 0zM297.4 167.9a1.2 1.2 0 1 0 0.01 0zM299.0 164.0a1.2 1.2 0 1 0 0.01 0zM299.7 164.2a1.2 1.2 0 1 0 0.01 0zM301.5 156.8a1.2 1.2 0 1 0 0.01 0zM303.3 147.8a1.2 1.2 0 1 0 0.01 0zM304.7 140.6a1.2 1.2 0 1 0 0.01 0zM305.8 145.4a1.2 1.2 0 1 0 0.01 0zM307.0 142.1a1.2 1.2 0 1 0 0.01 0zM308.6 138.5a1.2 1.2 0 1 0 0.01 0zM309.9 136.1a1.2 1.2 0 1 0 0.01 0zM311.7 139.9a1.2 1.2 0 1 0 0.01 0zM313.4 142.7a1.2 1.2 0 1 0 0.01 0zM314.5 145.6a1.2 1.2 0 1 0 0.01 0zM316.2 150.8a1.2 1.2 0 1 0 0.01 0zM317.8 148.6a1.2 1.2 0 1 0 0.01 0zM319.2 157.2a1.2 1.2 0 1 0 0.01 0zM320.5 167.0a1.2 1.2 0 1 0 0.01 0zM322.1 170.0a1.2 1.2 0 1 0 0.01 0zM323.4 175.3a1.2 1.2 0 1 0 0.01 0zM324.7 180.8a1.2 1.2 0 1 0 0.01 0zM326.0 180.2a1.2 1.2 0 1 0 0.01 0zM327.7 186.4a1.2 1.2 0 1 0 0.01 0zM328.7 197.4a1.2 1.2 0 1 0 0.01 0zM330.7 201.9a1.2 1.2 0 1 0 0.01 0zM332.4 200.8a1.2 1.2 0 1 0 0.01 0zM333.4 197.0a1.2 1.2 0 1 0 0.01 0zM334.9 204.2a1.2 1.2 0 1 0 0.01 0zM336.7 199.1a1.2 1.2 0 1 0 0.01 0zM337.8 199.8a1.2 1.2 0 1 0 0.01 0zM339.1 208.2a1.2 1.2 0 1 0 0.01 0zM341.1 210.1a1.2 1.2 0 1 0 0.01 0zM341.8 206.8a1.2 1.2 0 1 0 0.01 0zM343.7 207.0a1.2 1.2 0 1 0 0.01 0zM345.0 207.7a1.2 1.2 0 1 0 0.01 0zM346.6 205.7a1.2 1.2 0 1 0 0.01 0zM347.8 199.7a1.2 1.2 0 1 0 0.01 0zM349.3 207.6a1.2 1.2 0 1 0 0.01 0zM350.5 202.5a1.2 1.2 0 1 0 0.01 0zM352.6 201.8a1.2 1.2 0 1 0 0.01 0zM353.5 204.5a1.2 1.2 0 1 0 0.01 0zM355.5 203.8a1.2 1.2 0 1 0 0.01 0zM356.8 201.7a1.2 1.2 0 1 0 0.01 0zM357.9 196.9a1.2 1.2 0 1 0 0.01 0zM359.2 205.3a1.2 1.2 0 1 0 0.01 0zM215.5 195.8a1.2 1.2 0 1 0 0.01 0zM216.0 199.8a1.2 1.2 0 1 0 0.01 0zM216.8 203.8a1.2 1.2 0 1 0 0.01 0zM217.5 206.8a1.2 1.2 0 1 0 0.01 0zM218.5 208.8a1.2 1.2 0 1 0 0.01 0zM219.5 201.8a1.2 1.2 0 1 0 0.01 0zM220.5 205.8a1.2 1.2 0 1 0 0.01 0zM221.5 210.8a1.2 1.2 0 1 0 0.01 0zM223.0 205.8a1.2 1.2 0 1 0 0.01 0zM225.0 203.8a1.2 1.2 0 1 0 0.01 0zM227.0 202.8a1.2 1.2 0 1 0 0.01 0zM232.0 211.8a1.2 1.2 0 1 0 0.01 0zM233.0 216.8a1.2 1.2 0 1 0 0.01 0zM236.0 204.8a1.2 1.2 0 1 0 0.01 0zM238.0 191.8a1.2 1.2 0 1 0 0.01 0zM240.0 193.8a1.2 1.2 0 1 0 0.01 0zM242.0 197.8a1.2 1.2 0 1 0 0.01 0zM244.0 208.8a1.2 1.2 0 1 0 0.01 0zM246.0 209.8a1.2 1.2 0 1 0 0.01 0zM248.0 218.8a1.2 1.2 0 1 0 0.01 0zM245.0 194.8a1.2 1.2 0 1 0 0.01 0zM247.0 190.8a1.2 1.2 0 1 0 0.01 0zM250.0 196.8a1.2 1.2 0 1 0 0.01 0zM251.0 194.8a1.2 1.2 0 1 0 0.01 0z" fill="#111" stroke="none"/>
<path d="M226.0 207.7 L227.0 207.7 L228.0 207.7 L229.0 207.7 L230.0 207.7 L231.0 207.7 L232.0 207.7 L233.0 207.7 L234.0 207.7 L235.0 207.7 L236.0 207.7 L237.0 207.7 L238.0 207.7 L239.0 207.7 L240.0 207.7 L241.0 207.7 L242.0 207.7 L243.0 207.7 L244.0 207.7 L245.0 207.7 L246.0 207.7 L247.0 207.7 L248.0 207.7 L249.0 207.7 L250.0 207.7 L251.0 207.7 L252.0 207.7 L253.0 207.7 L254.0 207.7 L255.0 207.7 L256.0 207.7 L257.0 207.7 L258.0 207.7 L259.0 207.7 L260.0 207.7 L261.0 207.7 L262.0 207.7 L263.0 207.7 L264.0 207.7 L265.0 207.7 L266.0 207.7 L267.0 207.7 L268.0 207.7 L269.0 207.7 L270.0 207.7 L271.0 207.6 L272.0 207.6 L273.0 207.6 L274.0 207.5 L275.0 207.5 L276.0 207.4 L277.0 207.3 L278.0 207.1 L279.0 207.0 L280.0 206.7 L281.0 206.4 L282.0 206.0 L283.0 205.5 L284.0 204.8 L285.0 204.1 L286.0 203.1 L287.0 202.0 L288.0 200.6 L289.0 199.0 L290.0 197.2 L291.0 195.0 L292.0 192.6 L293.0 189.9 L294.0 186.8 L295.0 183.5 L296.0 180.0 L297.0 176.2 L298.0 172.2 L299.0 168.1 L300.0 163.9 L301.0 159.8 L302.0 155.7 L303.0 151.9 L304.0 148.3 L305.0 145.1 L306.0 142.3 L307.0 140.0 L308.0 138.4 L309.0 137.3 L310.0 136.9 L311.0 137.2 L312.0 138.1 L313.0 139.7 L314.0 141.8 L315.0 144.5 L316.0 147.6 L317.0 151.1 L318.0 154.9 L319.0 159.0 L320.0 163.1 L321.0 167.3 L322.0 171.4 L323.0 175.4 L324.0 179.2 L325.0 182.8 L326.0 186.2 L327.0 189.3 L328.0 192.1 L329.0 194.6 L330.0 196.7 L331.0 198.7 L332.0 200.3 L333.0 201.7 L334.0 202.8 L335.0 203.8 L336.0 204.6 L337.0 205.2 L338.0 205.6 L339.0 206.0 L340.0 206.2 L341.0 206.4 L342.0 206.5 L343.0 206.6 L344.0 206.6 L345.0 206.6 L346.0 206.5 L347.0 206.4 L348.0 206.3 L349.0 206.2 L350.0 206.0 L351.0 205.9 L352.0 205.7 L353.0 205.5 L354.0 205.3 L355.0 205.1 L356.0 204.9 L357.0 204.7 L358.0 204.5 L359.0 204.3 L360.0 204.0 L361.0 203.8 L362.0 203.5 L363.0 203.3 L364.0 203.0 L365.0 202.7" fill="none" stroke="#f47318" stroke-width="2.2"/>
<path d="M226.0 207.5 L227.0 207.5 L228.0 207.5 L229.0 207.5 L230.0 207.5 L231.0 207.5 L232.0 207.5 L233.0 207.5 L234.0 207.5 L235.0 207.5 L236.0 207.4 L237.0 207.4 L238.0 207.4 L239.0 207.3 L240.0 207.2 L241.0 207.1 L242.0 207.0 L243.0 206.8 L244.0 206.6 L245.0 206.3 L246.0 205.9 L247.0 205.4 L248.0 204.7 L249.0 204.0 L250.0 203.0 L251.0 201.9 L252.0 200.6 L253.0 199.1 L254.0 197.4 L255.0 195.4 L256.0 193.2 L257.0 190.9 L258.0 188.3 L259.0 185.5 L260.0 182.7 L261.0 179.8 L262.0 176.9 L263.0 174.0 L264.0 171.3 L265.0 168.9 L266.0 166.6 L267.0 164.8 L268.0 163.4 L269.0 162.4 L270.0 161.9 L271.0 161.9 L272.0 162.4 L273.0 163.4 L274.0 164.8 L275.0 166.6 L276.0 168.9 L277.0 171.3 L278.0 174.0 L279.0 176.9 L280.0 179.8 L281.0 182.7 L282.0 185.5 L283.0 188.3 L284.0 190.9 L285.0 193.2 L286.0 195.4 L287.0 197.4 L288.0 199.1 L289.0 200.6 L290.0 201.9 L291.0 203.0 L292.0 204.0 L293.0 204.7 L294.0 205.4 L295.0 205.9 L296.0 206.3 L297.0 206.6 L298.0 206.8 L299.0 207.0 L300.0 207.1 L301.0 207.2 L302.0 207.3 L303.0 207.4 L304.0 207.4 L305.0 207.4 L306.0 207.5 L307.0 207.5 L308.0 207.5 L309.0 207.5 L310.0 207.5 L311.0 207.5 L312.0 207.5 L313.0 207.5 L314.0 207.5 L315.0 207.5 L316.0 207.5 L317.0 207.5 L318.0 207.5 L319.0 207.5 L320.0 207.5 L321.0 207.5 L322.0 207.5 L323.0 207.5 L324.0 207.5 L325.0 207.5 L326.0 207.5 L327.0 207.5 L328.0 207.5 L329.0 207.5 L330.0 207.5 L331.0 207.5 L332.0 207.5 L333.0 207.5 L334.0 207.4 L335.0 207.4 L336.0 207.4 L337.0 207.3 L338.0 207.2 L339.0 207.2 L340.0 207.1 L341.0 207.0 L342.0 206.9 L343.0 206.8 L344.0 206.7 L345.0 206.6 L346.0 206.5 L347.0 206.3 L348.0 206.2 L349.0 206.0 L350.0 205.9 L351.0 205.7 L352.0 205.5 L353.0 205.3 L354.0 205.1 L355.0 204.9 L356.0 204.7 L357.0 204.5 L358.0 204.3 L359.0 204.1 L360.0 203.8 L361.0 203.6 L362.0 203.3 L363.0 203.1 L364.0 202.8 L365.0 202.5" fill="none" stroke="#21c03c" stroke-width="2.4"/>
<rect x="215.0" y="123.7" width="150.2" height="105.1" fill="none" stroke="#7a7a7a" stroke-width="0.90"/>
<path d="M215.0 123.7 V228.8 H365.2" fill="none" stroke="#666" stroke-width="0.90"/>
<path d="M213.7 134.7 h2.6" stroke="#555" stroke-width="0.6"/>
<text x="210.0" y="136.9" font-size="6.20" text-anchor="end" font-weight="normal" fill="#1a1a1a" stroke="#1a1a1a" stroke-width="0.12" textLength="12.2" lengthAdjust="spacingAndGlyphs" >14.1</text>
<path d="M213.7 166.3 h2.6" stroke="#555" stroke-width="0.6"/>
<text x="210.0" y="168.5" font-size="6.20" text-anchor="end" font-weight="normal" fill="#1a1a1a" stroke="#1a1a1a" stroke-width="0.12" textLength="12.2" lengthAdjust="spacingAndGlyphs" >13.8</text>
<path d="M213.7 197.5 h2.6" stroke="#555" stroke-width="0.6"/>
<text x="210.0" y="199.7" font-size="6.20" text-anchor="end" font-weight="normal" fill="#1a1a1a" stroke="#1a1a1a" stroke-width="0.12" textLength="12.2" lengthAdjust="spacingAndGlyphs" >13.5</text>
<path d="M213.7 228.8 h2.6" stroke="#555" stroke-width="0.6"/>
<text x="210.0" y="231.0" font-size="6.20" text-anchor="end" font-weight="normal" fill="#1a1a1a" stroke="#1a1a1a" stroke-width="0.12" textLength="12.2" lengthAdjust="spacingAndGlyphs" >13.2</text>
<path d="M249.5 227.5 v2.6" stroke="#555" stroke-width="0.6"/>
<text x="249.5" y="237.4" font-size="5.40" text-anchor="middle" font-weight="normal" fill="#1a1a1a" stroke="#1a1a1a" stroke-width="0.15" textLength="9.0" lengthAdjust="spacingAndGlyphs" >690</text>
<path d="M307.4 227.5 v2.6" stroke="#555" stroke-width="0.6"/>
<text x="307.4" y="237.4" font-size="5.40" text-anchor="middle" font-weight="normal" fill="#1a1a1a" stroke="#1a1a1a" stroke-width="0.15" textLength="9.0" lengthAdjust="spacingAndGlyphs" >685</text>
<path d="M365.2 227.5 v2.6" stroke="#555" stroke-width="0.6"/>
<text x="365.2" y="237.4" font-size="5.40" text-anchor="middle" font-weight="normal" fill="#1a1a1a" stroke="#1a1a1a" stroke-width="0.15" textLength="9.0" lengthAdjust="spacingAndGlyphs" >680</text>
<text x="290.0" y="244.7" font-size="5.90" text-anchor="middle" font-weight="bold" fill="#000" stroke="#000" stroke-width="0.15" textLength="58.0" lengthAdjust="spacingAndGlyphs" >Binding Energy (eV)</text>
<text x="0" y="0" font-size="5.20" font-weight="bold" fill="#000" stroke="#000" stroke-width="0.18" textLength="28.6" lengthAdjust="spacingAndGlyphs" text-anchor="middle" transform="translate(195.0 176.2) rotate(-90)">Counts/sec</text>
<circle cx="220.8" cy="130.6" r="1.5" fill="#21c03c"/>
<text x="224.0" y="132.1" font-size="5.80" text-anchor="start" font-weight="normal" fill="#000" stroke="#000" stroke-width="0.10" textLength="46.5" lengthAdjust="spacingAndGlyphs" >F 1s (C-F Covalent)</text>
<path d="M220.8 138.6 l1.9 3.2 h-3.8z" fill="#f47318"/>
<text x="224.5" y="141.9" font-size="5.80" text-anchor="start" font-weight="normal" fill="#000" stroke="#000" stroke-width="0.10" textLength="37.5" lengthAdjust="spacingAndGlyphs" >F 1s (C-F Ionic)</text>
<text x="393.1" y="120.4" font-size="7.60" text-anchor="start" font-weight="bold" fill="#000" >F</text>
<path d="M395.3 215.7a1.2 1.2 0 1 0 0.01 0zM396.6 218.0a1.2 1.2 0 1 0 0.01 0zM397.3 220.8a1.2 1.2 0 1 0 0.01 0zM399.0 217.6a1.2 1.2 0 1 0 0.01 0zM400.6 217.1a1.2 1.2 0 1 0 0.01 0zM401.3 214.6a1.2 1.2 0 1 0 0.01 0zM403.1 214.1a1.2 1.2 0 1 0 0.01 0zM404.6 217.1a1.2 1.2 0 1 0 0.01 0zM405.4 215.7a1.2 1.2 0 1 0 0.01 0zM407.3 214.6a1.2 1.2 0 1 0 0.01 0zM408.7 213.0a1.2 1.2 0 1 0 0.01 0zM409.8 212.7a1.2 1.2 0 1 0 0.01 0zM411.3 214.1a1.2 1.2 0 1 0 0.01 0zM412.3 212.6a1.2 1.2 0 1 0 0.01 0zM413.3 205.9a1.2 1.2 0 1 0 0.01 0zM415.2 210.1a1.2 1.2 0 1 0 0.01 0zM416.1 209.4a1.2 1.2 0 1 0 0.01 0zM417.3 210.6a1.2 1.2 0 1 0 0.01 0zM419.1 211.0a1.2 1.2 0 1 0 0.01 0zM420.2 207.7a1.2 1.2 0 1 0 0.01 0zM421.8 209.3a1.2 1.2 0 1 0 0.01 0zM422.6 206.2a1.2 1.2 0 1 0 0.01 0zM423.9 211.6a1.2 1.2 0 1 0 0.01 0zM425.6 213.0a1.2 1.2 0 1 0 0.01 0zM427.0 205.5a1.2 1.2 0 1 0 0.01 0zM428.0 209.0a1.2 1.2 0 1 0 0.01 0zM430.0 204.2a1.2 1.2 0 1 0 0.01 0zM431.1 203.6a1.2 1.2 0 1 0 0.01 0zM432.3 199.6a1.2 1.2 0 1 0 0.01 0zM433.7 198.8a1.2 1.2 0 1 0 0.01 0zM435.2 203.5a1.2 1.2 0 1 0 0.01 0zM436.3 198.6a1.2 1.2 0 1 0 0.01 0zM437.5 195.5a1.2 1.2 0 1 0 0.01 0zM439.0 197.6a1.2 1.2 0 1 0 0.01 0zM440.1 191.2a1.2 1.2 0 1 0 0.01 0zM441.8 197.4a1.2 1.2 0 1 0 0.01 0zM443.0 193.1a1.2 1.2 0 1 0 0.01 0zM444.3 187.7a1.2 1.2 0 1 0 0.01 0zM445.3 188.8a1.2 1.2 0 1 0 0.01 0zM447.1 189.6a1.2 1.2 0 1 0 0.01 0zM448.5 186.4a1.2 1.2 0 1 0 0.01 0zM449.2 189.7a1.2 1.2 0 1 0 0.01 0zM450.6 182.5a1.2 1.2 0 1 0 0.01 0zM451.9 181.7a1.2 1.2 0 1 0 0.01 0zM453.3 187.1a1.2 1.2 0 1 0 0.01 0zM455.2 185.8a1.2 1.2 0 1 0 0.01 0zM456.1 186.2a1.2 1.2 0 1 0 0.01 0zM457.3 189.0a1.2 1.2 0 1 0 0.01 0zM458.8 188.4a1.2 1.2 0 1 0 0.01 0zM459.8 194.6a1.2 1.2 0 1 0 0.01 0zM461.6 191.5a1.2 1.2 0 1 0 0.01 0zM462.6 188.5a1.2 1.2 0 1 0 0.01 0zM463.9 196.0a1.2 1.2 0 1 0 0.01 0zM465.6 193.7a1.2 1.2 0 1 0 0.01 0zM466.4 187.0a1.2 1.2 0 1 0 0.01 0zM468.0 191.0a1.2 1.2 0 1 0 0.01 0zM469.1 186.2a1.2 1.2 0 1 0 0.01 0zM471.2 186.7a1.2 1.2 0 1 0 0.01 0zM472.0 188.9a1.2 1.2 0 1 0 0.01 0zM473.5 177.1a1.2 1.2 0 1 0 0.01 0zM474.5 177.8a1.2 1.2 0 1 0 0.01 0zM476.2 171.0a1.2 1.2 0 1 0 0.01 0zM477.1 171.7a1.2 1.2 0 1 0 0.01 0zM478.5 166.0a1.2 1.2 0 1 0 0.01 0zM480.5 151.2a1.2 1.2 0 1 0 0.01 0zM481.8 149.4a1.2 1.2 0 1 0 0.01 0zM483.0 146.9a1.2 1.2 0 1 0 0.01 0zM484.3 143.1a1.2 1.2 0 1 0 0.01 0zM485.6 145.6a1.2 1.2 0 1 0 0.01 0zM486.7 145.6a1.2 1.2 0 1 0 0.01 0zM488.1 141.1a1.2 1.2 0 1 0 0.01 0zM489.5 138.6a1.2 1.2 0 1 0 0.01 0zM491.0 146.0a1.2 1.2 0 1 0 0.01 0zM491.8 146.1a1.2 1.2 0 1 0 0.01 0zM493.1 154.7a1.2 1.2 0 1 0 0.01 0zM494.6 162.2a1.2 1.2 0 1 0 0.01 0zM496.0 157.5a1.2 1.2 0 1 0 0.01 0zM497.2 167.0a1.2 1.2 0 1 0 0.01 0zM499.0 170.5a1.2 1.2 0 1 0 0.01 0zM500.3 184.0a1.2 1.2 0 1 0 0.01 0zM501.0 180.5a1.2 1.2 0 1 0 0.01 0zM503.0 189.0a1.2 1.2 0 1 0 0.01 0zM503.7 191.2a1.2 1.2 0 1 0 0.01 0zM505.5 202.3a1.2 1.2 0 1 0 0.01 0zM506.9 197.8a1.2 1.2 0 1 0 0.01 0zM507.8 205.0a1.2 1.2 0 1 0 0.01 0zM509.3 206.0a1.2 1.2 0 1 0 0.01 0zM510.4 212.4a1.2 1.2 0 1 0 0.01 0zM511.8 210.9a1.2 1.2 0 1 0 0.01 0zM513.4 215.0a1.2 1.2 0 1 0 0.01 0zM514.3 217.9a1.2 1.2 0 1 0 0.01 0zM515.9 212.8a1.2 1.2 0 1 0 0.01 0zM517.1 217.5a1.2 1.2 0 1 0 0.01 0zM518.4 206.9a1.2 1.2 0 1 0 0.01 0zM520.2 217.6a1.2 1.2 0 1 0 0.01 0zM521.1 208.4a1.2 1.2 0 1 0 0.01 0zM522.4 216.1a1.2 1.2 0 1 0 0.01 0zM524.3 216.9a1.2 1.2 0 1 0 0.01 0zM525.7 213.5a1.2 1.2 0 1 0 0.01 0zM526.6 215.3a1.2 1.2 0 1 0 0.01 0zM527.8 212.1a1.2 1.2 0 1 0 0.01 0zM529.6 210.9a1.2 1.2 0 1 0 0.01 0zM530.6 211.3a1.2 1.2 0 1 0 0.01 0zM531.9 215.3a1.2 1.2 0 1 0 0.01 0zM533.3 212.3a1.2 1.2 0 1 0 0.01 0zM534.5 209.5a1.2 1.2 0 1 0 0.01 0zM536.0 214.1a1.2 1.2 0 1 0 0.01 0zM537.2 213.9a1.2 1.2 0 1 0 0.01 0zM538.5 214.1a1.2 1.2 0 1 0 0.01 0zM539.9 212.7a1.2 1.2 0 1 0 0.01 0zM541.7 212.3a1.2 1.2 0 1 0 0.01 0zM542.5 211.0a1.2 1.2 0 1 0 0.01 0z" fill="#111" stroke="none"/>
<path d="M398.0 217.8 L399.0 217.8 L400.0 217.8 L401.0 217.8 L402.0 217.8 L403.0 217.8 L404.0 217.8 L405.0 217.8 L406.0 217.8 L407.0 217.8 L408.0 217.8 L409.0 217.8 L410.0 217.8 L411.0 217.7 L412.0 217.7 L413.0 217.7 L414.0 217.7 L415.0 217.6 L416.0 217.5 L417.0 217.5 L418.0 217.4 L419.0 217.3 L420.0 217.1 L421.0 216.9 L422.0 216.7 L423.0 216.4 L424.0 216.0 L425.0 215.6 L426.0 215.1 L427.0 214.6 L428.0 213.9 L429.0 213.2 L430.0 212.3 L431.0 211.4 L432.0 210.4 L433.0 209.2 L434.0 208.0 L435.0 206.6 L436.0 205.2 L437.0 203.7 L438.0 202.2 L439.0 200.6 L440.0 199.0 L441.0 197.4 L442.0 195.9 L443.0 194.4 L444.0 193.0 L445.0 191.7 L446.0 190.6 L447.0 189.6 L448.0 188.8 L449.0 188.3 L450.0 187.9 L451.0 187.7 L452.0 187.8 L453.0 188.1 L454.0 188.5 L455.0 189.1 L456.0 189.9 L457.0 190.8 L458.0 191.7 L459.0 192.7 L460.0 193.6 L461.0 194.5 L462.0 195.3 L463.0 195.9 L464.0 196.3 L465.0 196.4 L466.0 196.3 L467.0 195.8 L468.0 195.0 L469.0 193.8 L470.0 192.2 L471.0 190.2 L472.0 187.8 L473.0 185.0 L474.0 182.0 L475.0 178.6 L476.0 175.0 L477.0 171.3 L478.0 167.5 L479.0 163.6 L480.0 159.9 L481.0 156.4 L482.0 153.1 L483.0 150.2 L484.0 147.7 L485.0 145.7 L486.0 144.3 L487.0 143.5 L488.0 143.3 L489.0 143.8 L490.0 144.9 L491.0 146.6 L492.0 148.9 L493.0 151.7 L494.0 154.9 L495.0 158.5 L496.0 162.3 L497.0 166.4 L498.0 170.6 L499.0 174.7 L500.0 178.9 L501.0 182.9 L502.0 186.8 L503.0 190.5 L504.0 193.9 L505.0 197.0 L506.0 199.9 L507.0 202.5 L508.0 204.7 L509.0 206.7 L510.0 208.5 L511.0 210.0 L512.0 211.2 L513.0 212.3 L514.0 213.2 L515.0 213.9 L516.0 214.5 L517.0 214.9 L518.0 215.3 L519.0 215.6 L520.0 215.8 L521.0 216.0 L522.0 216.1 L523.0 216.2 L524.0 216.3 L525.0 216.3 L526.0 216.2 L527.0 216.2 L528.0 216.1 L529.0 216.0 L530.0 215.9 L531.0 215.7 L532.0 215.6 L533.0 215.4 L534.0 215.2 L535.0 215.0 L536.0 214.7 L537.0 214.5 L538.0 214.2 L539.0 213.9 L540.0 213.6 L541.0 213.3 L542.0 213.0" fill="none" stroke="#222" stroke-width="0.6" stroke-dasharray="1.4 0.9"/>
<path d="M398.0 217.8 L399.0 217.8 L400.0 217.8 L401.0 217.8 L402.0 217.8 L403.0 217.8 L404.0 217.8 L405.0 217.8 L406.0 217.8 L407.0 217.8 L408.0 217.8 L409.0 217.8 L410.0 217.8 L411.0 217.8 L412.0 217.8 L413.0 217.8 L414.0 217.8 L415.0 217.8 L416.0 217.8 L417.0 217.8 L418.0 217.8 L419.0 217.8 L420.0 217.8 L421.0 217.8 L422.0 217.8 L423.0 217.8 L424.0 217.7 L425.0 217.7 L426.0 217.7 L427.0 217.7 L428.0 217.7 L429.0 217.7 L430.0 217.7 L431.0 217.7 L432.0 217.6 L433.0 217.6 L434.0 217.6 L435.0 217.6 L436.0 217.6 L437.0 217.6 L438.0 217.6 L439.0 217.6 L440.0 217.5 L441.0 217.5 L442.0 217.5 L443.0 217.5 L444.0 217.5 L445.0 217.5 L446.0 217.4 L447.0 217.4 L448.0 217.4 L449.0 217.3 L450.0 217.3 L451.0 217.2 L452.0 217.2 L453.0 217.1 L454.0 216.9 L455.0 216.7 L456.0 216.5 L457.0 216.3 L458.0 215.9 L459.0 215.5 L460.0 214.9 L461.0 214.3 L462.0 213.5 L463.0 212.5 L464.0 211.3 L465.0 210.0 L466.0 208.4 L467.0 206.5 L468.0 204.4 L469.0 201.9 L470.0 199.2 L471.0 196.2 L472.0 192.9 L473.0 189.4 L474.0 185.6 L475.0 181.7 L476.0 177.5 L477.0 173.3 L478.0 169.1 L479.0 165.0 L480.0 161.0 L481.0 157.2 L482.0 153.7 L483.0 150.7 L484.0 148.1 L485.0 146.0 L486.0 144.5 L487.0 143.7 L488.0 143.5 L489.0 143.9 L490.0 145.0 L491.0 146.7 L492.0 148.9 L493.0 151.7 L494.0 154.9 L495.0 158.5 L496.0 162.4 L497.0 166.4 L498.0 170.6 L499.0 174.8 L500.0 178.9 L501.0 182.9 L502.0 186.8 L503.0 190.5 L504.0 193.9 L505.0 197.0 L506.0 199.9 L507.0 202.5 L508.0 204.7 L509.0 206.7 L510.0 208.5 L511.0 210.0 L512.0 211.2 L513.0 212.3 L514.0 213.2 L515.0 213.9 L516.0 214.5 L517.0 214.9 L518.0 215.3 L519.0 215.6 L520.0 215.8 L521.0 216.0 L522.0 216.1 L523.0 216.2 L524.0 216.3 L525.0 216.3 L526.0 216.4 L527.0 216.4 L528.0 216.4 L529.0 216.4 L530.0 216.4 L531.0 216.4 L532.0 216.4 L533.0 216.4 L534.0 216.4 L535.0 216.4 L536.0 216.3 L537.0 216.3 L538.0 216.3 L539.0 216.3 L540.0 216.3 L541.0 216.3 L542.0 216.3" fill="none" stroke="#f47318" stroke-width="1.5" stroke-dasharray="1.3 0.45"/>
<path d="M398.0 217.8 L399.0 217.8 L400.0 217.8 L401.0 217.8 L402.0 217.8 L403.0 217.8 L404.0 217.8 L405.0 217.8 L406.0 217.8 L407.0 217.8 L408.0 217.8 L409.0 217.8 L410.0 217.8 L411.0 217.7 L412.0 217.7 L413.0 217.7 L414.0 217.7 L415.0 217.6 L416.0 217.5 L417.0 217.5 L418.0 217.4 L419.0 217.3 L420.0 217.1 L421.0 216.9 L422.0 216.7 L423.0 216.4 L424.0 216.1 L425.0 215.7 L426.0 215.2 L427.0 214.6 L428.0 214.0 L429.0 213.3 L430.0 212.5 L431.0 211.5 L432.0 210.5 L433.0 209.4 L434.0 208.2 L435.0 206.8 L436.0 205.4 L437.0 204.0 L438.0 202.4 L439.0 200.9 L440.0 199.3 L441.0 197.7 L442.0 196.2 L443.0 194.7 L444.0 193.3 L445.0 192.1 L446.0 190.9 L447.0 190.0 L448.0 189.3 L449.0 188.7 L450.0 188.4 L451.0 188.3 L452.0 188.4 L453.0 188.8 L454.0 189.4 L455.0 190.2 L456.0 191.2 L457.0 192.3 L458.0 193.6 L459.0 195.0 L460.0 196.5 L461.0 198.0 L462.0 199.6 L463.0 201.2 L464.0 202.7 L465.0 204.3 L466.0 205.7 L467.0 207.1 L468.0 208.4 L469.0 209.6 L470.0 210.7 L471.0 211.7 L472.0 212.6 L473.0 213.4 L474.0 214.1 L475.0 214.8 L476.0 215.3 L477.0 215.8 L478.0 216.1 L479.0 216.5 L480.0 216.7 L481.0 217.0 L482.0 217.1 L483.0 217.3 L484.0 217.4 L485.0 217.5 L486.0 217.6 L487.0 217.6 L488.0 217.7 L489.0 217.7 L490.0 217.7 L491.0 217.7 L492.0 217.8 L493.0 217.8 L494.0 217.8 L495.0 217.8 L496.0 217.8 L497.0 217.8 L498.0 217.8 L499.0 217.8 L500.0 217.8 L501.0 217.8 L502.0 217.8 L503.0 217.8 L504.0 217.8 L505.0 217.8 L506.0 217.8 L507.0 217.8 L508.0 217.8 L509.0 217.8 L510.0 217.8 L511.0 217.8 L512.0 217.8 L513.0 217.8 L514.0 217.8 L515.0 217.8 L516.0 217.8 L517.0 217.8 L518.0 217.8 L519.0 217.8 L520.0 217.8 L521.0 217.8 L522.0 217.8 L523.0 217.8 L524.0 217.8 L525.0 217.7 L526.0 217.7 L527.0 217.6 L528.0 217.5 L529.0 217.4 L530.0 217.3 L531.0 217.1 L532.0 217.0 L533.0 216.8 L534.0 216.6 L535.0 216.4 L536.0 216.2 L537.0 215.9 L538.0 215.7 L539.0 215.4 L540.0 215.1 L541.0 214.8 L542.0 214.5" fill="none" stroke="#21c03c" stroke-width="2.4"/>
<path d="M447.8 165.3 H453.4 V179.5 H455.4 L450.6 184.6 L445.8 179.5 H447.8 Z" fill="url(#ga)" stroke="#888" stroke-width="0.55"/>
<rect x="393.4" y="123.7" width="150.2" height="105.1" fill="none" stroke="#7a7a7a" stroke-width="0.90"/>
<path d="M393.4 123.7 V228.8 H543.6" fill="none" stroke="#666" stroke-width="0.90"/>
<path d="M392.1 123.7 h2.6" stroke="#555" stroke-width="0.6"/>
<text x="388.8" y="125.9" font-size="6.20" text-anchor="end" font-weight="normal" fill="#1a1a1a" stroke="#1a1a1a" stroke-width="0.12" textLength="11.5" lengthAdjust="spacingAndGlyphs" >15.9</text>
<path d="M392.1 138.7 h2.6" stroke="#555" stroke-width="0.6"/>
<text x="388.8" y="140.9" font-size="6.20" text-anchor="end" font-weight="normal" fill="#1a1a1a" stroke="#1a1a1a" stroke-width="0.12" textLength="11.5" lengthAdjust="spacingAndGlyphs" >15.6</text>
<path d="M392.1 153.7 h2.6" stroke="#555" stroke-width="0.6"/>
<text x="388.8" y="156.0" font-size="6.20" text-anchor="end" font-weight="normal" fill="#1a1a1a" stroke="#1a1a1a" stroke-width="0.12" textLength="11.5" lengthAdjust="spacingAndGlyphs" >15.3</text>
<path d="M392.1 168.7 h2.6" stroke="#555" stroke-width="0.6"/>
<text x="388.8" y="171.0" font-size="6.20" text-anchor="end" font-weight="normal" fill="#1a1a1a" stroke="#1a1a1a" stroke-width="0.12" textLength="6.6" lengthAdjust="spacingAndGlyphs" >15</text>
<path d="M392.1 183.7 h2.6" stroke="#555" stroke-width="0.6"/>
<text x="388.8" y="186.0" font-size="6.20" text-anchor="end" font-weight="normal" fill="#1a1a1a" stroke="#1a1a1a" stroke-width="0.12" textLength="11.5" lengthAdjust="spacingAndGlyphs" >14.7</text>
<path d="M392.1 198.8 h2.6" stroke="#555" stroke-width="0.6"/>
<text x="388.8" y="201.0" font-size="6.20" text-anchor="end" font-weight="normal" fill="#1a1a1a" stroke="#1a1a1a" stroke-width="0.12" textLength="11.5" lengthAdjust="spacingAndGlyphs" >14.4</text>
<path d="M392.1 213.8 h2.6" stroke="#555" stroke-width="0.6"/>
<text x="388.8" y="216.0" font-size="6.20" text-anchor="end" font-weight="normal" fill="#1a1a1a" stroke="#1a1a1a" stroke-width="0.12" textLength="11.5" lengthAdjust="spacingAndGlyphs" >14.1</text>
<path d="M392.1 228.8 h2.6" stroke="#555" stroke-width="0.6"/>
<text x="388.8" y="231.0" font-size="6.20" text-anchor="end" font-weight="normal" fill="#1a1a1a" stroke="#1a1a1a" stroke-width="0.12" textLength="11.5" lengthAdjust="spacingAndGlyphs" >13.8</text>
<path d="M427.6 227.5 v2.6" stroke="#555" stroke-width="0.6"/>
<text x="427.6" y="237.4" font-size="5.40" text-anchor="middle" font-weight="normal" fill="#1a1a1a" stroke="#1a1a1a" stroke-width="0.15" textLength="9.0" lengthAdjust="spacingAndGlyphs" >690</text>
<path d="M485.6 227.5 v2.6" stroke="#555" stroke-width="0.6"/>
<text x="485.6" y="237.4" font-size="5.40" text-anchor="middle" font-weight="normal" fill="#1a1a1a" stroke="#1a1a1a" stroke-width="0.15" textLength="9.0" lengthAdjust="spacingAndGlyphs" >685</text>
<path d="M543.6 227.5 v2.6" stroke="#555" stroke-width="0.6"/>
<text x="543.6" y="237.4" font-size="5.40" text-anchor="middle" font-weight="normal" fill="#1a1a1a" stroke="#1a1a1a" stroke-width="0.15" textLength="9.0" lengthAdjust="spacingAndGlyphs" >680</text>
<text x="468.0" y="244.7" font-size="5.90" text-anchor="middle" font-weight="bold" fill="#000" stroke="#000" stroke-width="0.15" textLength="58.0" lengthAdjust="spacingAndGlyphs" >Binding Energy (eV)</text>
<text x="0" y="0" font-size="5.20" font-weight="normal" fill="#888" textLength="28.5" lengthAdjust="spacingAndGlyphs" text-anchor="middle" transform="translate(375.2 176.2) rotate(-90)">Counts/sec</text>
<rect x="401.5" y="129.5" width="2.4" height="2.4" fill="#21c03c"/>
<text x="405.9" y="132.1" font-size="5.80" text-anchor="start" font-weight="normal" fill="#000" stroke="#000" stroke-width="0.10" textLength="46.0" lengthAdjust="spacingAndGlyphs" >F 1s (C-F Covalent)</text>
<path d="M402.9 138.6 l1.9 3.2 h-3.8z" fill="#f47318"/>
<text x="407.1" y="141.9" font-size="5.80" text-anchor="start" font-weight="normal" fill="#000" stroke="#000" stroke-width="0.10" textLength="36.9" lengthAdjust="spacingAndGlyphs" >F 1s (C-F Ionic)</text>
</svg><svg class="wc" width="550" height="289" style="position:absolute;left:0;top:0"><defs><linearGradient id="hg" x1="0" y1="0" x2="0" y2="1"><stop offset="0" stop-color="#e8e8e8"/><stop offset="1" stop-color="#d0d0d0"/></linearGradient></defs><rect x="114.7" y="255.6" width="72.6" height="9.2" fill="url(#hg)"/><rect x="187.3" y="255.6" width="33.1" height="9.2" fill="url(#hg)"/><rect x="220.4" y="255.6" width="38.2" height="9.2" fill="url(#hg)"/><rect x="258.6" y="255.6" width="61.0" height="9.2" fill="url(#hg)"/><rect x="319.6" y="255.6" width="65.5" height="9.2" fill="url(#hg)"/><rect x="385.1" y="255.6" width="58.7" height="9.2" fill="url(#hg)"/><rect x="114.7" y="264.8" width="72.6" height="9.4" fill="#ffff00"/><rect x="319.6" y="264.8" width="65.5" height="9.4" fill="#ffff00"/><rect x="385.1" y="264.8" width="58.7" height="9.4" fill="#ffff00"/><rect x="114.7" y="274.2" width="72.6" height="9.6" fill="#ffff00"/><rect x="319.6" y="274.2" width="65.5" height="9.6" fill="#ffff00"/><rect x="385.1" y="274.2" width="58.7" height="9.6" fill="#ffff00"/><path d="M114.7 255.6 V283.8" stroke="#555" stroke-width="0.8"/><path d="M187.3 255.6 V283.8" stroke="#555" stroke-width="0.8"/><path d="M220.4 255.6 V283.8" stroke="#555" stroke-width="0.8"/><path d="M258.6 255.6 V283.8" stroke="#555" stroke-width="0.8"/><path d="M319.6 255.6 V283.8" stroke="#555" stroke-width="0.8"/><path d="M385.1 255.6 V283.8" stroke="#555" stroke-width="0.8"/><path d="M443.8 255.6 V283.8" stroke="#555" stroke-width="0.8"/><path d="M114.7 255.6 H443.8" stroke="#555" stroke-width="0.8"/><path d="M114.7 264.8 H443.8" stroke="#555" stroke-width="0.8"/><path d="M114.7 274.2 H443.8" stroke="#555" stroke-width="0.8"/><path d="M114.7 283.8 H443.8" stroke="#555" stroke-width="0.8"/></svg><div class="wc" style="position:absolute;left:0;top:0;width:550px;height:289px"><div style="position:absolute;left:114.7px;top:256.4px;width:72.6px;height:9.2px;background:transparent;font:normal 7.5px/9.2px 'Liberation Sans', sans-serif;text-align:center;white-space:nowrap;color:#000;overflow:visible;-webkit-text-stroke:0.15px #000">Signal spectra</div><div style="position:absolute;left:187.3px;top:256.4px;width:33.1px;height:9.2px;background:transparent;font:normal 7.5px/9.2px 'Liberation Sans', sans-serif;text-align:center;white-space:nowrap;color:#000;overflow:visible;-webkit-text-stroke:0.15px #000">Peak BE</div><div style="position:absolute;left:220.4px;top:256.4px;width:38.2px;height:9.2px;background:transparent;font:normal 7.5px/9.2px 'Liberation Sans', sans-serif;text-align:center;white-space:nowrap;color:#000;overflow:visible;-webkit-text-stroke:0.15px #000">FWHM eV</div><div style="position:absolute;left:258.6px;top:256.4px;width:61.0px;height:9.2px;background:transparent;font:normal 7.5px/9.2px 'Liberation Sans', sans-serif;text-align:center;white-space:nowrap;color:#000;overflow:visible;-webkit-text-stroke:0.15px #000">Area (P) CPS.eV</div><div style="position:absolute;left:319.6px;top:256.4px;width:65.5px;height:9.2px;background:transparent;font:normal 7.5px/9.2px 'Liberation Sans', sans-serif;text-align:center;white-space:nowrap;color:#000;overflow:visible;-webkit-text-stroke:0.15px #000">Atomic % (Before)</div><div style="position:absolute;left:385.1px;top:256.4px;width:58.7px;height:9.2px;background:transparent;font:normal 7.5px/9.2px 'Liberation Sans', sans-serif;text-align:center;white-space:nowrap;color:#000;overflow:visible;-webkit-text-stroke:0.15px #000">Atomic % (After)</div><div style="position:absolute;left:114.7px;top:265.6px;width:72.6px;height:9.4px;background:transparent;font:bold 7.6px/9.4px 'Liberation Sans', sans-serif;text-align:left;padding-left:1.8px;box-sizing:border-box;white-space:nowrap;color:#000;overflow:visible;-webkit-text-stroke:0.1px #000">F1s (C-F Ionic)</div><div style="position:absolute;left:187.3px;top:265.6px;width:33.1px;height:9.4px;background:transparent;font:normal 7.5px/9.4px 'Liberation Sans', sans-serif;text-align:center;white-space:nowrap;color:#000;overflow:visible;-webkit-text-stroke:0.15px #000">684.76</div><div style="position:absolute;left:220.4px;top:265.6px;width:38.2px;height:9.4px;background:transparent;font:normal 7.5px/9.4px 'Liberation Sans', sans-serif;text-align:center;white-space:nowrap;color:#000;overflow:visible;-webkit-text-stroke:0.15px #000">1.84</div><div style="position:absolute;left:258.6px;top:265.6px;width:61.0px;height:9.4px;background:transparent;font:normal 7.5px/9.4px 'Liberation Sans', sans-serif;text-align:center;white-space:nowrap;color:#000;overflow:visible;-webkit-text-stroke:0.15px #000">1492.61</div><div style="position:absolute;left:319.6px;top:265.6px;width:65.5px;height:9.4px;background:transparent;font:bold 7.6px/9.4px 'Liberation Sans', sans-serif;text-align:center;white-space:nowrap;color:#000;overflow:visible;-webkit-text-stroke:0.1px #000">61.58</div><div style="position:absolute;left:385.1px;top:265.6px;width:58.7px;height:9.4px;background:transparent;font:bold 7.6px/9.4px 'Liberation Sans', sans-serif;text-align:center;white-space:nowrap;color:#000;overflow:visible;-webkit-text-stroke:0.1px #000">72.35</div><div style="position:absolute;left:114.7px;top:275.0px;width:72.6px;height:9.6px;background:transparent;font:bold 7.6px/9.6px 'Liberation Sans', sans-serif;text-align:left;padding-left:1.8px;box-sizing:border-box;white-space:nowrap;color:#000;overflow:visible;-webkit-text-stroke:0.1px #000">F1s (C-F Covalent)</div><div style="position:absolute;left:187.3px;top:275.0px;width:33.1px;height:9.6px;background:transparent;font:normal 7.5px/9.6px 'Liberation Sans', sans-serif;text-align:center;white-space:nowrap;color:#000;overflow:visible;-webkit-text-stroke:0.15px #000">688.04</div><div style="position:absolute;left:220.4px;top:275.0px;width:38.2px;height:9.6px;background:transparent;font:normal 7.5px/9.6px 'Liberation Sans', sans-serif;text-align:center;white-space:nowrap;color:#000;overflow:visible;-webkit-text-stroke:0.15px #000">1.92</div><div style="position:absolute;left:258.6px;top:275.0px;width:61.0px;height:9.6px;background:transparent;font:normal 7.5px/9.6px 'Liberation Sans', sans-serif;text-align:center;white-space:nowrap;color:#000;overflow:visible;-webkit-text-stroke:0.15px #000">930.13</div><div style="position:absolute;left:319.6px;top:275.0px;width:65.5px;height:9.6px;background:transparent;font:bold 7.6px/9.6px 'Liberation Sans', sans-serif;text-align:center;white-space:nowrap;color:#000;overflow:visible;-webkit-text-stroke:0.1px #000">38.42</div><div style="position:absolute;left:385.1px;top:275.0px;width:58.7px;height:9.6px;background:transparent;font:bold 7.6px/9.6px 'Liberation Sans', sans-serif;text-align:center;white-space:nowrap;color:#000;overflow:visible;-webkit-text-stroke:0.1px #000">27.65</div></div></div></body></html>
